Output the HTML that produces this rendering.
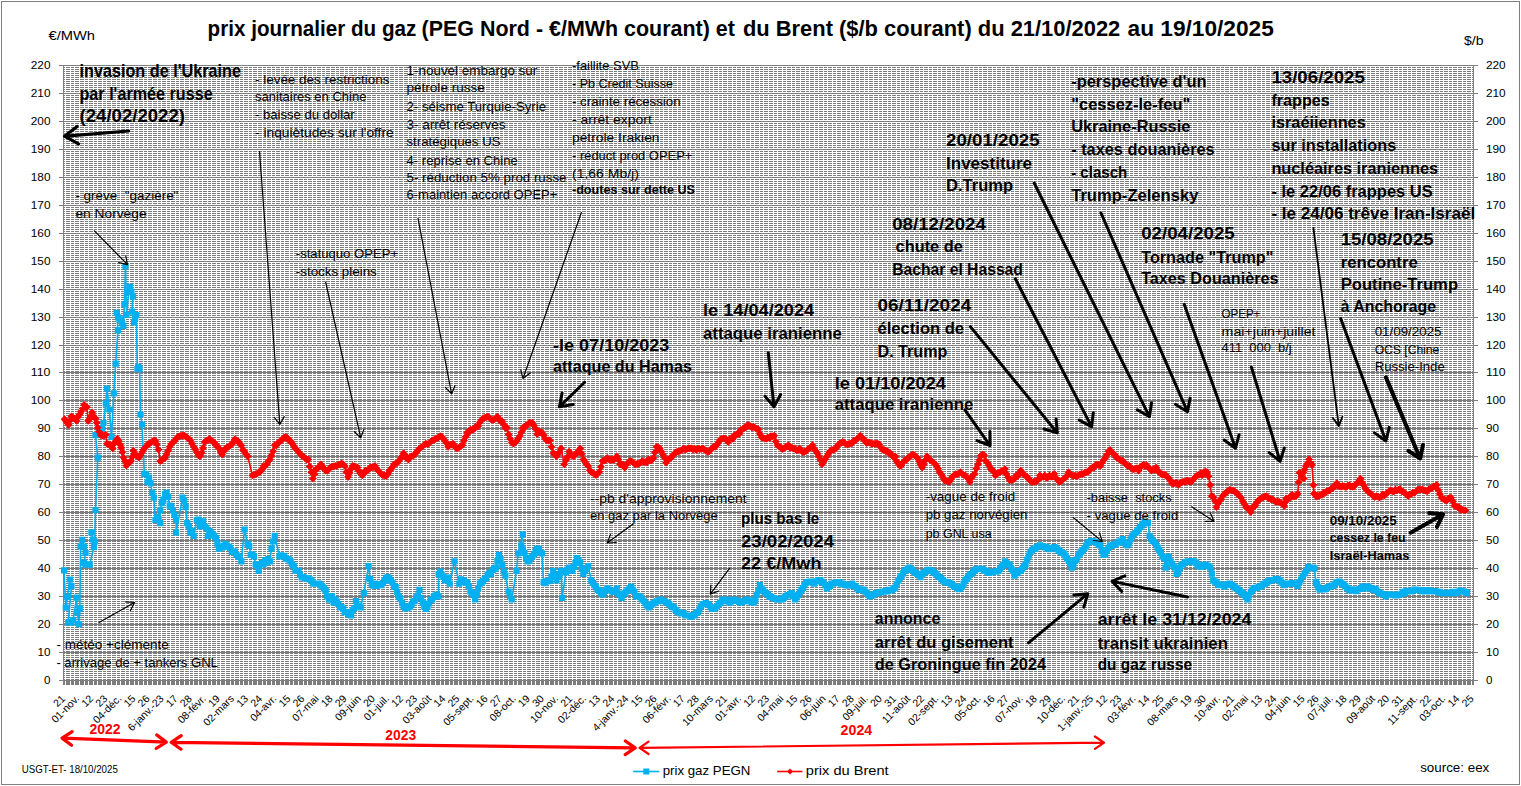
<!DOCTYPE html>
<html><head><meta charset="utf-8"><title>prix journalier gaz et Brent</title>
<style>html,body{margin:0;padding:0;background:#fff;}svg{display:block;}</style></head>
<body><svg width="1521" height="786" viewBox="0 0 1521 786" font-family='"Liberation Sans", sans-serif'>
<rect x="0" y="0" width="1521" height="786" fill="#fff"/>
<rect x="1.5" y="1.5" width="1518" height="783" fill="none" stroke="#808080" stroke-width="1" shape-rendering="crispEdges"/>
<path d="M64 67.5H1473M64 69.5H1473M64 71.5H1473M64 73.5H1473M64 75.5H1473M64 77.5H1473M64 79.5H1473M64 81.5H1473M64 83.5H1473M64 85.5H1473M64 87.5H1473M64 89.5H1473M64 91.5H1473M64 93.5H1473M64 95.5H1473M64 97.5H1473M64 99.5H1473M64 101.5H1473M64 103.5H1473M64 105.5H1473M64 107.5H1473M64 109.5H1473M64 111.5H1473M64 113.5H1473M64 115.5H1473M64 117.5H1473M64 119.5H1473M64 121.5H1473M64 123.5H1473M64 125.5H1473M64 127.5H1473M64 129.5H1473M64 131.5H1473M64 133.5H1473M64 135.5H1473M64 137.5H1473M64 139.5H1473M64 141.5H1473M64 143.5H1473M64 145.5H1473M64 147.5H1473M64 149.5H1473M64 151.5H1473M64 153.5H1473M64 155.5H1473M64 157.5H1473M64 159.5H1473M64 161.5H1473M64 163.5H1473M64 165.5H1473M64 167.5H1473M64 169.5H1473M64 171.5H1473M64 173.5H1473M64 175.5H1473M64 177.5H1473M64 179.5H1473M64 181.5H1473M64 183.5H1473M64 185.5H1473M64 187.5H1473M64 189.5H1473M64 191.5H1473M64 193.5H1473M64 195.5H1473M64 197.5H1473M64 199.5H1473M64 201.5H1473M64 203.5H1473M64 205.5H1473M64 207.5H1473M64 209.5H1473M64 211.5H1473M64 213.5H1473M64 215.5H1473M64 217.5H1473M64 219.5H1473M64 221.5H1473M64 223.5H1473M64 225.5H1473M64 227.5H1473M64 229.5H1473M64 231.5H1473M64 233.5H1473M64 235.5H1473M64 237.5H1473M64 239.5H1473M64 241.5H1473M64 243.5H1473M64 245.5H1473M64 247.5H1473M64 249.5H1473M64 251.5H1473M64 253.5H1473M64 255.5H1473M64 257.5H1473M64 259.5H1473M64 261.5H1473M64 263.5H1473M64 265.5H1473M64 267.5H1473M64 269.5H1473M64 271.5H1473M64 273.5H1473M64 275.5H1473M64 277.5H1473M64 279.5H1473M64 281.5H1473M64 283.5H1473M64 285.5H1473M64 287.5H1473M64 289.5H1473M64 291.5H1473M64 293.5H1473M64 295.5H1473M64 297.5H1473M64 299.5H1473M64 301.5H1473M64 303.5H1473M64 305.5H1473M64 307.5H1473M64 309.5H1473M64 311.5H1473M64 313.5H1473M64 315.5H1473M64 317.5H1473M64 319.5H1473M64 321.5H1473M64 323.5H1473M64 325.5H1473M64 327.5H1473M64 329.5H1473M64 331.5H1473M64 333.5H1473M64 335.5H1473M64 337.5H1473M64 339.5H1473M64 341.5H1473M64 343.5H1473M64 345.5H1473M64 347.5H1473M64 349.5H1473M64 351.5H1473M64 353.5H1473M64 355.5H1473M64 357.5H1473M64 359.5H1473M64 361.5H1473M64 363.5H1473M64 365.5H1473M64 367.5H1473M64 369.5H1473M64 371.5H1473M64 373.5H1473M64 375.5H1473M64 377.5H1473M64 379.5H1473M64 381.5H1473M64 383.5H1473M64 385.5H1473M64 387.5H1473M64 389.5H1473M64 391.5H1473M64 393.5H1473M64 395.5H1473M64 397.5H1473M64 399.5H1473M64 401.5H1473M64 403.5H1473M64 405.5H1473M64 407.5H1473M64 409.5H1473M64 411.5H1473M64 413.5H1473M64 415.5H1473M64 417.5H1473M64 419.5H1473M64 421.5H1473M64 423.5H1473M64 425.5H1473M64 427.5H1473M64 429.5H1473M64 431.5H1473M64 433.5H1473M64 435.5H1473M64 437.5H1473M64 439.5H1473M64 441.5H1473M64 443.5H1473M64 445.5H1473M64 447.5H1473M64 449.5H1473M64 451.5H1473M64 453.5H1473M64 455.5H1473M64 457.5H1473M64 459.5H1473M64 461.5H1473M64 463.5H1473M64 465.5H1473M64 467.5H1473M64 469.5H1473M64 471.5H1473M64 473.5H1473M64 475.5H1473M64 477.5H1473M64 479.5H1473M64 481.5H1473M64 483.5H1473M64 485.5H1473M64 487.5H1473M64 489.5H1473M64 491.5H1473M64 493.5H1473M64 495.5H1473M64 497.5H1473M64 499.5H1473M64 501.5H1473M64 503.5H1473M64 505.5H1473M64 507.5H1473M64 509.5H1473M64 511.5H1473M64 513.5H1473M64 515.5H1473M64 517.5H1473M64 519.5H1473M64 521.5H1473M64 523.5H1473M64 525.5H1473M64 527.5H1473M64 529.5H1473M64 531.5H1473M64 533.5H1473M64 535.5H1473M64 537.5H1473M64 539.5H1473M64 541.5H1473M64 543.5H1473M64 545.5H1473M64 547.5H1473M64 549.5H1473M64 551.5H1473M64 553.5H1473M64 555.5H1473M64 557.5H1473M64 559.5H1473M64 561.5H1473M64 563.5H1473M64 565.5H1473M64 567.5H1473M64 569.5H1473M64 571.5H1473M64 573.5H1473M64 575.5H1473M64 577.5H1473M64 579.5H1473M64 581.5H1473M64 583.5H1473M64 585.5H1473M64 587.5H1473M64 589.5H1473M64 591.5H1473M64 593.5H1473M64 595.5H1473M64 597.5H1473M64 599.5H1473M64 601.5H1473M64 603.5H1473M64 605.5H1473M64 607.5H1473M64 609.5H1473M64 611.5H1473M64 613.5H1473M64 615.5H1473M64 617.5H1473M64 619.5H1473M64 621.5H1473M64 623.5H1473M64 625.5H1473M64 627.5H1473M64 629.5H1473M64 631.5H1473M64 633.5H1473M64 635.5H1473M64 637.5H1473M64 639.5H1473M64 641.5H1473M64 643.5H1473M64 645.5H1473M64 647.5H1473M64 649.5H1473M64 651.5H1473M64 653.5H1473M64 655.5H1473M64 657.5H1473M64 659.5H1473M64 661.5H1473M64 663.5H1473M64 665.5H1473M64 667.5H1473M64 669.5H1473M64 671.5H1473M64 673.5H1473M64 675.5H1473M64 677.5H1473M64 679.5H1473" stroke="#7c7c7c" stroke-width="1" fill="none" shape-rendering="crispEdges"/>
<rect x="63" y="681" width="1411" height="4" fill="#7c7c7c" shape-rendering="crispEdges"/>
<path d="M65.5 66V685M70.5 66V685M74.5 66V685M79.5 66V685M84.5 66V685M88.5 66V685M93.5 66V685M97.5 66V685M102.5 66V685M106.5 66V685M111.5 66V685M116.5 66V685M120.5 66V685M125.5 66V685M129.5 66V685M134.5 66V685M138.5 66V685M143.5 66V685M147.5 66V685M152.5 66V685M157.5 66V685M161.5 66V685M166.5 66V685M170.5 66V685M175.5 66V685M179.5 66V685M184.5 66V685M189.5 66V685M193.5 66V685M198.5 66V685M202.5 66V685M207.5 66V685M211.5 66V685M216.5 66V685M220.5 66V685M225.5 66V685M230.5 66V685M234.5 66V685M239.5 66V685M243.5 66V685M248.5 66V685M252.5 66V685M257.5 66V685M262.5 66V685M266.5 66V685M271.5 66V685M275.5 66V685M280.5 66V685M284.5 66V685M289.5 66V685M293.5 66V685M298.5 66V685M303.5 66V685M307.5 66V685M312.5 66V685M316.5 66V685M321.5 66V685M325.5 66V685M330.5 66V685M335.5 66V685M339.5 66V685M344.5 66V685M348.5 66V685M353.5 66V685M357.5 66V685M362.5 66V685M366.5 66V685M371.5 66V685M376.5 66V685M380.5 66V685M385.5 66V685M389.5 66V685M394.5 66V685M398.5 66V685M403.5 66V685M408.5 66V685M412.5 66V685M417.5 66V685M421.5 66V685M426.5 66V685M430.5 66V685M435.5 66V685M440.5 66V685M444.5 66V685M449.5 66V685M453.5 66V685M458.5 66V685M462.5 66V685M467.5 66V685M471.5 66V685M476.5 66V685M481.5 66V685M485.5 66V685M490.5 66V685M494.5 66V685M499.5 66V685M503.5 66V685M508.5 66V685M513.5 66V685M517.5 66V685M522.5 66V685M526.5 66V685M531.5 66V685M535.5 66V685M540.5 66V685M544.5 66V685M549.5 66V685M554.5 66V685M558.5 66V685M563.5 66V685M567.5 66V685M572.5 66V685M576.5 66V685M581.5 66V685M586.5 66V685M590.5 66V685M595.5 66V685M599.5 66V685M604.5 66V685M608.5 66V685M613.5 66V685M617.5 66V685M622.5 66V685M627.5 66V685M631.5 66V685M636.5 66V685M640.5 66V685M645.5 66V685M649.5 66V685M654.5 66V685M659.5 66V685M663.5 66V685M668.5 66V685M672.5 66V685M677.5 66V685M681.5 66V685M686.5 66V685M690.5 66V685M695.5 66V685M700.5 66V685M704.5 66V685M709.5 66V685M713.5 66V685M718.5 66V685M722.5 66V685M727.5 66V685M732.5 66V685M736.5 66V685M741.5 66V685M745.5 66V685M750.5 66V685M754.5 66V685M759.5 66V685M763.5 66V685M768.5 66V685M773.5 66V685M777.5 66V685M782.5 66V685M786.5 66V685M791.5 66V685M795.5 66V685M800.5 66V685M805.5 66V685M809.5 66V685M814.5 66V685M818.5 66V685M823.5 66V685M827.5 66V685M832.5 66V685M836.5 66V685M841.5 66V685M846.5 66V685M850.5 66V685M855.5 66V685M859.5 66V685M864.5 66V685M868.5 66V685M873.5 66V685M878.5 66V685M882.5 66V685M887.5 66V685M891.5 66V685M896.5 66V685M900.5 66V685M905.5 66V685M909.5 66V685M914.5 66V685M919.5 66V685M923.5 66V685M928.5 66V685M932.5 66V685M937.5 66V685M941.5 66V685M946.5 66V685M951.5 66V685M955.5 66V685M960.5 66V685M964.5 66V685M969.5 66V685M973.5 66V685M978.5 66V685M982.5 66V685M987.5 66V685M992.5 66V685M996.5 66V685M1001.5 66V685M1005.5 66V685M1010.5 66V685M1014.5 66V685M1019.5 66V685M1024.5 66V685M1028.5 66V685M1033.5 66V685M1037.5 66V685M1042.5 66V685M1046.5 66V685M1051.5 66V685M1056.5 66V685M1060.5 66V685M1065.5 66V685M1069.5 66V685M1074.5 66V685M1078.5 66V685M1083.5 66V685M1087.5 66V685M1092.5 66V685M1097.5 66V685M1101.5 66V685M1106.5 66V685M1110.5 66V685M1115.5 66V685M1119.5 66V685M1124.5 66V685M1129.5 66V685M1133.5 66V685M1138.5 66V685M1142.5 66V685M1147.5 66V685M1151.5 66V685M1156.5 66V685M1160.5 66V685M1165.5 66V685M1170.5 66V685M1174.5 66V685M1179.5 66V685M1183.5 66V685M1188.5 66V685M1192.5 66V685M1197.5 66V685M1202.5 66V685M1206.5 66V685M1211.5 66V685M1215.5 66V685M1220.5 66V685M1224.5 66V685M1229.5 66V685M1233.5 66V685M1238.5 66V685M1243.5 66V685M1247.5 66V685M1252.5 66V685M1256.5 66V685M1261.5 66V685M1265.5 66V685M1270.5 66V685M1275.5 66V685M1279.5 66V685M1284.5 66V685M1288.5 66V685M1293.5 66V685M1297.5 66V685M1302.5 66V685M1306.5 66V685M1311.5 66V685M1316.5 66V685M1320.5 66V685M1325.5 66V685M1329.5 66V685M1334.5 66V685M1338.5 66V685M1343.5 66V685M1348.5 66V685M1352.5 66V685M1357.5 66V685M1361.5 66V685M1366.5 66V685M1370.5 66V685M1375.5 66V685M1379.5 66V685M1384.5 66V685M1389.5 66V685M1393.5 66V685M1398.5 66V685M1402.5 66V685M1407.5 66V685M1411.5 66V685M1416.5 66V685M1421.5 66V685M1425.5 66V685M1430.5 66V685M1434.5 66V685M1439.5 66V685M1443.5 66V685M1448.5 66V685M1452.5 66V685M1457.5 66V685M1462.5 66V685M1466.5 66V685M1471.5 66V685" stroke="#fff" stroke-width="1" fill="none" shape-rendering="crispEdges"/>
<path d="M63 680.5H1473M63 652.5H1473M63 624.5H1473M63 596.5H1473M63 568.5H1473M63 540.5H1473M63 512.5H1473M63 484.5H1473M63 456.5H1473M63 428.5H1473M63 400.5H1473M63 372.5H1473M63 345.5H1473M63 317.5H1473M63 289.5H1473M63 261.5H1473M63 233.5H1473M63 205.5H1473M63 177.5H1473M63 149.5H1473M63 121.5H1473M63 93.5H1473M63 65.5H1473" stroke="#808080" stroke-width="1" fill="none" shape-rendering="crispEdges"/>
<path d="M59 680.5H63M59 652.5H63M59 624.5H63M59 596.5H63M59 568.5H63M59 540.5H63M59 512.5H63M59 484.5H63M59 456.5H63M59 428.5H63M59 400.5H63M59 372.5H63M59 345.5H63M59 317.5H63M59 289.5H63M59 261.5H63M59 233.5H63M59 205.5H63M59 177.5H63M59 149.5H63M59 121.5H63M59 93.5H63M59 65.5H63M1473 680.5H1478M1473 652.5H1478M1473 624.5H1478M1473 596.5H1478M1473 568.5H1478M1473 540.5H1478M1473 512.5H1478M1473 484.5H1478M1473 456.5H1478M1473 428.5H1478M1473 400.5H1478M1473 372.5H1478M1473 345.5H1478M1473 317.5H1478M1473 289.5H1478M1473 261.5H1478M1473 233.5H1478M1473 205.5H1478M1473 177.5H1478M1473 149.5H1478M1473 121.5H1478M1473 93.5H1478M1473 65.5H1478" stroke="#808080" stroke-width="1" fill="none" shape-rendering="crispEdges"/>
<path d="M63.5 65V685M1473.5 65V685" stroke="#808080" stroke-width="1" fill="none" shape-rendering="crispEdges"/>
<text x="44.0" y="684.3" font-size="10.5" textLength="6.5" lengthAdjust="spacingAndGlyphs" >0</text>
<text x="1486.0" y="684.3" font-size="10.5" textLength="6.5" lengthAdjust="spacingAndGlyphs" >0</text>
<text x="37.5" y="656.3" font-size="10.5" textLength="13.0" lengthAdjust="spacingAndGlyphs" >10</text>
<text x="1486.0" y="656.3" font-size="10.5" textLength="13.0" lengthAdjust="spacingAndGlyphs" >10</text>
<text x="37.5" y="628.3" font-size="10.5" textLength="13.0" lengthAdjust="spacingAndGlyphs" >20</text>
<text x="1486.0" y="628.3" font-size="10.5" textLength="13.0" lengthAdjust="spacingAndGlyphs" >20</text>
<text x="37.5" y="600.3" font-size="10.5" textLength="13.0" lengthAdjust="spacingAndGlyphs" >30</text>
<text x="1486.0" y="600.3" font-size="10.5" textLength="13.0" lengthAdjust="spacingAndGlyphs" >30</text>
<text x="37.5" y="572.3" font-size="10.5" textLength="13.0" lengthAdjust="spacingAndGlyphs" >40</text>
<text x="1486.0" y="572.3" font-size="10.5" textLength="13.0" lengthAdjust="spacingAndGlyphs" >40</text>
<text x="37.5" y="544.3" font-size="10.5" textLength="13.0" lengthAdjust="spacingAndGlyphs" >50</text>
<text x="1486.0" y="544.3" font-size="10.5" textLength="13.0" lengthAdjust="spacingAndGlyphs" >50</text>
<text x="37.5" y="516.3" font-size="10.5" textLength="13.0" lengthAdjust="spacingAndGlyphs" >60</text>
<text x="1486.0" y="516.3" font-size="10.5" textLength="13.0" lengthAdjust="spacingAndGlyphs" >60</text>
<text x="37.5" y="488.3" font-size="10.5" textLength="13.0" lengthAdjust="spacingAndGlyphs" >70</text>
<text x="1486.0" y="488.3" font-size="10.5" textLength="13.0" lengthAdjust="spacingAndGlyphs" >70</text>
<text x="37.5" y="460.3" font-size="10.5" textLength="13.0" lengthAdjust="spacingAndGlyphs" >80</text>
<text x="1486.0" y="460.3" font-size="10.5" textLength="13.0" lengthAdjust="spacingAndGlyphs" >80</text>
<text x="37.5" y="432.3" font-size="10.5" textLength="13.0" lengthAdjust="spacingAndGlyphs" >90</text>
<text x="1486.0" y="432.3" font-size="10.5" textLength="13.0" lengthAdjust="spacingAndGlyphs" >90</text>
<text x="30.8" y="404.3" font-size="10.5" textLength="19.7" lengthAdjust="spacingAndGlyphs" >100</text>
<text x="1486.0" y="404.3" font-size="10.5" textLength="19.7" lengthAdjust="spacingAndGlyphs" >100</text>
<text x="30.8" y="376.3" font-size="10.5" textLength="19.7" lengthAdjust="spacingAndGlyphs" >110</text>
<text x="1486.0" y="376.3" font-size="10.5" textLength="19.7" lengthAdjust="spacingAndGlyphs" >110</text>
<text x="30.8" y="349.3" font-size="10.5" textLength="19.7" lengthAdjust="spacingAndGlyphs" >120</text>
<text x="1486.0" y="349.3" font-size="10.5" textLength="19.7" lengthAdjust="spacingAndGlyphs" >120</text>
<text x="30.8" y="321.3" font-size="10.5" textLength="19.7" lengthAdjust="spacingAndGlyphs" >130</text>
<text x="1486.0" y="321.3" font-size="10.5" textLength="19.7" lengthAdjust="spacingAndGlyphs" >130</text>
<text x="30.8" y="293.3" font-size="10.5" textLength="19.7" lengthAdjust="spacingAndGlyphs" >140</text>
<text x="1486.0" y="293.3" font-size="10.5" textLength="19.7" lengthAdjust="spacingAndGlyphs" >140</text>
<text x="30.8" y="265.3" font-size="10.5" textLength="19.7" lengthAdjust="spacingAndGlyphs" >150</text>
<text x="1486.0" y="265.3" font-size="10.5" textLength="19.7" lengthAdjust="spacingAndGlyphs" >150</text>
<text x="30.8" y="237.3" font-size="10.5" textLength="19.7" lengthAdjust="spacingAndGlyphs" >160</text>
<text x="1486.0" y="237.3" font-size="10.5" textLength="19.7" lengthAdjust="spacingAndGlyphs" >160</text>
<text x="30.8" y="209.3" font-size="10.5" textLength="19.7" lengthAdjust="spacingAndGlyphs" >170</text>
<text x="1486.0" y="209.3" font-size="10.5" textLength="19.7" lengthAdjust="spacingAndGlyphs" >170</text>
<text x="30.8" y="181.3" font-size="10.5" textLength="19.7" lengthAdjust="spacingAndGlyphs" >180</text>
<text x="1486.0" y="181.3" font-size="10.5" textLength="19.7" lengthAdjust="spacingAndGlyphs" >180</text>
<text x="30.8" y="153.3" font-size="10.5" textLength="19.7" lengthAdjust="spacingAndGlyphs" >190</text>
<text x="1486.0" y="153.3" font-size="10.5" textLength="19.7" lengthAdjust="spacingAndGlyphs" >190</text>
<text x="30.8" y="125.3" font-size="10.5" textLength="19.7" lengthAdjust="spacingAndGlyphs" >200</text>
<text x="1486.0" y="125.3" font-size="10.5" textLength="19.7" lengthAdjust="spacingAndGlyphs" >200</text>
<text x="30.8" y="97.3" font-size="10.5" textLength="19.7" lengthAdjust="spacingAndGlyphs" >210</text>
<text x="1486.0" y="97.3" font-size="10.5" textLength="19.7" lengthAdjust="spacingAndGlyphs" >210</text>
<text x="30.8" y="69.3" font-size="10.5" textLength="19.7" lengthAdjust="spacingAndGlyphs" >220</text>
<text x="1486.0" y="69.3" font-size="10.5" textLength="19.7" lengthAdjust="spacingAndGlyphs" >220</text>
<text x="48.5" y="39.5" font-size="13.0" textLength="46.5" lengthAdjust="spacingAndGlyphs" >€/MWh</text>
<text x="1464.0" y="44.5" font-size="13.0" textLength="19.5" lengthAdjust="spacingAndGlyphs" >$/b</text>
<text x="65.8" y="699.3" font-size="10.5" text-anchor="end" transform="rotate(-45 65.8 699.3)">21</text>
<text x="79.9" y="699.3" font-size="10.5" text-anchor="end" transform="rotate(-45 79.9 699.3)">01-nov.</text>
<text x="94.0" y="699.3" font-size="10.5" text-anchor="end" transform="rotate(-45 94.0 699.3)">12</text>
<text x="108.1" y="699.3" font-size="10.5" text-anchor="end" transform="rotate(-45 108.1 699.3)">23</text>
<text x="122.1" y="699.3" font-size="10.5" text-anchor="end" transform="rotate(-45 122.1 699.3)">04-déc.</text>
<text x="136.2" y="699.3" font-size="10.5" text-anchor="end" transform="rotate(-45 136.2 699.3)">15</text>
<text x="150.3" y="699.3" font-size="10.5" text-anchor="end" transform="rotate(-45 150.3 699.3)">26</text>
<text x="164.4" y="699.3" font-size="10.5" text-anchor="end" transform="rotate(-45 164.4 699.3)">6-janv.-23</text>
<text x="178.5" y="699.3" font-size="10.5" text-anchor="end" transform="rotate(-45 178.5 699.3)">17</text>
<text x="192.6" y="699.3" font-size="10.5" text-anchor="end" transform="rotate(-45 192.6 699.3)">28</text>
<text x="206.7" y="699.3" font-size="10.5" text-anchor="end" transform="rotate(-45 206.7 699.3)">08-févr.</text>
<text x="220.7" y="699.3" font-size="10.5" text-anchor="end" transform="rotate(-45 220.7 699.3)">19</text>
<text x="234.8" y="699.3" font-size="10.5" text-anchor="end" transform="rotate(-45 234.8 699.3)">02-mars</text>
<text x="248.9" y="699.3" font-size="10.5" text-anchor="end" transform="rotate(-45 248.9 699.3)">13</text>
<text x="263.0" y="699.3" font-size="10.5" text-anchor="end" transform="rotate(-45 263.0 699.3)">24</text>
<text x="277.1" y="699.3" font-size="10.5" text-anchor="end" transform="rotate(-45 277.1 699.3)">04-avr.</text>
<text x="291.2" y="699.3" font-size="10.5" text-anchor="end" transform="rotate(-45 291.2 699.3)">15</text>
<text x="305.2" y="699.3" font-size="10.5" text-anchor="end" transform="rotate(-45 305.2 699.3)">26</text>
<text x="319.3" y="699.3" font-size="10.5" text-anchor="end" transform="rotate(-45 319.3 699.3)">07-mai</text>
<text x="333.4" y="699.3" font-size="10.5" text-anchor="end" transform="rotate(-45 333.4 699.3)">18</text>
<text x="347.5" y="699.3" font-size="10.5" text-anchor="end" transform="rotate(-45 347.5 699.3)">29</text>
<text x="361.6" y="699.3" font-size="10.5" text-anchor="end" transform="rotate(-45 361.6 699.3)">09-juin</text>
<text x="375.7" y="699.3" font-size="10.5" text-anchor="end" transform="rotate(-45 375.7 699.3)">20</text>
<text x="389.8" y="699.3" font-size="10.5" text-anchor="end" transform="rotate(-45 389.8 699.3)">01-juil.</text>
<text x="403.8" y="699.3" font-size="10.5" text-anchor="end" transform="rotate(-45 403.8 699.3)">12</text>
<text x="417.9" y="699.3" font-size="10.5" text-anchor="end" transform="rotate(-45 417.9 699.3)">23</text>
<text x="432.0" y="699.3" font-size="10.5" text-anchor="end" transform="rotate(-45 432.0 699.3)">03-août</text>
<text x="446.1" y="699.3" font-size="10.5" text-anchor="end" transform="rotate(-45 446.1 699.3)">14</text>
<text x="460.2" y="699.3" font-size="10.5" text-anchor="end" transform="rotate(-45 460.2 699.3)">25</text>
<text x="474.3" y="699.3" font-size="10.5" text-anchor="end" transform="rotate(-45 474.3 699.3)">05-sept.</text>
<text x="488.4" y="699.3" font-size="10.5" text-anchor="end" transform="rotate(-45 488.4 699.3)">16</text>
<text x="502.4" y="699.3" font-size="10.5" text-anchor="end" transform="rotate(-45 502.4 699.3)">27</text>
<text x="516.5" y="699.3" font-size="10.5" text-anchor="end" transform="rotate(-45 516.5 699.3)">08-oct.</text>
<text x="530.6" y="699.3" font-size="10.5" text-anchor="end" transform="rotate(-45 530.6 699.3)">19</text>
<text x="544.7" y="699.3" font-size="10.5" text-anchor="end" transform="rotate(-45 544.7 699.3)">30</text>
<text x="558.8" y="699.3" font-size="10.5" text-anchor="end" transform="rotate(-45 558.8 699.3)">10-nov.</text>
<text x="572.9" y="699.3" font-size="10.5" text-anchor="end" transform="rotate(-45 572.9 699.3)">21</text>
<text x="586.9" y="699.3" font-size="10.5" text-anchor="end" transform="rotate(-45 586.9 699.3)">02-déc.</text>
<text x="601.0" y="699.3" font-size="10.5" text-anchor="end" transform="rotate(-45 601.0 699.3)">13</text>
<text x="615.1" y="699.3" font-size="10.5" text-anchor="end" transform="rotate(-45 615.1 699.3)">24</text>
<text x="629.2" y="699.3" font-size="10.5" text-anchor="end" transform="rotate(-45 629.2 699.3)">4-janv.-24</text>
<text x="643.3" y="699.3" font-size="10.5" text-anchor="end" transform="rotate(-45 643.3 699.3)">15</text>
<text x="657.4" y="699.3" font-size="10.5" text-anchor="end" transform="rotate(-45 657.4 699.3)">26</text>
<text x="671.5" y="699.3" font-size="10.5" text-anchor="end" transform="rotate(-45 671.5 699.3)">06-févr.</text>
<text x="685.5" y="699.3" font-size="10.5" text-anchor="end" transform="rotate(-45 685.5 699.3)">17</text>
<text x="699.6" y="699.3" font-size="10.5" text-anchor="end" transform="rotate(-45 699.6 699.3)">28</text>
<text x="713.7" y="699.3" font-size="10.5" text-anchor="end" transform="rotate(-45 713.7 699.3)">10-mars</text>
<text x="727.8" y="699.3" font-size="10.5" text-anchor="end" transform="rotate(-45 727.8 699.3)">21</text>
<text x="741.9" y="699.3" font-size="10.5" text-anchor="end" transform="rotate(-45 741.9 699.3)">01-avr.</text>
<text x="756.0" y="699.3" font-size="10.5" text-anchor="end" transform="rotate(-45 756.0 699.3)">12</text>
<text x="770.0" y="699.3" font-size="10.5" text-anchor="end" transform="rotate(-45 770.0 699.3)">23</text>
<text x="784.1" y="699.3" font-size="10.5" text-anchor="end" transform="rotate(-45 784.1 699.3)">04-mai</text>
<text x="798.2" y="699.3" font-size="10.5" text-anchor="end" transform="rotate(-45 798.2 699.3)">15</text>
<text x="812.3" y="699.3" font-size="10.5" text-anchor="end" transform="rotate(-45 812.3 699.3)">26</text>
<text x="826.4" y="699.3" font-size="10.5" text-anchor="end" transform="rotate(-45 826.4 699.3)">06-juin</text>
<text x="840.5" y="699.3" font-size="10.5" text-anchor="end" transform="rotate(-45 840.5 699.3)">17</text>
<text x="854.6" y="699.3" font-size="10.5" text-anchor="end" transform="rotate(-45 854.6 699.3)">28</text>
<text x="868.6" y="699.3" font-size="10.5" text-anchor="end" transform="rotate(-45 868.6 699.3)">09-juil.</text>
<text x="882.7" y="699.3" font-size="10.5" text-anchor="end" transform="rotate(-45 882.7 699.3)">20</text>
<text x="896.8" y="699.3" font-size="10.5" text-anchor="end" transform="rotate(-45 896.8 699.3)">31</text>
<text x="910.9" y="699.3" font-size="10.5" text-anchor="end" transform="rotate(-45 910.9 699.3)">11-août</text>
<text x="925.0" y="699.3" font-size="10.5" text-anchor="end" transform="rotate(-45 925.0 699.3)">22</text>
<text x="939.1" y="699.3" font-size="10.5" text-anchor="end" transform="rotate(-45 939.1 699.3)">02-sept.</text>
<text x="953.2" y="699.3" font-size="10.5" text-anchor="end" transform="rotate(-45 953.2 699.3)">13</text>
<text x="967.2" y="699.3" font-size="10.5" text-anchor="end" transform="rotate(-45 967.2 699.3)">24</text>
<text x="981.3" y="699.3" font-size="10.5" text-anchor="end" transform="rotate(-45 981.3 699.3)">05-oct.</text>
<text x="995.4" y="699.3" font-size="10.5" text-anchor="end" transform="rotate(-45 995.4 699.3)">16</text>
<text x="1009.5" y="699.3" font-size="10.5" text-anchor="end" transform="rotate(-45 1009.5 699.3)">27</text>
<text x="1023.6" y="699.3" font-size="10.5" text-anchor="end" transform="rotate(-45 1023.6 699.3)">07-nov.</text>
<text x="1037.7" y="699.3" font-size="10.5" text-anchor="end" transform="rotate(-45 1037.7 699.3)">18</text>
<text x="1051.8" y="699.3" font-size="10.5" text-anchor="end" transform="rotate(-45 1051.8 699.3)">29</text>
<text x="1065.8" y="699.3" font-size="10.5" text-anchor="end" transform="rotate(-45 1065.8 699.3)">10-déc.</text>
<text x="1079.9" y="699.3" font-size="10.5" text-anchor="end" transform="rotate(-45 1079.9 699.3)">21</text>
<text x="1094.0" y="699.3" font-size="10.5" text-anchor="end" transform="rotate(-45 1094.0 699.3)">1-janv.-25</text>
<text x="1108.1" y="699.3" font-size="10.5" text-anchor="end" transform="rotate(-45 1108.1 699.3)">12</text>
<text x="1122.2" y="699.3" font-size="10.5" text-anchor="end" transform="rotate(-45 1122.2 699.3)">23</text>
<text x="1136.3" y="699.3" font-size="10.5" text-anchor="end" transform="rotate(-45 1136.3 699.3)">03-févr.</text>
<text x="1150.3" y="699.3" font-size="10.5" text-anchor="end" transform="rotate(-45 1150.3 699.3)">14</text>
<text x="1164.4" y="699.3" font-size="10.5" text-anchor="end" transform="rotate(-45 1164.4 699.3)">25</text>
<text x="1178.5" y="699.3" font-size="10.5" text-anchor="end" transform="rotate(-45 1178.5 699.3)">08-mars</text>
<text x="1192.6" y="699.3" font-size="10.5" text-anchor="end" transform="rotate(-45 1192.6 699.3)">19</text>
<text x="1206.7" y="699.3" font-size="10.5" text-anchor="end" transform="rotate(-45 1206.7 699.3)">30</text>
<text x="1220.8" y="699.3" font-size="10.5" text-anchor="end" transform="rotate(-45 1220.8 699.3)">10-avr.</text>
<text x="1234.9" y="699.3" font-size="10.5" text-anchor="end" transform="rotate(-45 1234.9 699.3)">21</text>
<text x="1248.9" y="699.3" font-size="10.5" text-anchor="end" transform="rotate(-45 1248.9 699.3)">02-mai</text>
<text x="1263.0" y="699.3" font-size="10.5" text-anchor="end" transform="rotate(-45 1263.0 699.3)">13</text>
<text x="1277.1" y="699.3" font-size="10.5" text-anchor="end" transform="rotate(-45 1277.1 699.3)">24</text>
<text x="1291.2" y="699.3" font-size="10.5" text-anchor="end" transform="rotate(-45 1291.2 699.3)">04-juin</text>
<text x="1305.3" y="699.3" font-size="10.5" text-anchor="end" transform="rotate(-45 1305.3 699.3)">15</text>
<text x="1319.4" y="699.3" font-size="10.5" text-anchor="end" transform="rotate(-45 1319.4 699.3)">26</text>
<text x="1333.5" y="699.3" font-size="10.5" text-anchor="end" transform="rotate(-45 1333.5 699.3)">07-juil.</text>
<text x="1347.5" y="699.3" font-size="10.5" text-anchor="end" transform="rotate(-45 1347.5 699.3)">18</text>
<text x="1361.6" y="699.3" font-size="10.5" text-anchor="end" transform="rotate(-45 1361.6 699.3)">29</text>
<text x="1375.7" y="699.3" font-size="10.5" text-anchor="end" transform="rotate(-45 1375.7 699.3)">09-août</text>
<text x="1389.8" y="699.3" font-size="10.5" text-anchor="end" transform="rotate(-45 1389.8 699.3)">20</text>
<text x="1403.9" y="699.3" font-size="10.5" text-anchor="end" transform="rotate(-45 1403.9 699.3)">31</text>
<text x="1418.0" y="699.3" font-size="10.5" text-anchor="end" transform="rotate(-45 1418.0 699.3)">11-sept.</text>
<text x="1432.0" y="699.3" font-size="10.5" text-anchor="end" transform="rotate(-45 1432.0 699.3)">22</text>
<text x="1446.1" y="699.3" font-size="10.5" text-anchor="end" transform="rotate(-45 1446.1 699.3)">03-oct.</text>
<text x="1460.2" y="699.3" font-size="10.5" text-anchor="end" transform="rotate(-45 1460.2 699.3)">14</text>
<text x="1474.3" y="699.3" font-size="10.5" text-anchor="end" transform="rotate(-45 1474.3 699.3)">25</text>
<text x="207.6" y="36.0" font-size="22.5" font-weight="bold" textLength="208.7" lengthAdjust="spacingAndGlyphs" >prix journalier du gaz</text>
<text x="421.6" y="36.0" font-size="22.5" font-weight="bold" textLength="313.2" lengthAdjust="spacingAndGlyphs" >(PEG Nord - €/MWh courant) et</text>
<text x="742.9" y="36.0" font-size="22.5" font-weight="bold" textLength="377.4" lengthAdjust="spacingAndGlyphs" >du Brent ($/b courant) du 21/10/2022</text>
<text x="1127.6" y="36.0" font-size="22.5" font-weight="bold" textLength="146.2" lengthAdjust="spacingAndGlyphs" >au 19/10/2025</text>
<path d="M64.1,570.4 65.8,607.6 67.4,596.8 69.9,579.5 71.5,586.1 68.2,622.5 69.9,621.8 71.5,622.6 73.2,620.0 76.5,597.7 77.3,612.5 79.0,624.1 79.8,608.4 80.6,546.4 82.3,539.8 83.9,546.5 85.6,553.0 83.9,562.9 85.4,564.7 86.8,564.4 88.2,564.3 89.7,564.6 93.9,547.2 91.4,532.3 93.1,539.5 94.7,541.4 95.5,510.0 97.8,457.6 95.5,435.2 97.1,435.0 98.7,432.0 100.3,430.1 101.9,428.7 103.5,423.2 105.8,403.7 107.0,388.5 109.3,409.5 111.5,437.0 113.8,393.4 115.7,363.6 117.9,330.1 116.8,312.8 118.2,317.3 119.7,319.6 121.1,319.3 122.2,323.1 123.3,325.8 124.4,304.1 125.5,266.2 126.5,315.0 128.7,292.2 129.8,286.8 131.4,291.6 133.0,296.5 132.0,311.7 134.1,322.5 135.2,318.1 136.3,315.0 137.4,369.0 138.4,366.8 139.5,369.0 140.6,414.5 142.0,424.5 144.3,473.8 145.9,474.1 147.5,481.8 149.1,477.7 150.6,483.4 152.2,492.9 153.8,497.7 155.4,520.0 157.0,517.1 158.6,518.9 160.2,523.1 160.2,510.4 161.8,503.2 163.4,499.6 165.0,494.0 166.6,492.9 168.1,496.7 169.7,505.6 171.3,506.4 172.9,510.4 174.5,515.0 176.1,520.0 176.1,532.7 182.5,497.7 184.1,501.2 185.6,507.2 187.2,523.1 188.8,526.4 190.4,532.7 192.0,530.5 193.6,535.9 196.8,520.0 198.4,519.7 199.9,526.3 201.5,521.3 203.1,521.3 204.7,526.3 206.3,528.0 207.9,535.9 209.5,530.9 211.1,533.1 212.7,534.2 214.3,535.9 215.9,538.4 217.4,543.7 219.0,548.6 220.6,547.6 222.2,547.7 223.8,545.8 225.4,543.8 227.0,545.7 228.6,546.9 230.2,547.8 231.8,551.8 233.4,551.3 234.9,551.7 236.5,554.9 238.1,556.8 239.7,556.5 241.3,561.3 244.5,529.5 247.7,543.8 249.2,545.9 250.8,554.9 252.4,554.3 254.0,556.3 255.6,564.5 257.2,565.9 258.8,570.8 260.4,564.2 262.0,562.9 263.6,564.5 265.2,560.2 266.8,562.5 268.3,559.2 269.9,561.3 271.5,548.6 273.1,541.5 274.7,535.9 279.5,556.5 281.1,555.3 282.6,555.9 284.2,555.8 285.8,558.1 287.4,559.1 289.0,559.4 290.6,561.3 292.2,564.5 293.8,565.9 295.4,570.6 297.0,570.8 298.6,570.6 300.1,574.7 301.7,577.4 303.3,577.2 304.9,578.2 306.4,578.7 308.0,578.0 309.7,579.3 311.4,580.4 313.0,583.3 314.6,583.6 316.1,583.5 317.7,583.5 319.3,583.6 320.9,585.3 322.5,586.6 324.1,588.3 325.7,591.1 327.3,596.3 328.9,599.7 330.5,598.3 332.0,596.0 333.6,602.6 335.2,599.4 336.8,601.5 338.4,604.1 340.0,607.4 341.6,607.1 343.2,609.0 344.8,612.2 346.4,612.2 348.0,614.5 349.5,614.5 351.1,615.4 352.7,610.1 354.3,608.0 355.9,601.1 357.5,605.5 359.1,605.7 360.7,607.4 363.8,593.1 368.6,566.1 370.2,578.8 371.8,583.8 373.4,585.6 375.0,583.6 376.6,585.9 378.1,584.3 379.7,585.1 381.3,585.2 382.9,583.0 384.5,580.6 386.1,578.1 387.7,577.0 389.3,578.8 390.9,580.6 392.5,582.8 394.1,586.7 395.7,587.1 397.2,591.9 398.8,596.3 400.4,598.6 402.0,603.1 403.6,605.8 405.2,608.3 406.8,608.1 408.4,607.4 410.0,606.6 411.5,604.7 413.1,601.5 414.7,601.1 416.3,597.4 417.9,595.5 419.5,589.9 421.1,597.9 422.7,602.6 424.3,606.7 425.9,609.0 427.5,607.0 429.0,603.5 430.6,600.2 432.2,599.5 433.8,596.9 435.4,595.5 437.0,594.7 438.6,596.3 438.6,574.0 440.2,571.7 441.8,574.7 443.3,577.0 444.9,580.4 446.5,578.6 448.1,577.5 449.7,583.6 454.5,561.3 459.3,583.6 460.9,579.3 462.5,581.3 464.0,580.3 465.6,582.0 467.2,583.0 468.8,585.9 470.4,591.5 472.0,593.2 473.6,594.9 475.2,599.5 476.8,594.1 478.3,588.4 479.9,583.6 481.5,582.8 483.1,581.1 484.7,578.8 486.3,577.8 487.9,574.6 489.5,572.9 491.1,574.0 492.7,569.9 494.2,569.1 495.8,567.7 497.4,561.1 499.0,554.9 500.6,559.0 502.2,565.0 503.8,571.5 505.4,575.6 508.6,591.5 510.1,596.1 511.7,599.5 516.5,570.8 518.1,553.3 522.9,534.3 521.3,545.4 522.9,549.3 524.5,552.8 526.0,558.0 527.6,561.3 529.2,560.9 530.8,557.8 532.4,556.5 534.0,554.1 535.6,550.8 537.2,548.6 538.8,548.8 540.3,552.4 541.9,553.3 543.6,582.0 545.2,583.2 546.8,581.4 548.3,581.1 549.9,580.4 551.5,576.5 553.2,570.8 554.8,575.4 556.4,580.4 558.0,576.9 559.5,574.6 561.1,570.8 562.1,597.9 565.9,572.4 567.5,569.5 569.1,567.7 570.7,569.0 572.3,570.8 573.9,566.8 575.4,562.8 577.0,558.1 578.6,560.1 580.2,562.9 581.8,568.3 583.4,574.0 585.0,570.8 586.6,568.6 588.2,566.1 591.3,580.4 592.9,583.0 594.5,585.5 596.1,587.3 597.7,589.9 599.3,591.0 600.9,593.2 602.5,594.7 604.1,592.1 605.7,590.4 607.3,588.3 608.9,589.6 610.4,590.5 612.0,591.5 613.6,591.9 615.2,590.5 616.8,588.3 618.4,593.6 620.0,595.1 621.6,597.9 623.2,594.7 624.7,593.4 626.3,591.5 627.9,590.1 629.5,588.3 631.1,586.7 632.7,589.9 634.3,591.9 635.9,596.3 637.5,595.9 639.0,596.4 640.6,597.4 642.2,599.5 643.8,601.0 645.4,603.1 647.0,605.4 648.6,607.4 650.2,605.8 651.8,604.4 653.4,603.4 655.0,602.6 656.6,601.4 658.1,601.5 659.7,600.1 661.3,599.5 662.9,601.2 664.5,601.2 666.1,602.6 667.7,602.6 669.3,603.9 670.9,606.0 672.4,607.1 674.0,607.4 675.6,609.9 677.2,611.7 678.8,612.2 680.4,613.5 682.0,613.5 683.6,613.2 685.2,615.4 686.8,615.5 688.4,615.5 689.9,615.7 691.5,617.0 693.1,615.1 694.7,615.3 696.3,612.9 697.9,612.2 699.5,609.3 701.1,606.5 702.7,604.2 704.3,604.2 705.8,603.1 707.4,604.2 709.0,604.8 710.6,607.1 712.2,609.0 713.8,608.5 715.4,608.1 717.0,606.0 718.6,604.2 720.2,603.1 721.7,601.4 723.3,599.5 724.9,599.7 726.5,599.8 728.1,601.3 729.7,602.6 731.3,601.3 732.9,600.3 734.5,599.5 736.1,600.8 737.6,600.8 739.2,602.0 740.8,602.6 742.4,601.9 744.0,601.1 745.6,600.6 747.2,599.5 748.8,600.6 750.4,601.5 752.0,602.3 753.6,602.6 755.2,599.8 756.8,594.8 758.3,590.9 759.9,585.2 761.5,588.5 763.1,590.0 764.7,592.2 766.3,593.1 767.9,594.6 769.5,596.4 771.0,596.9 772.6,597.9 774.2,598.2 775.8,598.8 777.4,599.7 779.0,599.5 780.6,599.7 782.2,599.2 783.8,597.9 785.4,596.3 787.0,595.5 788.5,595.1 790.1,594.3 791.7,593.1 793.4,596.1 795.0,599.5 796.6,597.5 798.2,595.1 799.8,592.0 801.4,589.9 803.0,588.0 804.5,585.2 806.1,582.9 807.7,582.0 809.3,581.8 810.9,581.5 812.5,582.2 814.1,583.6 815.7,581.3 817.2,581.3 818.8,580.2 820.4,580.4 822.0,581.8 823.6,583.0 825.2,585.1 826.8,588.3 828.4,586.8 830.0,586.0 831.6,583.7 833.2,583.6 834.8,582.9 836.4,583.1 837.9,582.4 839.5,582.0 841.1,583.7 842.7,583.6 844.3,584.4 845.9,585.2 847.5,585.4 849.1,585.7 850.7,585.7 852.3,583.6 853.9,585.8 855.5,586.2 857.0,588.1 858.6,589.9 860.2,589.3 861.8,589.9 863.4,589.7 865.0,591.5 866.6,592.7 868.1,594.9 869.7,596.3 871.3,596.0 872.9,595.1 874.5,594.2 876.1,593.1 877.7,592.7 879.3,592.6 880.9,592.2 882.5,591.5 884.1,591.6 885.6,590.8 887.2,591.5 888.8,589.9 890.4,590.5 892.0,590.5 893.6,588.3 895.2,587.7 896.8,584.0 898.4,580.4 900.0,577.7 901.5,576.2 903.1,573.4 904.7,570.8 906.3,570.0 907.9,568.7 909.5,567.7 911.1,569.3 912.7,570.2 914.3,572.4 915.9,573.0 917.5,574.1 919.0,575.5 920.6,577.2 922.2,573.8 923.8,573.2 925.4,572.0 927.0,570.8 928.6,569.8 930.2,570.1 931.8,570.9 933.4,572.4 935.0,573.2 936.5,574.5 938.1,576.6 939.7,577.2 941.3,579.2 942.9,580.1 944.5,582.0 946.1,581.8 947.6,582.8 949.2,582.8 950.8,583.6 952.4,584.9 954.0,586.4 955.6,586.7 957.2,588.2 958.8,589.1 960.4,588.3 962.0,586.5 963.6,583.7 965.2,580.4 966.8,578.9 968.4,576.9 969.9,574.5 971.5,574.0 973.1,571.9 974.7,570.6 976.3,569.1 977.9,568.8 979.5,569.2 981.1,568.8 982.6,569.2 984.2,570.6 985.8,570.8 987.4,571.9 989.0,572.8 990.6,572.5 992.2,572.4 993.8,571.5 995.4,571.6 997.0,571.4 998.6,570.8 1000.2,569.0 1001.8,566.7 1003.3,564.9 1004.9,561.3 1006.5,563.1 1008.1,564.4 1009.7,564.5 1011.3,568.4 1012.9,570.7 1014.5,575.6 1016.1,573.2 1017.6,573.2 1019.2,571.0 1020.8,570.8 1022.4,568.6 1024.0,566.1 1025.6,564.5 1027.2,559.6 1028.8,555.6 1030.4,551.8 1032.0,550.5 1033.5,548.9 1035.1,548.6 1036.7,547.1 1038.4,546.4 1040.0,545.4 1041.6,546.2 1043.2,546.1 1044.8,547.4 1046.4,547.0 1048.0,548.8 1049.6,549.2 1051.1,548.3 1052.7,548.1 1054.3,547.0 1055.9,547.9 1057.5,549.4 1059.1,550.9 1060.7,551.8 1062.3,552.9 1063.8,553.7 1065.4,555.7 1067.0,558.1 1068.6,561.0 1070.2,563.8 1071.8,567.7 1073.4,564.4 1075.0,560.4 1076.6,559.7 1078.2,555.4 1079.8,553.6 1081.3,551.7 1082.9,550.2 1084.5,548.4 1086.1,545.7 1087.7,542.5 1089.3,542.2 1090.9,541.2 1092.5,541.1 1094.1,541.5 1095.7,542.2 1097.3,543.2 1098.8,544.6 1100.4,545.4 1102.0,551.2 1103.6,554.9 1105.2,554.1 1106.8,550.4 1108.4,547.9 1110.0,545.4 1111.6,546.0 1113.2,544.8 1114.7,544.6 1116.3,543.6 1117.9,542.2 1119.5,541.5 1121.1,541.3 1122.7,539.0 1124.3,542.7 1125.9,544.3 1127.5,545.4 1129.1,543.5 1130.6,539.3 1132.2,535.9 1133.8,534.0 1135.4,533.0 1137.0,531.4 1138.6,529.5 1140.2,527.1 1141.8,525.4 1143.4,523.7 1145.0,521.5 1146.5,523.2 1148.1,523.1 1149.7,535.9 1151.3,539.2 1152.9,540.9 1154.5,542.2 1156.1,545.1 1157.7,547.7 1159.3,550.2 1160.9,552.8 1162.4,556.3 1164.0,558.1 1165.6,567.7 1167.2,563.7 1168.8,556.5 1170.4,561.3 1172.0,563.8 1173.6,566.0 1175.2,567.7 1176.8,574.0 1178.4,572.2 1179.9,568.5 1181.5,564.5 1183.1,564.5 1184.7,562.5 1186.3,562.1 1187.9,561.3 1189.5,562.1 1191.1,561.2 1192.7,561.3 1194.3,561.4 1195.8,562.8 1197.4,565.2 1199.0,566.1 1200.6,566.8 1202.2,565.9 1203.8,565.1 1205.4,564.5 1207.0,565.6 1208.6,566.1 1210.2,567.7 1211.8,573.7 1213.3,580.4 1214.9,581.6 1216.5,582.4 1218.1,585.2 1219.7,584.3 1221.3,584.9 1222.9,585.0 1224.5,586.7 1225.9,584.3 1227.2,584.4 1228.6,585.0 1230.0,583.6 1231.6,585.0 1233.2,585.9 1234.8,587.4 1236.4,588.3 1238.0,589.6 1239.6,590.3 1241.1,592.4 1242.7,593.1 1244.3,595.0 1245.9,596.8 1247.5,599.5 1249.1,595.4 1250.7,591.9 1252.3,589.9 1253.9,588.1 1255.4,587.9 1257.0,588.0 1258.6,586.7 1260.2,586.7 1261.8,585.8 1263.4,584.1 1265.0,583.6 1266.6,582.6 1268.2,581.3 1269.7,580.6 1271.3,580.4 1272.9,580.1 1274.5,579.8 1276.1,579.2 1277.7,578.8 1279.3,580.0 1280.9,581.7 1282.5,583.4 1284.1,585.2 1285.7,584.1 1287.2,583.6 1288.8,583.9 1290.4,583.6 1292.2,583.1 1294.0,583.7 1295.8,583.8 1297.6,585.9 1299.4,582.4 1301.1,579.5 1302.9,576.0 1304.7,573.4 1306.4,570.5 1308.2,566.8 1309.8,567.8 1311.3,568.2 1312.9,567.5 1314.4,568.3 1315.9,582.1 1317.2,584.4 1318.4,587.4 1319.7,589.7 1321.2,588.8 1322.8,589.3 1324.3,589.5 1325.8,588.9 1327.3,587.7 1328.8,587.0 1330.4,586.4 1331.9,585.6 1333.4,585.9 1334.9,584.2 1336.5,582.3 1338.0,582.1 1339.3,581.7 1340.7,582.7 1342.1,583.8 1343.4,584.4 1345.2,586.2 1346.9,587.8 1348.7,589.7 1350.2,590.3 1351.7,589.4 1353.3,590.4 1354.8,590.6 1356.3,591.2 1357.9,589.5 1359.4,588.8 1361.0,589.0 1362.5,587.0 1363.9,586.4 1365.3,586.3 1366.8,588.3 1368.4,586.6 1369.9,588.0 1371.5,588.1 1373.1,589.9 1374.7,588.9 1376.3,589.6 1377.9,591.9 1379.5,593.1 1381.1,593.6 1382.7,594.1 1384.3,594.5 1385.9,596.3 1387.5,594.5 1389.1,594.3 1390.6,594.5 1392.2,594.7 1393.8,594.9 1395.4,595.5 1397.0,595.5 1398.6,594.7 1400.2,594.5 1401.8,593.5 1403.3,591.9 1404.9,593.1 1406.5,590.9 1408.1,591.2 1409.7,590.9 1411.3,591.5 1412.9,590.5 1414.5,589.5 1416.1,589.9 1417.7,589.9 1419.3,590.2 1420.8,590.6 1422.4,591.3 1424.0,591.5 1425.6,590.3 1427.2,590.3 1428.8,590.1 1430.4,591.5 1432.0,591.5 1433.6,591.4 1435.1,591.1 1436.7,591.5 1438.3,592.1 1439.9,591.8 1441.5,593.2 1443.1,593.1 1444.7,593.1 1446.3,593.0 1447.9,592.5 1449.5,593.1 1451.1,593.1 1452.7,591.8 1454.2,592.6 1455.8,593.1 1457.4,591.8 1459.0,591.7 1460.6,590.7 1462.2,591.5 1463.8,591.3 1465.4,592.1 1467.0,593.1" stroke="#00B0F0" stroke-width="1.6" fill="none" stroke-linejoin="round"/>
<path d="M61.0 567.3h6.2v6.2h-6.2zM62.7 604.5h6.2v6.2h-6.2zM64.3 593.7h6.2v6.2h-6.2zM66.8 576.4h6.2v6.2h-6.2zM68.4 583.0h6.2v6.2h-6.2zM65.1 619.4h6.2v6.2h-6.2zM66.8 618.7h6.2v6.2h-6.2zM68.4 619.5h6.2v6.2h-6.2zM70.1 616.9h6.2v6.2h-6.2zM73.4 594.6h6.2v6.2h-6.2zM74.2 609.4h6.2v6.2h-6.2zM75.9 621.0h6.2v6.2h-6.2zM76.7 605.3h6.2v6.2h-6.2zM77.5 543.3h6.2v6.2h-6.2zM79.2 536.7h6.2v6.2h-6.2zM80.8 543.4h6.2v6.2h-6.2zM82.5 549.9h6.2v6.2h-6.2zM80.8 559.8h6.2v6.2h-6.2zM82.3 561.6h6.2v6.2h-6.2zM83.7 561.3h6.2v6.2h-6.2zM85.2 561.2h6.2v6.2h-6.2zM86.6 561.5h6.2v6.2h-6.2zM90.8 544.1h6.2v6.2h-6.2zM88.3 529.2h6.2v6.2h-6.2zM90.0 536.4h6.2v6.2h-6.2zM91.6 538.3h6.2v6.2h-6.2zM92.4 506.9h6.2v6.2h-6.2zM94.7 454.5h6.2v6.2h-6.2zM92.4 432.1h6.2v6.2h-6.2zM94.0 431.9h6.2v6.2h-6.2zM95.6 428.9h6.2v6.2h-6.2zM97.2 427.0h6.2v6.2h-6.2zM98.8 425.6h6.2v6.2h-6.2zM100.4 420.1h6.2v6.2h-6.2zM102.7 400.6h6.2v6.2h-6.2zM103.9 385.4h6.2v6.2h-6.2zM106.2 406.4h6.2v6.2h-6.2zM108.4 433.9h6.2v6.2h-6.2zM110.7 390.3h6.2v6.2h-6.2zM112.6 360.5h6.2v6.2h-6.2zM114.8 327.0h6.2v6.2h-6.2zM113.7 309.7h6.2v6.2h-6.2zM115.1 314.2h6.2v6.2h-6.2zM116.6 316.5h6.2v6.2h-6.2zM118.0 316.2h6.2v6.2h-6.2zM119.1 320.0h6.2v6.2h-6.2zM120.2 322.7h6.2v6.2h-6.2zM121.3 301.0h6.2v6.2h-6.2zM122.4 263.1h6.2v6.2h-6.2zM123.4 311.9h6.2v6.2h-6.2zM125.6 289.1h6.2v6.2h-6.2zM126.7 283.7h6.2v6.2h-6.2zM128.3 288.5h6.2v6.2h-6.2zM129.9 293.4h6.2v6.2h-6.2zM128.9 308.6h6.2v6.2h-6.2zM131.0 319.4h6.2v6.2h-6.2zM132.1 315.0h6.2v6.2h-6.2zM133.2 311.9h6.2v6.2h-6.2zM134.3 365.9h6.2v6.2h-6.2zM135.3 363.7h6.2v6.2h-6.2zM136.4 365.9h6.2v6.2h-6.2zM137.5 411.4h6.2v6.2h-6.2zM138.9 421.4h6.2v6.2h-6.2zM141.2 470.7h6.2v6.2h-6.2zM142.8 471.0h6.2v6.2h-6.2zM144.4 478.7h6.2v6.2h-6.2zM146.0 474.6h6.2v6.2h-6.2zM147.5 480.3h6.2v6.2h-6.2zM149.1 489.8h6.2v6.2h-6.2zM150.7 494.6h6.2v6.2h-6.2zM152.3 516.9h6.2v6.2h-6.2zM153.9 514.0h6.2v6.2h-6.2zM155.5 515.8h6.2v6.2h-6.2zM157.1 520.0h6.2v6.2h-6.2zM157.1 507.3h6.2v6.2h-6.2zM158.7 500.1h6.2v6.2h-6.2zM160.3 496.5h6.2v6.2h-6.2zM161.9 490.9h6.2v6.2h-6.2zM163.5 489.8h6.2v6.2h-6.2zM165.0 493.6h6.2v6.2h-6.2zM166.6 502.5h6.2v6.2h-6.2zM168.2 503.3h6.2v6.2h-6.2zM169.8 507.3h6.2v6.2h-6.2zM171.4 511.9h6.2v6.2h-6.2zM173.0 516.9h6.2v6.2h-6.2zM173.0 529.6h6.2v6.2h-6.2zM179.4 494.6h6.2v6.2h-6.2zM181.0 498.1h6.2v6.2h-6.2zM182.5 504.1h6.2v6.2h-6.2zM184.1 520.0h6.2v6.2h-6.2zM185.7 523.3h6.2v6.2h-6.2zM187.3 529.6h6.2v6.2h-6.2zM188.9 527.4h6.2v6.2h-6.2zM190.5 532.8h6.2v6.2h-6.2zM193.7 516.9h6.2v6.2h-6.2zM195.3 516.6h6.2v6.2h-6.2zM196.8 523.2h6.2v6.2h-6.2zM198.4 518.2h6.2v6.2h-6.2zM200.0 518.2h6.2v6.2h-6.2zM201.6 523.2h6.2v6.2h-6.2zM203.2 524.9h6.2v6.2h-6.2zM204.8 532.8h6.2v6.2h-6.2zM206.4 527.8h6.2v6.2h-6.2zM208.0 530.0h6.2v6.2h-6.2zM209.6 531.1h6.2v6.2h-6.2zM211.2 532.8h6.2v6.2h-6.2zM212.8 535.3h6.2v6.2h-6.2zM214.3 540.6h6.2v6.2h-6.2zM215.9 545.5h6.2v6.2h-6.2zM217.5 544.5h6.2v6.2h-6.2zM219.1 544.6h6.2v6.2h-6.2zM220.7 542.7h6.2v6.2h-6.2zM222.3 540.7h6.2v6.2h-6.2zM223.9 542.6h6.2v6.2h-6.2zM225.5 543.8h6.2v6.2h-6.2zM227.1 544.7h6.2v6.2h-6.2zM228.7 548.7h6.2v6.2h-6.2zM230.3 548.2h6.2v6.2h-6.2zM231.8 548.6h6.2v6.2h-6.2zM233.4 551.8h6.2v6.2h-6.2zM235.0 553.7h6.2v6.2h-6.2zM236.6 553.4h6.2v6.2h-6.2zM238.2 558.2h6.2v6.2h-6.2zM241.4 526.4h6.2v6.2h-6.2zM244.6 540.7h6.2v6.2h-6.2zM246.2 542.8h6.2v6.2h-6.2zM247.7 551.8h6.2v6.2h-6.2zM249.3 551.2h6.2v6.2h-6.2zM250.9 553.2h6.2v6.2h-6.2zM252.5 561.4h6.2v6.2h-6.2zM254.1 562.8h6.2v6.2h-6.2zM255.7 567.7h6.2v6.2h-6.2zM257.3 561.1h6.2v6.2h-6.2zM258.9 559.8h6.2v6.2h-6.2zM260.5 561.4h6.2v6.2h-6.2zM262.1 557.1h6.2v6.2h-6.2zM263.6 559.4h6.2v6.2h-6.2zM265.2 556.1h6.2v6.2h-6.2zM266.8 558.2h6.2v6.2h-6.2zM268.4 545.5h6.2v6.2h-6.2zM270.0 538.4h6.2v6.2h-6.2zM271.6 532.8h6.2v6.2h-6.2zM276.4 553.4h6.2v6.2h-6.2zM278.0 552.2h6.2v6.2h-6.2zM279.5 552.8h6.2v6.2h-6.2zM281.1 552.7h6.2v6.2h-6.2zM282.7 555.0h6.2v6.2h-6.2zM284.3 556.0h6.2v6.2h-6.2zM285.9 556.3h6.2v6.2h-6.2zM287.5 558.2h6.2v6.2h-6.2zM289.1 561.4h6.2v6.2h-6.2zM290.7 562.8h6.2v6.2h-6.2zM292.3 567.5h6.2v6.2h-6.2zM293.9 567.7h6.2v6.2h-6.2zM295.5 567.5h6.2v6.2h-6.2zM297.0 571.6h6.2v6.2h-6.2zM298.6 574.3h6.2v6.2h-6.2zM300.2 574.1h6.2v6.2h-6.2zM301.8 575.1h6.2v6.2h-6.2zM303.3 575.6h6.2v6.2h-6.2zM304.9 574.9h6.2v6.2h-6.2zM306.6 576.2h6.2v6.2h-6.2zM308.3 577.3h6.2v6.2h-6.2zM309.9 580.2h6.2v6.2h-6.2zM311.5 580.5h6.2v6.2h-6.2zM313.0 580.4h6.2v6.2h-6.2zM314.6 580.4h6.2v6.2h-6.2zM316.2 580.5h6.2v6.2h-6.2zM317.8 582.2h6.2v6.2h-6.2zM319.4 583.5h6.2v6.2h-6.2zM321.0 585.2h6.2v6.2h-6.2zM322.6 588.0h6.2v6.2h-6.2zM324.2 593.2h6.2v6.2h-6.2zM325.8 596.6h6.2v6.2h-6.2zM327.4 595.2h6.2v6.2h-6.2zM328.9 592.9h6.2v6.2h-6.2zM330.5 599.5h6.2v6.2h-6.2zM332.1 596.3h6.2v6.2h-6.2zM333.7 598.4h6.2v6.2h-6.2zM335.3 601.0h6.2v6.2h-6.2zM336.9 604.3h6.2v6.2h-6.2zM338.5 604.0h6.2v6.2h-6.2zM340.1 605.9h6.2v6.2h-6.2zM341.7 609.1h6.2v6.2h-6.2zM343.3 609.1h6.2v6.2h-6.2zM344.9 611.4h6.2v6.2h-6.2zM346.4 611.4h6.2v6.2h-6.2zM348.0 612.3h6.2v6.2h-6.2zM349.6 607.0h6.2v6.2h-6.2zM351.2 604.9h6.2v6.2h-6.2zM352.8 598.0h6.2v6.2h-6.2zM354.4 602.4h6.2v6.2h-6.2zM356.0 602.6h6.2v6.2h-6.2zM357.6 604.3h6.2v6.2h-6.2zM360.7 590.0h6.2v6.2h-6.2zM365.5 563.0h6.2v6.2h-6.2zM367.1 575.7h6.2v6.2h-6.2zM368.7 580.7h6.2v6.2h-6.2zM370.3 582.5h6.2v6.2h-6.2zM371.9 580.5h6.2v6.2h-6.2zM373.5 582.8h6.2v6.2h-6.2zM375.0 581.2h6.2v6.2h-6.2zM376.6 582.0h6.2v6.2h-6.2zM378.2 582.1h6.2v6.2h-6.2zM379.8 579.9h6.2v6.2h-6.2zM381.4 577.5h6.2v6.2h-6.2zM383.0 575.0h6.2v6.2h-6.2zM384.6 573.9h6.2v6.2h-6.2zM386.2 575.7h6.2v6.2h-6.2zM387.8 577.5h6.2v6.2h-6.2zM389.4 579.7h6.2v6.2h-6.2zM391.0 583.6h6.2v6.2h-6.2zM392.6 584.0h6.2v6.2h-6.2zM394.1 588.8h6.2v6.2h-6.2zM395.7 593.2h6.2v6.2h-6.2zM397.3 595.5h6.2v6.2h-6.2zM398.9 600.0h6.2v6.2h-6.2zM400.5 602.7h6.2v6.2h-6.2zM402.1 605.2h6.2v6.2h-6.2zM403.7 605.0h6.2v6.2h-6.2zM405.3 604.3h6.2v6.2h-6.2zM406.9 603.5h6.2v6.2h-6.2zM408.4 601.6h6.2v6.2h-6.2zM410.0 598.4h6.2v6.2h-6.2zM411.6 598.0h6.2v6.2h-6.2zM413.2 594.3h6.2v6.2h-6.2zM414.8 592.4h6.2v6.2h-6.2zM416.4 586.8h6.2v6.2h-6.2zM418.0 594.8h6.2v6.2h-6.2zM419.6 599.5h6.2v6.2h-6.2zM421.2 603.6h6.2v6.2h-6.2zM422.8 605.9h6.2v6.2h-6.2zM424.4 603.9h6.2v6.2h-6.2zM425.9 600.4h6.2v6.2h-6.2zM427.5 597.1h6.2v6.2h-6.2zM429.1 596.4h6.2v6.2h-6.2zM430.7 593.8h6.2v6.2h-6.2zM432.3 592.4h6.2v6.2h-6.2zM433.9 591.6h6.2v6.2h-6.2zM435.5 593.2h6.2v6.2h-6.2zM435.5 570.9h6.2v6.2h-6.2zM437.1 568.6h6.2v6.2h-6.2zM438.6 571.6h6.2v6.2h-6.2zM440.2 573.9h6.2v6.2h-6.2zM441.8 577.3h6.2v6.2h-6.2zM443.4 575.5h6.2v6.2h-6.2zM445.0 574.4h6.2v6.2h-6.2zM446.6 580.5h6.2v6.2h-6.2zM451.4 558.2h6.2v6.2h-6.2zM456.2 580.5h6.2v6.2h-6.2zM457.8 576.2h6.2v6.2h-6.2zM459.4 578.2h6.2v6.2h-6.2zM460.9 577.2h6.2v6.2h-6.2zM462.5 578.9h6.2v6.2h-6.2zM464.1 579.9h6.2v6.2h-6.2zM465.7 582.8h6.2v6.2h-6.2zM467.3 588.4h6.2v6.2h-6.2zM468.9 590.1h6.2v6.2h-6.2zM470.5 591.8h6.2v6.2h-6.2zM472.1 596.4h6.2v6.2h-6.2zM473.7 591.0h6.2v6.2h-6.2zM475.2 585.3h6.2v6.2h-6.2zM476.8 580.5h6.2v6.2h-6.2zM478.4 579.7h6.2v6.2h-6.2zM480.0 578.0h6.2v6.2h-6.2zM481.6 575.7h6.2v6.2h-6.2zM483.2 574.7h6.2v6.2h-6.2zM484.8 571.5h6.2v6.2h-6.2zM486.4 569.8h6.2v6.2h-6.2zM488.0 570.9h6.2v6.2h-6.2zM489.6 566.8h6.2v6.2h-6.2zM491.1 566.0h6.2v6.2h-6.2zM492.7 564.6h6.2v6.2h-6.2zM494.3 558.0h6.2v6.2h-6.2zM495.9 551.8h6.2v6.2h-6.2zM497.5 555.9h6.2v6.2h-6.2zM499.1 561.9h6.2v6.2h-6.2zM500.7 568.4h6.2v6.2h-6.2zM502.3 572.5h6.2v6.2h-6.2zM505.5 588.4h6.2v6.2h-6.2zM507.0 593.0h6.2v6.2h-6.2zM508.6 596.4h6.2v6.2h-6.2zM513.4 567.7h6.2v6.2h-6.2zM515.0 550.2h6.2v6.2h-6.2zM519.8 531.2h6.2v6.2h-6.2zM518.2 542.3h6.2v6.2h-6.2zM519.8 546.2h6.2v6.2h-6.2zM521.4 549.7h6.2v6.2h-6.2zM522.9 554.9h6.2v6.2h-6.2zM524.5 558.2h6.2v6.2h-6.2zM526.1 557.8h6.2v6.2h-6.2zM527.7 554.7h6.2v6.2h-6.2zM529.3 553.4h6.2v6.2h-6.2zM530.9 551.0h6.2v6.2h-6.2zM532.5 547.7h6.2v6.2h-6.2zM534.1 545.5h6.2v6.2h-6.2zM535.7 545.7h6.2v6.2h-6.2zM537.2 549.3h6.2v6.2h-6.2zM538.8 550.2h6.2v6.2h-6.2zM540.5 578.9h6.2v6.2h-6.2zM542.1 580.1h6.2v6.2h-6.2zM543.6 578.3h6.2v6.2h-6.2zM545.2 578.0h6.2v6.2h-6.2zM546.8 577.3h6.2v6.2h-6.2zM548.4 573.4h6.2v6.2h-6.2zM550.1 567.7h6.2v6.2h-6.2zM551.7 572.3h6.2v6.2h-6.2zM553.3 577.3h6.2v6.2h-6.2zM554.9 573.8h6.2v6.2h-6.2zM556.4 571.5h6.2v6.2h-6.2zM558.0 567.7h6.2v6.2h-6.2zM559.0 594.8h6.2v6.2h-6.2zM562.8 569.3h6.2v6.2h-6.2zM564.4 566.4h6.2v6.2h-6.2zM566.0 564.6h6.2v6.2h-6.2zM567.6 565.9h6.2v6.2h-6.2zM569.2 567.7h6.2v6.2h-6.2zM570.8 563.7h6.2v6.2h-6.2zM572.3 559.7h6.2v6.2h-6.2zM573.9 555.0h6.2v6.2h-6.2zM575.5 557.0h6.2v6.2h-6.2zM577.1 559.8h6.2v6.2h-6.2zM578.7 565.2h6.2v6.2h-6.2zM580.3 570.9h6.2v6.2h-6.2zM581.9 567.7h6.2v6.2h-6.2zM583.5 565.5h6.2v6.2h-6.2zM585.1 563.0h6.2v6.2h-6.2zM588.2 577.3h6.2v6.2h-6.2zM589.8 579.9h6.2v6.2h-6.2zM591.4 582.4h6.2v6.2h-6.2zM593.0 584.2h6.2v6.2h-6.2zM594.6 586.8h6.2v6.2h-6.2zM596.2 587.9h6.2v6.2h-6.2zM597.8 590.1h6.2v6.2h-6.2zM599.4 591.6h6.2v6.2h-6.2zM601.0 589.0h6.2v6.2h-6.2zM602.6 587.3h6.2v6.2h-6.2zM604.2 585.2h6.2v6.2h-6.2zM605.8 586.5h6.2v6.2h-6.2zM607.3 587.4h6.2v6.2h-6.2zM608.9 588.4h6.2v6.2h-6.2zM610.5 588.8h6.2v6.2h-6.2zM612.1 587.4h6.2v6.2h-6.2zM613.7 585.2h6.2v6.2h-6.2zM615.3 590.5h6.2v6.2h-6.2zM616.9 592.0h6.2v6.2h-6.2zM618.5 594.8h6.2v6.2h-6.2zM620.1 591.6h6.2v6.2h-6.2zM621.6 590.3h6.2v6.2h-6.2zM623.2 588.4h6.2v6.2h-6.2zM624.8 587.0h6.2v6.2h-6.2zM626.4 585.2h6.2v6.2h-6.2zM628.0 583.6h6.2v6.2h-6.2zM629.6 586.8h6.2v6.2h-6.2zM631.2 588.8h6.2v6.2h-6.2zM632.8 593.2h6.2v6.2h-6.2zM634.4 592.8h6.2v6.2h-6.2zM635.9 593.3h6.2v6.2h-6.2zM637.5 594.3h6.2v6.2h-6.2zM639.1 596.4h6.2v6.2h-6.2zM640.7 597.9h6.2v6.2h-6.2zM642.3 600.0h6.2v6.2h-6.2zM643.9 602.3h6.2v6.2h-6.2zM645.5 604.3h6.2v6.2h-6.2zM647.1 602.7h6.2v6.2h-6.2zM648.7 601.3h6.2v6.2h-6.2zM650.3 600.3h6.2v6.2h-6.2zM651.9 599.5h6.2v6.2h-6.2zM653.5 598.3h6.2v6.2h-6.2zM655.0 598.4h6.2v6.2h-6.2zM656.6 597.0h6.2v6.2h-6.2zM658.2 596.4h6.2v6.2h-6.2zM659.8 598.1h6.2v6.2h-6.2zM661.4 598.1h6.2v6.2h-6.2zM663.0 599.5h6.2v6.2h-6.2zM664.6 599.5h6.2v6.2h-6.2zM666.2 600.8h6.2v6.2h-6.2zM667.8 602.9h6.2v6.2h-6.2zM669.3 604.0h6.2v6.2h-6.2zM670.9 604.3h6.2v6.2h-6.2zM672.5 606.8h6.2v6.2h-6.2zM674.1 608.6h6.2v6.2h-6.2zM675.7 609.1h6.2v6.2h-6.2zM677.3 610.4h6.2v6.2h-6.2zM678.9 610.4h6.2v6.2h-6.2zM680.5 610.1h6.2v6.2h-6.2zM682.1 612.3h6.2v6.2h-6.2zM683.7 612.4h6.2v6.2h-6.2zM685.2 612.4h6.2v6.2h-6.2zM686.8 612.6h6.2v6.2h-6.2zM688.4 613.9h6.2v6.2h-6.2zM690.0 612.0h6.2v6.2h-6.2zM691.6 612.2h6.2v6.2h-6.2zM693.2 609.8h6.2v6.2h-6.2zM694.8 609.1h6.2v6.2h-6.2zM696.4 606.2h6.2v6.2h-6.2zM698.0 603.4h6.2v6.2h-6.2zM699.6 601.1h6.2v6.2h-6.2zM701.2 601.1h6.2v6.2h-6.2zM702.7 600.0h6.2v6.2h-6.2zM704.3 601.1h6.2v6.2h-6.2zM705.9 601.7h6.2v6.2h-6.2zM707.5 604.0h6.2v6.2h-6.2zM709.1 605.9h6.2v6.2h-6.2zM710.7 605.4h6.2v6.2h-6.2zM712.3 605.0h6.2v6.2h-6.2zM713.9 602.9h6.2v6.2h-6.2zM715.5 601.1h6.2v6.2h-6.2zM717.1 600.0h6.2v6.2h-6.2zM718.6 598.3h6.2v6.2h-6.2zM720.2 596.4h6.2v6.2h-6.2zM721.8 596.6h6.2v6.2h-6.2zM723.4 596.7h6.2v6.2h-6.2zM725.0 598.2h6.2v6.2h-6.2zM726.6 599.5h6.2v6.2h-6.2zM728.2 598.2h6.2v6.2h-6.2zM729.8 597.2h6.2v6.2h-6.2zM731.4 596.4h6.2v6.2h-6.2zM733.0 597.7h6.2v6.2h-6.2zM734.5 597.7h6.2v6.2h-6.2zM736.1 598.9h6.2v6.2h-6.2zM737.7 599.5h6.2v6.2h-6.2zM739.3 598.8h6.2v6.2h-6.2zM740.9 598.0h6.2v6.2h-6.2zM742.5 597.5h6.2v6.2h-6.2zM744.1 596.4h6.2v6.2h-6.2zM745.7 597.5h6.2v6.2h-6.2zM747.3 598.4h6.2v6.2h-6.2zM748.9 599.2h6.2v6.2h-6.2zM750.5 599.5h6.2v6.2h-6.2zM752.1 596.7h6.2v6.2h-6.2zM753.6 591.7h6.2v6.2h-6.2zM755.2 587.8h6.2v6.2h-6.2zM756.8 582.1h6.2v6.2h-6.2zM758.4 585.4h6.2v6.2h-6.2zM760.0 586.9h6.2v6.2h-6.2zM761.6 589.1h6.2v6.2h-6.2zM763.2 590.0h6.2v6.2h-6.2zM764.8 591.5h6.2v6.2h-6.2zM766.4 593.3h6.2v6.2h-6.2zM767.9 593.8h6.2v6.2h-6.2zM769.5 594.8h6.2v6.2h-6.2zM771.1 595.1h6.2v6.2h-6.2zM772.7 595.7h6.2v6.2h-6.2zM774.3 596.6h6.2v6.2h-6.2zM775.9 596.4h6.2v6.2h-6.2zM777.5 596.6h6.2v6.2h-6.2zM779.1 596.1h6.2v6.2h-6.2zM780.7 594.8h6.2v6.2h-6.2zM782.3 593.2h6.2v6.2h-6.2zM783.9 592.4h6.2v6.2h-6.2zM785.4 592.0h6.2v6.2h-6.2zM787.0 591.2h6.2v6.2h-6.2zM788.6 590.0h6.2v6.2h-6.2zM790.2 593.0h6.2v6.2h-6.2zM791.9 596.4h6.2v6.2h-6.2zM793.5 594.4h6.2v6.2h-6.2zM795.1 592.0h6.2v6.2h-6.2zM796.7 588.9h6.2v6.2h-6.2zM798.3 586.8h6.2v6.2h-6.2zM799.9 584.9h6.2v6.2h-6.2zM801.4 582.1h6.2v6.2h-6.2zM803.0 579.8h6.2v6.2h-6.2zM804.6 578.9h6.2v6.2h-6.2zM806.2 578.7h6.2v6.2h-6.2zM807.8 578.4h6.2v6.2h-6.2zM809.4 579.1h6.2v6.2h-6.2zM811.0 580.5h6.2v6.2h-6.2zM812.6 578.2h6.2v6.2h-6.2zM814.1 578.2h6.2v6.2h-6.2zM815.7 577.1h6.2v6.2h-6.2zM817.3 577.3h6.2v6.2h-6.2zM818.9 578.7h6.2v6.2h-6.2zM820.5 579.9h6.2v6.2h-6.2zM822.1 582.0h6.2v6.2h-6.2zM823.7 585.2h6.2v6.2h-6.2zM825.3 583.7h6.2v6.2h-6.2zM826.9 582.9h6.2v6.2h-6.2zM828.5 580.6h6.2v6.2h-6.2zM830.1 580.5h6.2v6.2h-6.2zM831.7 579.8h6.2v6.2h-6.2zM833.2 580.0h6.2v6.2h-6.2zM834.8 579.3h6.2v6.2h-6.2zM836.4 578.9h6.2v6.2h-6.2zM838.0 580.6h6.2v6.2h-6.2zM839.6 580.5h6.2v6.2h-6.2zM841.2 581.3h6.2v6.2h-6.2zM842.8 582.1h6.2v6.2h-6.2zM844.4 582.3h6.2v6.2h-6.2zM846.0 582.6h6.2v6.2h-6.2zM847.6 582.6h6.2v6.2h-6.2zM849.2 580.5h6.2v6.2h-6.2zM850.8 582.7h6.2v6.2h-6.2zM852.4 583.1h6.2v6.2h-6.2zM853.9 585.0h6.2v6.2h-6.2zM855.5 586.8h6.2v6.2h-6.2zM857.1 586.2h6.2v6.2h-6.2zM858.7 586.8h6.2v6.2h-6.2zM860.3 586.6h6.2v6.2h-6.2zM861.9 588.4h6.2v6.2h-6.2zM863.5 589.6h6.2v6.2h-6.2zM865.0 591.8h6.2v6.2h-6.2zM866.6 593.2h6.2v6.2h-6.2zM868.2 592.9h6.2v6.2h-6.2zM869.8 592.0h6.2v6.2h-6.2zM871.4 591.1h6.2v6.2h-6.2zM873.0 590.0h6.2v6.2h-6.2zM874.6 589.6h6.2v6.2h-6.2zM876.2 589.5h6.2v6.2h-6.2zM877.8 589.1h6.2v6.2h-6.2zM879.4 588.4h6.2v6.2h-6.2zM881.0 588.5h6.2v6.2h-6.2zM882.5 587.7h6.2v6.2h-6.2zM884.1 588.4h6.2v6.2h-6.2zM885.7 586.8h6.2v6.2h-6.2zM887.3 587.4h6.2v6.2h-6.2zM888.9 587.4h6.2v6.2h-6.2zM890.5 585.2h6.2v6.2h-6.2zM892.1 584.6h6.2v6.2h-6.2zM893.7 580.9h6.2v6.2h-6.2zM895.3 577.3h6.2v6.2h-6.2zM896.9 574.6h6.2v6.2h-6.2zM898.4 573.1h6.2v6.2h-6.2zM900.0 570.3h6.2v6.2h-6.2zM901.6 567.7h6.2v6.2h-6.2zM903.2 566.9h6.2v6.2h-6.2zM904.8 565.6h6.2v6.2h-6.2zM906.4 564.6h6.2v6.2h-6.2zM908.0 566.2h6.2v6.2h-6.2zM909.6 567.1h6.2v6.2h-6.2zM911.2 569.3h6.2v6.2h-6.2zM912.8 569.9h6.2v6.2h-6.2zM914.4 571.0h6.2v6.2h-6.2zM915.9 572.4h6.2v6.2h-6.2zM917.5 574.1h6.2v6.2h-6.2zM919.1 570.7h6.2v6.2h-6.2zM920.7 570.1h6.2v6.2h-6.2zM922.3 568.9h6.2v6.2h-6.2zM923.9 567.7h6.2v6.2h-6.2zM925.5 566.7h6.2v6.2h-6.2zM927.1 567.0h6.2v6.2h-6.2zM928.7 567.8h6.2v6.2h-6.2zM930.3 569.3h6.2v6.2h-6.2zM931.9 570.1h6.2v6.2h-6.2zM933.4 571.4h6.2v6.2h-6.2zM935.0 573.5h6.2v6.2h-6.2zM936.6 574.1h6.2v6.2h-6.2zM938.2 576.1h6.2v6.2h-6.2zM939.8 577.0h6.2v6.2h-6.2zM941.4 578.9h6.2v6.2h-6.2zM943.0 578.7h6.2v6.2h-6.2zM944.5 579.7h6.2v6.2h-6.2zM946.1 579.7h6.2v6.2h-6.2zM947.7 580.5h6.2v6.2h-6.2zM949.3 581.8h6.2v6.2h-6.2zM950.9 583.3h6.2v6.2h-6.2zM952.5 583.6h6.2v6.2h-6.2zM954.1 585.1h6.2v6.2h-6.2zM955.7 586.0h6.2v6.2h-6.2zM957.3 585.2h6.2v6.2h-6.2zM958.9 583.4h6.2v6.2h-6.2zM960.5 580.6h6.2v6.2h-6.2zM962.1 577.3h6.2v6.2h-6.2zM963.7 575.8h6.2v6.2h-6.2zM965.2 573.8h6.2v6.2h-6.2zM966.8 571.4h6.2v6.2h-6.2zM968.4 570.9h6.2v6.2h-6.2zM970.0 568.8h6.2v6.2h-6.2zM971.6 567.5h6.2v6.2h-6.2zM973.2 566.0h6.2v6.2h-6.2zM974.8 565.7h6.2v6.2h-6.2zM976.4 566.1h6.2v6.2h-6.2zM978.0 565.7h6.2v6.2h-6.2zM979.5 566.1h6.2v6.2h-6.2zM981.1 567.5h6.2v6.2h-6.2zM982.7 567.7h6.2v6.2h-6.2zM984.3 568.8h6.2v6.2h-6.2zM985.9 569.7h6.2v6.2h-6.2zM987.5 569.4h6.2v6.2h-6.2zM989.1 569.3h6.2v6.2h-6.2zM990.7 568.4h6.2v6.2h-6.2zM992.3 568.5h6.2v6.2h-6.2zM993.9 568.3h6.2v6.2h-6.2zM995.5 567.7h6.2v6.2h-6.2zM997.1 565.9h6.2v6.2h-6.2zM998.6 563.6h6.2v6.2h-6.2zM1000.2 561.8h6.2v6.2h-6.2zM1001.8 558.2h6.2v6.2h-6.2zM1003.4 560.0h6.2v6.2h-6.2zM1005.0 561.3h6.2v6.2h-6.2zM1006.6 561.4h6.2v6.2h-6.2zM1008.2 565.3h6.2v6.2h-6.2zM1009.8 567.6h6.2v6.2h-6.2zM1011.4 572.5h6.2v6.2h-6.2zM1013.0 570.1h6.2v6.2h-6.2zM1014.5 570.1h6.2v6.2h-6.2zM1016.1 567.9h6.2v6.2h-6.2zM1017.7 567.7h6.2v6.2h-6.2zM1019.3 565.5h6.2v6.2h-6.2zM1020.9 563.0h6.2v6.2h-6.2zM1022.5 561.4h6.2v6.2h-6.2zM1024.1 556.5h6.2v6.2h-6.2zM1025.7 552.5h6.2v6.2h-6.2zM1027.3 548.7h6.2v6.2h-6.2zM1028.9 547.4h6.2v6.2h-6.2zM1030.4 545.8h6.2v6.2h-6.2zM1032.0 545.5h6.2v6.2h-6.2zM1033.6 544.0h6.2v6.2h-6.2zM1035.3 543.3h6.2v6.2h-6.2zM1036.9 542.3h6.2v6.2h-6.2zM1038.5 543.1h6.2v6.2h-6.2zM1040.1 543.0h6.2v6.2h-6.2zM1041.7 544.3h6.2v6.2h-6.2zM1043.3 543.9h6.2v6.2h-6.2zM1044.9 545.7h6.2v6.2h-6.2zM1046.5 546.1h6.2v6.2h-6.2zM1048.0 545.2h6.2v6.2h-6.2zM1049.6 545.0h6.2v6.2h-6.2zM1051.2 543.9h6.2v6.2h-6.2zM1052.8 544.8h6.2v6.2h-6.2zM1054.4 546.3h6.2v6.2h-6.2zM1056.0 547.8h6.2v6.2h-6.2zM1057.6 548.7h6.2v6.2h-6.2zM1059.2 549.8h6.2v6.2h-6.2zM1060.8 550.6h6.2v6.2h-6.2zM1062.3 552.6h6.2v6.2h-6.2zM1063.9 555.0h6.2v6.2h-6.2zM1065.5 557.9h6.2v6.2h-6.2zM1067.1 560.7h6.2v6.2h-6.2zM1068.7 564.6h6.2v6.2h-6.2zM1070.3 561.3h6.2v6.2h-6.2zM1071.9 557.3h6.2v6.2h-6.2zM1073.5 556.6h6.2v6.2h-6.2zM1075.1 552.3h6.2v6.2h-6.2zM1076.7 550.5h6.2v6.2h-6.2zM1078.2 548.6h6.2v6.2h-6.2zM1079.8 547.1h6.2v6.2h-6.2zM1081.4 545.3h6.2v6.2h-6.2zM1083.0 542.6h6.2v6.2h-6.2zM1084.6 539.4h6.2v6.2h-6.2zM1086.2 539.1h6.2v6.2h-6.2zM1087.8 538.1h6.2v6.2h-6.2zM1089.4 538.0h6.2v6.2h-6.2zM1091.0 538.4h6.2v6.2h-6.2zM1092.6 539.1h6.2v6.2h-6.2zM1094.2 540.1h6.2v6.2h-6.2zM1095.7 541.5h6.2v6.2h-6.2zM1097.3 542.3h6.2v6.2h-6.2zM1098.9 548.1h6.2v6.2h-6.2zM1100.5 551.8h6.2v6.2h-6.2zM1102.1 551.0h6.2v6.2h-6.2zM1103.7 547.3h6.2v6.2h-6.2zM1105.3 544.8h6.2v6.2h-6.2zM1106.9 542.3h6.2v6.2h-6.2zM1108.5 542.9h6.2v6.2h-6.2zM1110.1 541.7h6.2v6.2h-6.2zM1111.6 541.5h6.2v6.2h-6.2zM1113.2 540.5h6.2v6.2h-6.2zM1114.8 539.1h6.2v6.2h-6.2zM1116.4 538.4h6.2v6.2h-6.2zM1118.0 538.2h6.2v6.2h-6.2zM1119.6 535.9h6.2v6.2h-6.2zM1121.2 539.6h6.2v6.2h-6.2zM1122.8 541.2h6.2v6.2h-6.2zM1124.4 542.3h6.2v6.2h-6.2zM1126.0 540.4h6.2v6.2h-6.2zM1127.5 536.2h6.2v6.2h-6.2zM1129.1 532.8h6.2v6.2h-6.2zM1130.7 530.9h6.2v6.2h-6.2zM1132.3 529.9h6.2v6.2h-6.2zM1133.9 528.3h6.2v6.2h-6.2zM1135.5 526.4h6.2v6.2h-6.2zM1137.1 524.0h6.2v6.2h-6.2zM1138.7 522.3h6.2v6.2h-6.2zM1140.3 520.6h6.2v6.2h-6.2zM1141.9 518.4h6.2v6.2h-6.2zM1143.5 520.1h6.2v6.2h-6.2zM1145.0 520.0h6.2v6.2h-6.2zM1146.6 532.8h6.2v6.2h-6.2zM1148.2 536.1h6.2v6.2h-6.2zM1149.8 537.8h6.2v6.2h-6.2zM1151.4 539.1h6.2v6.2h-6.2zM1153.0 542.0h6.2v6.2h-6.2zM1154.6 544.6h6.2v6.2h-6.2zM1156.2 547.1h6.2v6.2h-6.2zM1157.8 549.7h6.2v6.2h-6.2zM1159.3 553.2h6.2v6.2h-6.2zM1160.9 555.0h6.2v6.2h-6.2zM1162.5 564.6h6.2v6.2h-6.2zM1164.1 560.6h6.2v6.2h-6.2zM1165.7 553.4h6.2v6.2h-6.2zM1167.3 558.2h6.2v6.2h-6.2zM1168.9 560.7h6.2v6.2h-6.2zM1170.5 562.9h6.2v6.2h-6.2zM1172.1 564.6h6.2v6.2h-6.2zM1173.7 570.9h6.2v6.2h-6.2zM1175.3 569.1h6.2v6.2h-6.2zM1176.8 565.4h6.2v6.2h-6.2zM1178.4 561.4h6.2v6.2h-6.2zM1180.0 561.4h6.2v6.2h-6.2zM1181.6 559.4h6.2v6.2h-6.2zM1183.2 559.0h6.2v6.2h-6.2zM1184.8 558.2h6.2v6.2h-6.2zM1186.4 559.0h6.2v6.2h-6.2zM1188.0 558.1h6.2v6.2h-6.2zM1189.6 558.2h6.2v6.2h-6.2zM1191.2 558.3h6.2v6.2h-6.2zM1192.8 559.7h6.2v6.2h-6.2zM1194.3 562.1h6.2v6.2h-6.2zM1195.9 563.0h6.2v6.2h-6.2zM1197.5 563.7h6.2v6.2h-6.2zM1199.1 562.8h6.2v6.2h-6.2zM1200.7 562.0h6.2v6.2h-6.2zM1202.3 561.4h6.2v6.2h-6.2zM1203.9 562.5h6.2v6.2h-6.2zM1205.5 563.0h6.2v6.2h-6.2zM1207.1 564.6h6.2v6.2h-6.2zM1208.7 570.6h6.2v6.2h-6.2zM1210.2 577.3h6.2v6.2h-6.2zM1211.8 578.5h6.2v6.2h-6.2zM1213.4 579.3h6.2v6.2h-6.2zM1215.0 582.1h6.2v6.2h-6.2zM1216.6 581.2h6.2v6.2h-6.2zM1218.2 581.8h6.2v6.2h-6.2zM1219.8 581.9h6.2v6.2h-6.2zM1221.4 583.6h6.2v6.2h-6.2zM1222.8 581.2h6.2v6.2h-6.2zM1224.2 581.3h6.2v6.2h-6.2zM1225.5 581.9h6.2v6.2h-6.2zM1226.9 580.5h6.2v6.2h-6.2zM1228.5 581.9h6.2v6.2h-6.2zM1230.1 582.8h6.2v6.2h-6.2zM1231.7 584.3h6.2v6.2h-6.2zM1233.3 585.2h6.2v6.2h-6.2zM1234.9 586.5h6.2v6.2h-6.2zM1236.5 587.2h6.2v6.2h-6.2zM1238.0 589.3h6.2v6.2h-6.2zM1239.6 590.0h6.2v6.2h-6.2zM1241.2 591.9h6.2v6.2h-6.2zM1242.8 593.7h6.2v6.2h-6.2zM1244.4 596.4h6.2v6.2h-6.2zM1246.0 592.3h6.2v6.2h-6.2zM1247.6 588.8h6.2v6.2h-6.2zM1249.2 586.8h6.2v6.2h-6.2zM1250.8 585.0h6.2v6.2h-6.2zM1252.3 584.8h6.2v6.2h-6.2zM1253.9 584.9h6.2v6.2h-6.2zM1255.5 583.6h6.2v6.2h-6.2zM1257.1 583.6h6.2v6.2h-6.2zM1258.7 582.7h6.2v6.2h-6.2zM1260.3 581.0h6.2v6.2h-6.2zM1261.9 580.5h6.2v6.2h-6.2zM1263.5 579.5h6.2v6.2h-6.2zM1265.1 578.2h6.2v6.2h-6.2zM1266.6 577.5h6.2v6.2h-6.2zM1268.2 577.3h6.2v6.2h-6.2zM1269.8 577.0h6.2v6.2h-6.2zM1271.4 576.7h6.2v6.2h-6.2zM1273.0 576.1h6.2v6.2h-6.2zM1274.6 575.7h6.2v6.2h-6.2zM1276.2 576.9h6.2v6.2h-6.2zM1277.8 578.6h6.2v6.2h-6.2zM1279.4 580.3h6.2v6.2h-6.2zM1281.0 582.1h6.2v6.2h-6.2zM1282.6 581.0h6.2v6.2h-6.2zM1284.2 580.5h6.2v6.2h-6.2zM1285.7 580.8h6.2v6.2h-6.2zM1287.3 580.5h6.2v6.2h-6.2zM1289.1 580.0h6.2v6.2h-6.2zM1290.9 580.6h6.2v6.2h-6.2zM1292.7 580.7h6.2v6.2h-6.2zM1294.5 582.8h6.2v6.2h-6.2zM1296.3 579.3h6.2v6.2h-6.2zM1298.0 576.4h6.2v6.2h-6.2zM1299.8 572.9h6.2v6.2h-6.2zM1301.6 570.3h6.2v6.2h-6.2zM1303.3 567.4h6.2v6.2h-6.2zM1305.1 563.7h6.2v6.2h-6.2zM1306.7 564.7h6.2v6.2h-6.2zM1308.2 565.1h6.2v6.2h-6.2zM1309.8 564.4h6.2v6.2h-6.2zM1311.3 565.2h6.2v6.2h-6.2zM1312.8 579.0h6.2v6.2h-6.2zM1314.1 581.3h6.2v6.2h-6.2zM1315.3 584.3h6.2v6.2h-6.2zM1316.6 586.6h6.2v6.2h-6.2zM1318.1 585.7h6.2v6.2h-6.2zM1319.7 586.2h6.2v6.2h-6.2zM1321.2 586.4h6.2v6.2h-6.2zM1322.7 585.8h6.2v6.2h-6.2zM1324.2 584.6h6.2v6.2h-6.2zM1325.7 583.9h6.2v6.2h-6.2zM1327.3 583.3h6.2v6.2h-6.2zM1328.8 582.5h6.2v6.2h-6.2zM1330.3 582.8h6.2v6.2h-6.2zM1331.8 581.1h6.2v6.2h-6.2zM1333.4 579.2h6.2v6.2h-6.2zM1334.9 579.0h6.2v6.2h-6.2zM1336.2 578.6h6.2v6.2h-6.2zM1337.6 579.6h6.2v6.2h-6.2zM1339.0 580.7h6.2v6.2h-6.2zM1340.3 581.3h6.2v6.2h-6.2zM1342.1 583.1h6.2v6.2h-6.2zM1343.8 584.7h6.2v6.2h-6.2zM1345.6 586.6h6.2v6.2h-6.2zM1347.1 587.2h6.2v6.2h-6.2zM1348.6 586.3h6.2v6.2h-6.2zM1350.2 587.3h6.2v6.2h-6.2zM1351.7 587.5h6.2v6.2h-6.2zM1353.2 588.1h6.2v6.2h-6.2zM1354.8 586.4h6.2v6.2h-6.2zM1356.3 585.7h6.2v6.2h-6.2zM1357.9 585.9h6.2v6.2h-6.2zM1359.4 583.9h6.2v6.2h-6.2zM1360.8 583.3h6.2v6.2h-6.2zM1362.2 583.2h6.2v6.2h-6.2zM1363.7 585.2h6.2v6.2h-6.2zM1365.3 583.5h6.2v6.2h-6.2zM1366.8 584.9h6.2v6.2h-6.2zM1368.4 585.0h6.2v6.2h-6.2zM1370.0 586.8h6.2v6.2h-6.2zM1371.6 585.8h6.2v6.2h-6.2zM1373.2 586.5h6.2v6.2h-6.2zM1374.8 588.8h6.2v6.2h-6.2zM1376.4 590.0h6.2v6.2h-6.2zM1378.0 590.5h6.2v6.2h-6.2zM1379.6 591.0h6.2v6.2h-6.2zM1381.2 591.4h6.2v6.2h-6.2zM1382.8 593.2h6.2v6.2h-6.2zM1384.4 591.4h6.2v6.2h-6.2zM1386.0 591.2h6.2v6.2h-6.2zM1387.5 591.4h6.2v6.2h-6.2zM1389.1 591.6h6.2v6.2h-6.2zM1390.7 591.8h6.2v6.2h-6.2zM1392.3 592.4h6.2v6.2h-6.2zM1393.9 592.4h6.2v6.2h-6.2zM1395.5 591.6h6.2v6.2h-6.2zM1397.1 591.4h6.2v6.2h-6.2zM1398.7 590.4h6.2v6.2h-6.2zM1400.2 588.8h6.2v6.2h-6.2zM1401.8 590.0h6.2v6.2h-6.2zM1403.4 587.8h6.2v6.2h-6.2zM1405.0 588.1h6.2v6.2h-6.2zM1406.6 587.8h6.2v6.2h-6.2zM1408.2 588.4h6.2v6.2h-6.2zM1409.8 587.4h6.2v6.2h-6.2zM1411.4 586.4h6.2v6.2h-6.2zM1413.0 586.8h6.2v6.2h-6.2zM1414.6 586.8h6.2v6.2h-6.2zM1416.2 587.1h6.2v6.2h-6.2zM1417.8 587.5h6.2v6.2h-6.2zM1419.3 588.2h6.2v6.2h-6.2zM1420.9 588.4h6.2v6.2h-6.2zM1422.5 587.2h6.2v6.2h-6.2zM1424.1 587.2h6.2v6.2h-6.2zM1425.7 587.0h6.2v6.2h-6.2zM1427.3 588.4h6.2v6.2h-6.2zM1428.9 588.4h6.2v6.2h-6.2zM1430.5 588.3h6.2v6.2h-6.2zM1432.0 588.0h6.2v6.2h-6.2zM1433.6 588.4h6.2v6.2h-6.2zM1435.2 589.0h6.2v6.2h-6.2zM1436.8 588.7h6.2v6.2h-6.2zM1438.4 590.1h6.2v6.2h-6.2zM1440.0 590.0h6.2v6.2h-6.2zM1441.6 590.0h6.2v6.2h-6.2zM1443.2 589.9h6.2v6.2h-6.2zM1444.8 589.4h6.2v6.2h-6.2zM1446.4 590.0h6.2v6.2h-6.2zM1448.0 590.0h6.2v6.2h-6.2zM1449.6 588.7h6.2v6.2h-6.2zM1451.1 589.5h6.2v6.2h-6.2zM1452.7 590.0h6.2v6.2h-6.2zM1454.3 588.7h6.2v6.2h-6.2zM1455.9 588.6h6.2v6.2h-6.2zM1457.5 587.6h6.2v6.2h-6.2zM1459.1 588.4h6.2v6.2h-6.2zM1460.7 588.2h6.2v6.2h-6.2zM1462.3 589.0h6.2v6.2h-6.2zM1463.9 590.0h6.2v6.2h-6.2z" fill="#00B0F0"/>
<path d="M64.6,419.2 65.9,420.9 67.3,423.2 68.6,424.9 70.0,420.6 71.5,416.3 73.2,417.6 74.9,418.6 76.6,420.9 78.0,417.0 79.5,414.6 81.0,411.6 82.6,408.6 84.1,404.9 85.5,407.1 86.9,407.2 88.1,420.9 89.4,419.0 90.8,416.1 92.1,412.3 93.8,416.3 95.5,418.6 96.7,422.7 97.8,427.8 99.2,431.7 100.7,435.2 102.4,435.5 104.1,435.6 105.8,434.7 107.0,443.8 108.4,444.4 109.8,444.5 111.3,445.5 112.7,448.4 114.2,443.5 115.8,440.9 117.3,438.7 118.6,440.9 120.0,444.5 121.3,447.8 122.4,452.1 123.6,457.6 125.0,461.3 126.4,465.6 127.9,464.1 129.5,462.1 131.0,461.0 132.2,456.7 133.3,450.7 134.7,453.4 136.2,455.7 137.6,456.6 139.0,457.6 140.5,455.0 142.1,452.1 143.6,449.6 145.1,447.5 146.7,446.0 148.2,443.8 149.9,443.3 151.6,442.1 153.4,440.6 155.1,440.4 156.8,444.2 158.5,449.6 160.2,461.1 161.8,460.3 163.4,458.6 165.0,458.0 166.6,454.1 168.1,450.7 169.7,446.8 171.3,444.0 172.9,442.2 174.5,441.2 176.1,438.8 177.7,437.0 179.3,436.3 180.9,435.7 182.5,435.7 184.1,435.3 185.7,436.7 187.2,437.6 188.8,438.8 190.4,440.2 192.0,443.7 193.6,446.8 195.2,449.3 196.8,452.3 198.4,455.4 200.0,456.3 201.6,452.9 203.1,447.9 204.7,442.0 206.3,440.9 207.9,440.2 209.5,438.8 211.1,440.3 212.7,441.6 214.2,442.5 215.8,445.2 217.4,446.1 219.0,448.5 220.6,452.1 222.2,454.7 223.8,451.2 225.4,448.6 227.0,447.4 228.6,446.8 230.2,445.4 231.8,444.5 233.3,441.9 234.9,439.2 236.5,440.4 238.1,441.2 239.7,443.5 241.3,445.6 242.9,450.0 244.5,451.2 246.1,454.3 247.7,456.3 252.4,475.4 254.0,474.8 255.6,474.1 257.2,473.5 258.8,472.2 260.4,471.5 262.0,469.5 263.6,465.9 265.2,465.8 266.8,464.2 268.3,461.2 269.9,459.5 271.5,455.6 273.1,451.3 274.7,445.2 276.3,445.5 277.9,442.8 279.5,442.0 281.1,440.2 282.6,439.7 284.2,437.3 285.8,437.3 287.4,437.9 289.0,440.4 290.6,441.1 292.2,443.6 293.8,446.1 295.4,448.5 297.0,450.0 298.6,452.0 300.1,453.7 301.7,455.5 303.3,456.3 304.9,458.1 306.6,459.7 308.2,459.5 309.8,466.4 311.4,472.2 313.0,478.6 314.6,474.0 316.1,469.1 317.7,468.3 319.3,466.5 320.9,464.3 322.5,466.3 324.1,469.0 325.7,470.6 327.3,470.9 328.8,469.3 330.4,467.5 332.0,466.7 333.6,466.3 335.2,465.9 336.8,465.9 338.4,464.6 340.0,464.7 341.6,463.3 343.2,464.4 344.8,465.9 346.4,472.1 348.0,477.0 349.6,472.9 351.1,468.8 352.7,465.9 354.3,466.3 355.9,467.6 357.5,467.5 359.1,471.2 360.7,473.8 362.3,475.4 363.9,473.8 365.4,470.6 367.0,470.3 368.6,469.5 370.2,467.5 371.8,467.5 373.4,467.1 375.0,465.9 376.6,468.8 378.1,470.7 379.7,472.2 381.3,474.2 382.9,475.4 384.5,475.4 386.1,476.0 387.7,474.0 389.3,470.6 390.9,469.6 392.5,467.0 394.1,464.3 395.7,463.7 397.2,463.1 398.8,461.1 400.4,458.9 402.0,456.4 403.6,453.2 405.2,457.0 406.8,457.0 408.4,459.5 410.0,457.2 411.5,456.5 413.1,455.7 414.7,454.7 416.3,452.6 417.9,450.2 419.5,448.4 421.1,447.4 422.7,446.3 424.3,444.7 425.9,443.6 427.5,444.3 429.0,443.4 430.6,441.9 432.2,440.4 433.8,440.1 435.4,439.0 437.0,438.2 438.6,437.3 440.2,436.1 441.8,436.7 443.4,438.8 445.0,440.9 446.5,443.0 448.1,446.8 449.7,444.8 451.3,444.6 452.9,443.6 454.5,445.7 456.1,448.2 457.7,448.4 459.3,447.2 460.8,446.0 462.4,445.2 464.0,440.5 465.6,436.8 467.2,432.5 468.8,432.5 470.4,429.7 472.0,429.9 473.6,429.3 475.2,427.1 476.7,426.8 478.3,426.1 479.9,422.2 481.5,420.0 483.1,418.2 484.7,417.8 486.3,417.2 487.9,416.6 489.5,417.8 491.1,419.4 492.7,419.8 494.3,419.3 495.8,418.0 497.4,416.6 499.0,419.5 500.6,421.4 502.2,421.3 503.8,424.5 505.4,428.1 507.0,427.7 508.6,434.4 510.2,438.8 511.8,442.7 513.3,443.6 514.9,442.9 516.5,441.2 518.1,438.8 519.7,436.2 521.3,432.3 522.9,427.7 524.5,427.8 526.0,425.4 527.6,424.5 529.2,422.9 530.8,423.0 532.4,422.9 534.0,425.6 535.6,428.9 537.2,434.0 538.8,431.5 540.3,432.3 541.9,432.5 543.5,435.1 545.1,438.7 546.7,440.4 548.4,440.5 550.0,440.4 551.6,446.9 553.2,453.2 554.8,454.1 556.4,456.3 558.0,453.7 559.5,452.1 561.1,448.4 564.3,464.3 565.9,460.3 567.5,457.0 569.1,451.6 570.7,454.7 572.3,455.8 573.9,456.3 575.5,453.8 577.0,452.9 578.6,450.7 580.2,448.4 581.8,453.8 583.4,459.5 585.0,461.8 586.6,464.2 588.2,465.9 589.8,470.3 591.3,472.2 592.9,472.9 594.5,474.0 596.1,475.1 597.7,473.8 599.3,471.8 600.9,466.9 602.5,461.1 604.1,460.7 605.7,460.1 607.3,457.9 608.9,459.4 610.4,459.8 612.0,459.5 613.6,460.0 615.2,458.3 616.8,456.3 618.4,459.5 620.0,464.3 621.6,464.5 623.1,464.6 624.7,467.5 626.3,464.5 627.9,462.8 629.5,461.1 631.1,461.2 632.7,462.2 634.3,463.6 635.9,464.3 637.5,463.7 639.0,463.7 640.6,462.6 642.2,461.1 643.8,461.9 645.4,462.2 647.0,462.4 648.6,459.5 650.2,460.4 651.8,460.1 653.4,457.9 655.0,452.3 656.6,446.8 658.2,447.7 659.7,448.2 661.3,451.6 662.9,454.6 664.5,457.7 666.1,462.7 667.7,460.1 669.3,458.6 670.9,457.9 672.5,455.7 674.0,453.9 675.6,452.7 677.2,451.6 678.8,451.6 680.4,450.6 682.0,450.0 683.6,448.4 685.2,449.7 686.8,449.2 688.3,448.2 689.9,448.4 691.5,448.3 693.1,449.5 694.7,448.7 696.3,450.0 697.9,448.6 699.5,449.1 701.1,449.2 702.7,448.4 704.3,449.5 705.9,450.8 707.4,451.5 709.0,451.6 710.6,450.1 712.2,448.0 713.8,446.7 715.4,446.8 717.0,444.4 718.6,442.1 720.2,439.7 721.8,438.8 723.4,438.3 725.0,438.4 726.5,439.6 728.1,442.0 729.7,439.0 731.3,438.6 732.9,438.8 734.5,435.1 736.0,434.8 737.6,433.5 739.2,434.0 740.8,429.9 742.4,429.4 744.0,428.0 745.6,427.7 747.2,425.3 748.8,425.3 750.4,426.1 752.0,427.7 753.6,426.6 755.1,427.9 756.7,428.9 758.3,429.3 759.9,433.8 761.5,437.3 763.1,437.9 764.7,438.6 766.3,438.7 767.9,437.3 769.5,438.3 771.0,436.1 772.6,436.4 774.2,435.7 775.8,441.6 777.4,445.2 779.0,446.6 780.6,447.0 782.2,449.0 783.8,448.4 785.4,447.2 786.9,446.5 788.5,445.2 790.1,447.8 791.7,447.5 793.3,448.6 794.9,448.4 796.5,450.4 798.2,449.8 799.8,448.4 801.4,450.9 802.9,452.2 804.5,451.6 806.1,451.0 807.7,449.5 809.3,448.3 810.9,447.4 812.5,445.2 814.1,448.5 815.7,450.9 817.3,453.2 818.9,456.5 820.4,460.1 822.0,464.3 823.6,461.8 825.2,459.2 826.8,456.3 828.4,453.8 830.0,451.2 831.6,450.0 833.2,449.9 834.8,449.2 836.3,448.0 837.9,445.2 839.5,443.6 841.1,443.1 842.7,442.0 844.3,442.7 845.9,444.2 847.5,444.5 849.1,443.6 850.7,443.7 852.2,443.0 853.8,440.7 855.4,440.4 857.0,439.1 858.6,437.7 860.2,435.7 861.8,437.1 863.4,439.6 865.0,440.4 866.6,443.0 868.1,442.4 869.7,442.7 871.3,443.6 872.9,443.7 874.5,443.8 876.1,443.5 877.7,443.6 879.3,444.5 880.9,447.6 882.5,449.7 884.1,450.0 885.7,451.0 887.2,450.9 888.8,453.0 890.4,453.2 892.0,455.3 893.6,457.3 895.2,456.3 896.8,461.5 898.4,463.7 900.0,465.9 901.6,465.3 903.1,462.2 904.7,460.4 906.3,460.0 907.9,457.8 909.5,457.1 911.1,455.3 912.7,454.7 914.3,455.2 915.9,456.7 917.5,457.9 919.1,461.2 920.6,464.8 922.2,467.5 923.8,464.3 925.4,460.2 927.0,456.3 928.6,458.6 930.2,460.0 931.8,461.1 933.4,462.6 934.9,463.8 936.5,465.9 938.1,468.7 939.7,472.2 941.3,474.5 942.9,477.4 944.5,480.2 946.1,480.6 947.7,481.3 949.3,481.8 950.9,479.6 952.4,476.6 954.0,475.4 955.6,474.2 957.2,474.2 958.8,473.6 960.4,472.2 962.0,473.6 963.6,474.9 965.2,475.4 966.8,477.3 968.3,478.2 969.9,481.8 971.5,478.1 973.1,475.1 974.7,473.8 976.3,468.5 977.9,464.3 979.5,460.0 981.1,455.4 982.7,454.7 984.2,455.4 985.8,461.1 987.4,462.8 989.0,465.5 990.6,469.1 992.2,469.6 993.8,471.6 995.4,475.4 997.0,473.4 998.6,472.9 1000.2,472.2 1001.8,471.0 1003.3,471.0 1004.9,469.1 1006.5,473.9 1008.1,477.3 1009.7,480.2 1011.3,480.0 1012.9,479.6 1014.5,478.6 1016.1,475.4 1017.7,476.0 1019.2,473.1 1020.8,470.6 1022.4,472.8 1024.0,474.7 1025.6,475.9 1027.2,477.0 1028.8,479.3 1030.3,480.6 1031.9,482.1 1033.5,481.8 1035.1,481.2 1036.7,481.0 1038.3,479.5 1039.9,475.4 1041.5,477.2 1043.2,476.8 1044.8,475.4 1046.4,477.9 1047.9,477.3 1049.5,475.4 1051.1,476.8 1052.7,476.5 1054.3,473.8 1055.9,478.1 1057.5,479.6 1059.1,481.8 1060.7,481.2 1062.3,480.2 1063.9,478.6 1065.5,477.6 1067.0,475.7 1068.6,472.2 1070.2,474.1 1071.8,475.2 1073.4,476.0 1075.0,475.4 1076.6,476.2 1078.2,475.5 1079.7,474.7 1081.3,473.8 1082.9,474.2 1084.5,472.9 1086.1,472.1 1087.7,472.2 1089.3,470.7 1090.9,468.6 1092.5,467.5 1094.1,467.5 1095.7,464.9 1097.2,464.6 1098.8,465.1 1100.4,465.9 1102.0,462.7 1103.6,460.1 1105.2,457.9 1106.8,454.8 1108.4,451.3 1110.0,450.0 1111.6,451.8 1113.1,453.6 1114.7,454.7 1116.3,457.4 1117.9,458.1 1119.5,459.5 1121.1,460.8 1122.7,460.7 1124.3,462.8 1125.9,464.3 1127.5,465.9 1129.1,465.7 1130.6,467.1 1132.2,469.1 1133.8,469.3 1135.4,468.6 1137.0,468.1 1138.6,470.6 1140.2,467.1 1141.8,466.1 1143.4,464.6 1145.0,465.9 1146.6,465.2 1148.2,467.0 1149.7,468.9 1151.3,470.6 1152.9,469.6 1154.5,469.6 1156.1,467.5 1157.7,471.2 1159.3,472.0 1160.9,473.8 1162.5,474.5 1164.1,474.6 1165.6,474.9 1167.2,477.0 1168.8,478.1 1170.4,480.5 1172.0,483.4 1173.6,483.5 1175.2,483.0 1176.8,482.9 1178.4,485.0 1180.0,482.9 1181.6,482.3 1183.1,481.6 1184.7,481.8 1186.3,481.0 1187.9,480.7 1189.5,481.4 1191.1,481.8 1192.7,480.1 1194.2,478.5 1195.8,476.5 1197.4,475.4 1199.0,474.9 1200.6,473.2 1202.2,475.4 1203.8,472.1 1205.4,471.6 1207.0,472.2 1208.6,476.3 1210.2,485.0 1211.8,496.1 1213.3,496.9 1214.9,500.9 1216.5,507.2 1218.1,503.5 1219.7,500.2 1221.3,499.3 1222.9,495.7 1224.5,493.7 1226.1,492.9 1227.4,491.2 1228.7,490.7 1230.0,489.7 1231.6,490.4 1233.2,490.7 1234.8,491.5 1236.4,492.9 1238.0,494.0 1239.5,496.2 1241.1,497.7 1242.7,501.2 1244.3,503.8 1245.9,507.2 1247.5,507.7 1249.1,509.3 1250.7,512.0 1252.3,508.6 1253.8,506.0 1255.4,505.6 1257.0,502.2 1258.6,500.1 1260.2,499.3 1261.8,497.6 1263.4,497.3 1265.0,496.4 1266.6,496.1 1268.2,498.0 1269.8,498.3 1271.3,499.7 1272.9,499.3 1274.5,500.9 1276.0,502.1 1277.6,501.3 1279.3,502.0 1280.9,502.9 1282.6,504.4 1284.3,506.1 1285.2,502.3 1286.2,498.5 1287.7,499.1 1289.1,497.9 1290.5,497.5 1292.0,494.6 1293.4,496.3 1294.8,496.2 1296.3,495.8 1297.7,493.7 1298.6,482.2 1299.6,472.7 1301.0,475.9 1302.5,477.8 1303.9,478.4 1303.4,472.7 1304.6,469.6 1305.8,466.0 1307.4,463.6 1309.1,459.3 1310.5,462.2 1312.0,465.0 1313.4,485.1 1313.9,493.7 1315.2,494.6 1316.4,496.5 1317.7,495.6 1319.2,495.9 1320.6,494.9 1322.0,494.8 1323.5,492.7 1325.0,493.0 1326.5,491.4 1328.1,490.8 1329.6,490.3 1331.1,488.9 1332.5,488.4 1333.9,486.3 1335.4,485.9 1336.8,483.2 1338.2,486.0 1339.7,486.2 1341.1,486.7 1342.6,486.0 1344.2,486.5 1345.9,487.0 1347.5,486.0 1349.2,485.1 1350.8,486.5 1352.4,486.5 1354.0,486.6 1355.6,484.4 1357.2,482.9 1358.8,481.7 1360.4,478.6 1362.0,482.6 1363.6,485.1 1365.2,488.1 1366.8,490.4 1368.3,491.8 1369.9,492.9 1371.5,494.3 1373.1,495.9 1374.7,497.1 1376.3,496.1 1377.9,496.7 1379.5,497.6 1381.1,496.6 1382.7,494.5 1384.3,495.5 1385.8,493.8 1387.4,492.8 1389.0,491.3 1390.6,490.2 1392.2,491.2 1393.8,491.5 1395.4,489.7 1397.0,490.4 1398.6,489.7 1400.2,489.2 1401.8,491.3 1403.4,492.0 1404.9,493.0 1406.5,494.4 1408.1,496.1 1409.7,494.7 1411.3,494.0 1412.9,492.6 1414.5,492.9 1416.1,491.3 1417.7,489.7 1419.2,489.3 1420.8,489.7 1422.4,489.4 1424.0,490.3 1425.6,490.6 1427.2,491.3 1428.8,489.4 1430.4,488.6 1432.0,488.1 1433.6,486.4 1435.1,486.5 1436.7,485.0 1438.3,490.1 1439.9,494.1 1441.5,497.7 1443.1,498.9 1444.7,499.5 1446.3,500.9 1447.9,498.9 1449.5,497.9 1451.1,497.7 1452.7,501.2 1454.2,505.6 1455.8,506.1 1457.4,507.0 1459.0,507.2 1460.6,509.7 1462.2,509.6 1463.8,510.2 1465.4,510.4" stroke="#FF0000" stroke-width="1.6" fill="none" stroke-linejoin="round"/>
<path d="M64.6 415.3l3.9 3.9l-3.9 3.9l-3.9 -3.9zM65.9 417.0l3.9 3.9l-3.9 3.9l-3.9 -3.9zM67.3 419.3l3.9 3.9l-3.9 3.9l-3.9 -3.9zM68.6 421.0l3.9 3.9l-3.9 3.9l-3.9 -3.9zM70.0 416.7l3.9 3.9l-3.9 3.9l-3.9 -3.9zM71.5 412.4l3.9 3.9l-3.9 3.9l-3.9 -3.9zM73.2 413.7l3.9 3.9l-3.9 3.9l-3.9 -3.9zM74.9 414.7l3.9 3.9l-3.9 3.9l-3.9 -3.9zM76.6 417.0l3.9 3.9l-3.9 3.9l-3.9 -3.9zM78.0 413.1l3.9 3.9l-3.9 3.9l-3.9 -3.9zM79.5 410.7l3.9 3.9l-3.9 3.9l-3.9 -3.9zM81.0 407.7l3.9 3.9l-3.9 3.9l-3.9 -3.9zM82.6 404.7l3.9 3.9l-3.9 3.9l-3.9 -3.9zM84.1 401.0l3.9 3.9l-3.9 3.9l-3.9 -3.9zM85.5 403.2l3.9 3.9l-3.9 3.9l-3.9 -3.9zM86.9 403.3l3.9 3.9l-3.9 3.9l-3.9 -3.9zM88.1 417.0l3.9 3.9l-3.9 3.9l-3.9 -3.9zM89.4 415.1l3.9 3.9l-3.9 3.9l-3.9 -3.9zM90.8 412.2l3.9 3.9l-3.9 3.9l-3.9 -3.9zM92.1 408.4l3.9 3.9l-3.9 3.9l-3.9 -3.9zM93.8 412.4l3.9 3.9l-3.9 3.9l-3.9 -3.9zM95.5 414.7l3.9 3.9l-3.9 3.9l-3.9 -3.9zM96.7 418.8l3.9 3.9l-3.9 3.9l-3.9 -3.9zM97.8 423.9l3.9 3.9l-3.9 3.9l-3.9 -3.9zM99.2 427.8l3.9 3.9l-3.9 3.9l-3.9 -3.9zM100.7 431.3l3.9 3.9l-3.9 3.9l-3.9 -3.9zM102.4 431.6l3.9 3.9l-3.9 3.9l-3.9 -3.9zM104.1 431.7l3.9 3.9l-3.9 3.9l-3.9 -3.9zM105.8 430.8l3.9 3.9l-3.9 3.9l-3.9 -3.9zM107.0 439.9l3.9 3.9l-3.9 3.9l-3.9 -3.9zM108.4 440.5l3.9 3.9l-3.9 3.9l-3.9 -3.9zM109.8 440.6l3.9 3.9l-3.9 3.9l-3.9 -3.9zM111.3 441.6l3.9 3.9l-3.9 3.9l-3.9 -3.9zM112.7 444.5l3.9 3.9l-3.9 3.9l-3.9 -3.9zM114.2 439.6l3.9 3.9l-3.9 3.9l-3.9 -3.9zM115.8 437.0l3.9 3.9l-3.9 3.9l-3.9 -3.9zM117.3 434.8l3.9 3.9l-3.9 3.9l-3.9 -3.9zM118.6 437.0l3.9 3.9l-3.9 3.9l-3.9 -3.9zM120.0 440.6l3.9 3.9l-3.9 3.9l-3.9 -3.9zM121.3 443.9l3.9 3.9l-3.9 3.9l-3.9 -3.9zM122.4 448.2l3.9 3.9l-3.9 3.9l-3.9 -3.9zM123.6 453.7l3.9 3.9l-3.9 3.9l-3.9 -3.9zM125.0 457.4l3.9 3.9l-3.9 3.9l-3.9 -3.9zM126.4 461.7l3.9 3.9l-3.9 3.9l-3.9 -3.9zM127.9 460.2l3.9 3.9l-3.9 3.9l-3.9 -3.9zM129.5 458.2l3.9 3.9l-3.9 3.9l-3.9 -3.9zM131.0 457.1l3.9 3.9l-3.9 3.9l-3.9 -3.9zM132.2 452.8l3.9 3.9l-3.9 3.9l-3.9 -3.9zM133.3 446.8l3.9 3.9l-3.9 3.9l-3.9 -3.9zM134.7 449.5l3.9 3.9l-3.9 3.9l-3.9 -3.9zM136.2 451.8l3.9 3.9l-3.9 3.9l-3.9 -3.9zM137.6 452.7l3.9 3.9l-3.9 3.9l-3.9 -3.9zM139.0 453.7l3.9 3.9l-3.9 3.9l-3.9 -3.9zM140.5 451.1l3.9 3.9l-3.9 3.9l-3.9 -3.9zM142.1 448.2l3.9 3.9l-3.9 3.9l-3.9 -3.9zM143.6 445.7l3.9 3.9l-3.9 3.9l-3.9 -3.9zM145.1 443.6l3.9 3.9l-3.9 3.9l-3.9 -3.9zM146.7 442.1l3.9 3.9l-3.9 3.9l-3.9 -3.9zM148.2 439.9l3.9 3.9l-3.9 3.9l-3.9 -3.9zM149.9 439.4l3.9 3.9l-3.9 3.9l-3.9 -3.9zM151.6 438.2l3.9 3.9l-3.9 3.9l-3.9 -3.9zM153.4 436.7l3.9 3.9l-3.9 3.9l-3.9 -3.9zM155.1 436.5l3.9 3.9l-3.9 3.9l-3.9 -3.9zM156.8 440.3l3.9 3.9l-3.9 3.9l-3.9 -3.9zM158.5 445.7l3.9 3.9l-3.9 3.9l-3.9 -3.9zM160.2 457.2l3.9 3.9l-3.9 3.9l-3.9 -3.9zM161.8 456.4l3.9 3.9l-3.9 3.9l-3.9 -3.9zM163.4 454.7l3.9 3.9l-3.9 3.9l-3.9 -3.9zM165.0 454.1l3.9 3.9l-3.9 3.9l-3.9 -3.9zM166.6 450.2l3.9 3.9l-3.9 3.9l-3.9 -3.9zM168.1 446.8l3.9 3.9l-3.9 3.9l-3.9 -3.9zM169.7 442.9l3.9 3.9l-3.9 3.9l-3.9 -3.9zM171.3 440.1l3.9 3.9l-3.9 3.9l-3.9 -3.9zM172.9 438.3l3.9 3.9l-3.9 3.9l-3.9 -3.9zM174.5 437.3l3.9 3.9l-3.9 3.9l-3.9 -3.9zM176.1 434.9l3.9 3.9l-3.9 3.9l-3.9 -3.9zM177.7 433.1l3.9 3.9l-3.9 3.9l-3.9 -3.9zM179.3 432.4l3.9 3.9l-3.9 3.9l-3.9 -3.9zM180.9 431.8l3.9 3.9l-3.9 3.9l-3.9 -3.9zM182.5 431.8l3.9 3.9l-3.9 3.9l-3.9 -3.9zM184.1 431.4l3.9 3.9l-3.9 3.9l-3.9 -3.9zM185.7 432.8l3.9 3.9l-3.9 3.9l-3.9 -3.9zM187.2 433.7l3.9 3.9l-3.9 3.9l-3.9 -3.9zM188.8 434.9l3.9 3.9l-3.9 3.9l-3.9 -3.9zM190.4 436.3l3.9 3.9l-3.9 3.9l-3.9 -3.9zM192.0 439.8l3.9 3.9l-3.9 3.9l-3.9 -3.9zM193.6 442.9l3.9 3.9l-3.9 3.9l-3.9 -3.9zM195.2 445.4l3.9 3.9l-3.9 3.9l-3.9 -3.9zM196.8 448.4l3.9 3.9l-3.9 3.9l-3.9 -3.9zM198.4 451.5l3.9 3.9l-3.9 3.9l-3.9 -3.9zM200.0 452.4l3.9 3.9l-3.9 3.9l-3.9 -3.9zM201.6 449.0l3.9 3.9l-3.9 3.9l-3.9 -3.9zM203.1 444.0l3.9 3.9l-3.9 3.9l-3.9 -3.9zM204.7 438.1l3.9 3.9l-3.9 3.9l-3.9 -3.9zM206.3 437.0l3.9 3.9l-3.9 3.9l-3.9 -3.9zM207.9 436.3l3.9 3.9l-3.9 3.9l-3.9 -3.9zM209.5 434.9l3.9 3.9l-3.9 3.9l-3.9 -3.9zM211.1 436.4l3.9 3.9l-3.9 3.9l-3.9 -3.9zM212.7 437.7l3.9 3.9l-3.9 3.9l-3.9 -3.9zM214.2 438.6l3.9 3.9l-3.9 3.9l-3.9 -3.9zM215.8 441.3l3.9 3.9l-3.9 3.9l-3.9 -3.9zM217.4 442.2l3.9 3.9l-3.9 3.9l-3.9 -3.9zM219.0 444.6l3.9 3.9l-3.9 3.9l-3.9 -3.9zM220.6 448.2l3.9 3.9l-3.9 3.9l-3.9 -3.9zM222.2 450.8l3.9 3.9l-3.9 3.9l-3.9 -3.9zM223.8 447.3l3.9 3.9l-3.9 3.9l-3.9 -3.9zM225.4 444.7l3.9 3.9l-3.9 3.9l-3.9 -3.9zM227.0 443.5l3.9 3.9l-3.9 3.9l-3.9 -3.9zM228.6 442.9l3.9 3.9l-3.9 3.9l-3.9 -3.9zM230.2 441.5l3.9 3.9l-3.9 3.9l-3.9 -3.9zM231.8 440.6l3.9 3.9l-3.9 3.9l-3.9 -3.9zM233.3 438.0l3.9 3.9l-3.9 3.9l-3.9 -3.9zM234.9 435.3l3.9 3.9l-3.9 3.9l-3.9 -3.9zM236.5 436.5l3.9 3.9l-3.9 3.9l-3.9 -3.9zM238.1 437.3l3.9 3.9l-3.9 3.9l-3.9 -3.9zM239.7 439.6l3.9 3.9l-3.9 3.9l-3.9 -3.9zM241.3 441.7l3.9 3.9l-3.9 3.9l-3.9 -3.9zM242.9 446.1l3.9 3.9l-3.9 3.9l-3.9 -3.9zM244.5 447.3l3.9 3.9l-3.9 3.9l-3.9 -3.9zM246.1 450.4l3.9 3.9l-3.9 3.9l-3.9 -3.9zM247.7 452.4l3.9 3.9l-3.9 3.9l-3.9 -3.9zM252.4 471.5l3.9 3.9l-3.9 3.9l-3.9 -3.9zM254.0 470.9l3.9 3.9l-3.9 3.9l-3.9 -3.9zM255.6 470.2l3.9 3.9l-3.9 3.9l-3.9 -3.9zM257.2 469.6l3.9 3.9l-3.9 3.9l-3.9 -3.9zM258.8 468.3l3.9 3.9l-3.9 3.9l-3.9 -3.9zM260.4 467.6l3.9 3.9l-3.9 3.9l-3.9 -3.9zM262.0 465.6l3.9 3.9l-3.9 3.9l-3.9 -3.9zM263.6 462.0l3.9 3.9l-3.9 3.9l-3.9 -3.9zM265.2 461.9l3.9 3.9l-3.9 3.9l-3.9 -3.9zM266.8 460.3l3.9 3.9l-3.9 3.9l-3.9 -3.9zM268.3 457.3l3.9 3.9l-3.9 3.9l-3.9 -3.9zM269.9 455.6l3.9 3.9l-3.9 3.9l-3.9 -3.9zM271.5 451.7l3.9 3.9l-3.9 3.9l-3.9 -3.9zM273.1 447.4l3.9 3.9l-3.9 3.9l-3.9 -3.9zM274.7 441.3l3.9 3.9l-3.9 3.9l-3.9 -3.9zM276.3 441.6l3.9 3.9l-3.9 3.9l-3.9 -3.9zM277.9 438.9l3.9 3.9l-3.9 3.9l-3.9 -3.9zM279.5 438.1l3.9 3.9l-3.9 3.9l-3.9 -3.9zM281.1 436.3l3.9 3.9l-3.9 3.9l-3.9 -3.9zM282.6 435.8l3.9 3.9l-3.9 3.9l-3.9 -3.9zM284.2 433.4l3.9 3.9l-3.9 3.9l-3.9 -3.9zM285.8 433.4l3.9 3.9l-3.9 3.9l-3.9 -3.9zM287.4 434.0l3.9 3.9l-3.9 3.9l-3.9 -3.9zM289.0 436.5l3.9 3.9l-3.9 3.9l-3.9 -3.9zM290.6 437.2l3.9 3.9l-3.9 3.9l-3.9 -3.9zM292.2 439.7l3.9 3.9l-3.9 3.9l-3.9 -3.9zM293.8 442.2l3.9 3.9l-3.9 3.9l-3.9 -3.9zM295.4 444.6l3.9 3.9l-3.9 3.9l-3.9 -3.9zM297.0 446.1l3.9 3.9l-3.9 3.9l-3.9 -3.9zM298.6 448.1l3.9 3.9l-3.9 3.9l-3.9 -3.9zM300.1 449.8l3.9 3.9l-3.9 3.9l-3.9 -3.9zM301.7 451.6l3.9 3.9l-3.9 3.9l-3.9 -3.9zM303.3 452.4l3.9 3.9l-3.9 3.9l-3.9 -3.9zM304.9 454.2l3.9 3.9l-3.9 3.9l-3.9 -3.9zM306.6 455.8l3.9 3.9l-3.9 3.9l-3.9 -3.9zM308.2 455.6l3.9 3.9l-3.9 3.9l-3.9 -3.9zM309.8 462.5l3.9 3.9l-3.9 3.9l-3.9 -3.9zM311.4 468.3l3.9 3.9l-3.9 3.9l-3.9 -3.9zM313.0 474.7l3.9 3.9l-3.9 3.9l-3.9 -3.9zM314.6 470.1l3.9 3.9l-3.9 3.9l-3.9 -3.9zM316.1 465.2l3.9 3.9l-3.9 3.9l-3.9 -3.9zM317.7 464.4l3.9 3.9l-3.9 3.9l-3.9 -3.9zM319.3 462.6l3.9 3.9l-3.9 3.9l-3.9 -3.9zM320.9 460.4l3.9 3.9l-3.9 3.9l-3.9 -3.9zM322.5 462.4l3.9 3.9l-3.9 3.9l-3.9 -3.9zM324.1 465.1l3.9 3.9l-3.9 3.9l-3.9 -3.9zM325.7 466.7l3.9 3.9l-3.9 3.9l-3.9 -3.9zM327.3 467.0l3.9 3.9l-3.9 3.9l-3.9 -3.9zM328.8 465.4l3.9 3.9l-3.9 3.9l-3.9 -3.9zM330.4 463.6l3.9 3.9l-3.9 3.9l-3.9 -3.9zM332.0 462.8l3.9 3.9l-3.9 3.9l-3.9 -3.9zM333.6 462.4l3.9 3.9l-3.9 3.9l-3.9 -3.9zM335.2 462.0l3.9 3.9l-3.9 3.9l-3.9 -3.9zM336.8 462.0l3.9 3.9l-3.9 3.9l-3.9 -3.9zM338.4 460.7l3.9 3.9l-3.9 3.9l-3.9 -3.9zM340.0 460.8l3.9 3.9l-3.9 3.9l-3.9 -3.9zM341.6 459.4l3.9 3.9l-3.9 3.9l-3.9 -3.9zM343.2 460.5l3.9 3.9l-3.9 3.9l-3.9 -3.9zM344.8 462.0l3.9 3.9l-3.9 3.9l-3.9 -3.9zM346.4 468.2l3.9 3.9l-3.9 3.9l-3.9 -3.9zM348.0 473.1l3.9 3.9l-3.9 3.9l-3.9 -3.9zM349.6 469.0l3.9 3.9l-3.9 3.9l-3.9 -3.9zM351.1 464.9l3.9 3.9l-3.9 3.9l-3.9 -3.9zM352.7 462.0l3.9 3.9l-3.9 3.9l-3.9 -3.9zM354.3 462.4l3.9 3.9l-3.9 3.9l-3.9 -3.9zM355.9 463.7l3.9 3.9l-3.9 3.9l-3.9 -3.9zM357.5 463.6l3.9 3.9l-3.9 3.9l-3.9 -3.9zM359.1 467.3l3.9 3.9l-3.9 3.9l-3.9 -3.9zM360.7 469.9l3.9 3.9l-3.9 3.9l-3.9 -3.9zM362.3 471.5l3.9 3.9l-3.9 3.9l-3.9 -3.9zM363.9 469.9l3.9 3.9l-3.9 3.9l-3.9 -3.9zM365.4 466.7l3.9 3.9l-3.9 3.9l-3.9 -3.9zM367.0 466.4l3.9 3.9l-3.9 3.9l-3.9 -3.9zM368.6 465.6l3.9 3.9l-3.9 3.9l-3.9 -3.9zM370.2 463.6l3.9 3.9l-3.9 3.9l-3.9 -3.9zM371.8 463.6l3.9 3.9l-3.9 3.9l-3.9 -3.9zM373.4 463.2l3.9 3.9l-3.9 3.9l-3.9 -3.9zM375.0 462.0l3.9 3.9l-3.9 3.9l-3.9 -3.9zM376.6 464.9l3.9 3.9l-3.9 3.9l-3.9 -3.9zM378.1 466.8l3.9 3.9l-3.9 3.9l-3.9 -3.9zM379.7 468.3l3.9 3.9l-3.9 3.9l-3.9 -3.9zM381.3 470.3l3.9 3.9l-3.9 3.9l-3.9 -3.9zM382.9 471.5l3.9 3.9l-3.9 3.9l-3.9 -3.9zM384.5 471.5l3.9 3.9l-3.9 3.9l-3.9 -3.9zM386.1 472.1l3.9 3.9l-3.9 3.9l-3.9 -3.9zM387.7 470.1l3.9 3.9l-3.9 3.9l-3.9 -3.9zM389.3 466.7l3.9 3.9l-3.9 3.9l-3.9 -3.9zM390.9 465.7l3.9 3.9l-3.9 3.9l-3.9 -3.9zM392.5 463.1l3.9 3.9l-3.9 3.9l-3.9 -3.9zM394.1 460.4l3.9 3.9l-3.9 3.9l-3.9 -3.9zM395.7 459.8l3.9 3.9l-3.9 3.9l-3.9 -3.9zM397.2 459.2l3.9 3.9l-3.9 3.9l-3.9 -3.9zM398.8 457.2l3.9 3.9l-3.9 3.9l-3.9 -3.9zM400.4 455.0l3.9 3.9l-3.9 3.9l-3.9 -3.9zM402.0 452.5l3.9 3.9l-3.9 3.9l-3.9 -3.9zM403.6 449.3l3.9 3.9l-3.9 3.9l-3.9 -3.9zM405.2 453.1l3.9 3.9l-3.9 3.9l-3.9 -3.9zM406.8 453.1l3.9 3.9l-3.9 3.9l-3.9 -3.9zM408.4 455.6l3.9 3.9l-3.9 3.9l-3.9 -3.9zM410.0 453.3l3.9 3.9l-3.9 3.9l-3.9 -3.9zM411.5 452.6l3.9 3.9l-3.9 3.9l-3.9 -3.9zM413.1 451.8l3.9 3.9l-3.9 3.9l-3.9 -3.9zM414.7 450.8l3.9 3.9l-3.9 3.9l-3.9 -3.9zM416.3 448.7l3.9 3.9l-3.9 3.9l-3.9 -3.9zM417.9 446.3l3.9 3.9l-3.9 3.9l-3.9 -3.9zM419.5 444.5l3.9 3.9l-3.9 3.9l-3.9 -3.9zM421.1 443.5l3.9 3.9l-3.9 3.9l-3.9 -3.9zM422.7 442.4l3.9 3.9l-3.9 3.9l-3.9 -3.9zM424.3 440.8l3.9 3.9l-3.9 3.9l-3.9 -3.9zM425.9 439.7l3.9 3.9l-3.9 3.9l-3.9 -3.9zM427.5 440.4l3.9 3.9l-3.9 3.9l-3.9 -3.9zM429.0 439.5l3.9 3.9l-3.9 3.9l-3.9 -3.9zM430.6 438.0l3.9 3.9l-3.9 3.9l-3.9 -3.9zM432.2 436.5l3.9 3.9l-3.9 3.9l-3.9 -3.9zM433.8 436.2l3.9 3.9l-3.9 3.9l-3.9 -3.9zM435.4 435.1l3.9 3.9l-3.9 3.9l-3.9 -3.9zM437.0 434.3l3.9 3.9l-3.9 3.9l-3.9 -3.9zM438.6 433.4l3.9 3.9l-3.9 3.9l-3.9 -3.9zM440.2 432.2l3.9 3.9l-3.9 3.9l-3.9 -3.9zM441.8 432.8l3.9 3.9l-3.9 3.9l-3.9 -3.9zM443.4 434.9l3.9 3.9l-3.9 3.9l-3.9 -3.9zM445.0 437.0l3.9 3.9l-3.9 3.9l-3.9 -3.9zM446.5 439.1l3.9 3.9l-3.9 3.9l-3.9 -3.9zM448.1 442.9l3.9 3.9l-3.9 3.9l-3.9 -3.9zM449.7 440.9l3.9 3.9l-3.9 3.9l-3.9 -3.9zM451.3 440.7l3.9 3.9l-3.9 3.9l-3.9 -3.9zM452.9 439.7l3.9 3.9l-3.9 3.9l-3.9 -3.9zM454.5 441.8l3.9 3.9l-3.9 3.9l-3.9 -3.9zM456.1 444.3l3.9 3.9l-3.9 3.9l-3.9 -3.9zM457.7 444.5l3.9 3.9l-3.9 3.9l-3.9 -3.9zM459.3 443.3l3.9 3.9l-3.9 3.9l-3.9 -3.9zM460.8 442.1l3.9 3.9l-3.9 3.9l-3.9 -3.9zM462.4 441.3l3.9 3.9l-3.9 3.9l-3.9 -3.9zM464.0 436.6l3.9 3.9l-3.9 3.9l-3.9 -3.9zM465.6 432.9l3.9 3.9l-3.9 3.9l-3.9 -3.9zM467.2 428.6l3.9 3.9l-3.9 3.9l-3.9 -3.9zM468.8 428.6l3.9 3.9l-3.9 3.9l-3.9 -3.9zM470.4 425.8l3.9 3.9l-3.9 3.9l-3.9 -3.9zM472.0 426.0l3.9 3.9l-3.9 3.9l-3.9 -3.9zM473.6 425.4l3.9 3.9l-3.9 3.9l-3.9 -3.9zM475.2 423.2l3.9 3.9l-3.9 3.9l-3.9 -3.9zM476.7 422.9l3.9 3.9l-3.9 3.9l-3.9 -3.9zM478.3 422.2l3.9 3.9l-3.9 3.9l-3.9 -3.9zM479.9 418.3l3.9 3.9l-3.9 3.9l-3.9 -3.9zM481.5 416.1l3.9 3.9l-3.9 3.9l-3.9 -3.9zM483.1 414.3l3.9 3.9l-3.9 3.9l-3.9 -3.9zM484.7 413.9l3.9 3.9l-3.9 3.9l-3.9 -3.9zM486.3 413.3l3.9 3.9l-3.9 3.9l-3.9 -3.9zM487.9 412.7l3.9 3.9l-3.9 3.9l-3.9 -3.9zM489.5 413.9l3.9 3.9l-3.9 3.9l-3.9 -3.9zM491.1 415.5l3.9 3.9l-3.9 3.9l-3.9 -3.9zM492.7 415.9l3.9 3.9l-3.9 3.9l-3.9 -3.9zM494.3 415.4l3.9 3.9l-3.9 3.9l-3.9 -3.9zM495.8 414.1l3.9 3.9l-3.9 3.9l-3.9 -3.9zM497.4 412.7l3.9 3.9l-3.9 3.9l-3.9 -3.9zM499.0 415.6l3.9 3.9l-3.9 3.9l-3.9 -3.9zM500.6 417.5l3.9 3.9l-3.9 3.9l-3.9 -3.9zM502.2 417.4l3.9 3.9l-3.9 3.9l-3.9 -3.9zM503.8 420.6l3.9 3.9l-3.9 3.9l-3.9 -3.9zM505.4 424.2l3.9 3.9l-3.9 3.9l-3.9 -3.9zM507.0 423.8l3.9 3.9l-3.9 3.9l-3.9 -3.9zM508.6 430.5l3.9 3.9l-3.9 3.9l-3.9 -3.9zM510.2 434.9l3.9 3.9l-3.9 3.9l-3.9 -3.9zM511.8 438.8l3.9 3.9l-3.9 3.9l-3.9 -3.9zM513.3 439.7l3.9 3.9l-3.9 3.9l-3.9 -3.9zM514.9 439.0l3.9 3.9l-3.9 3.9l-3.9 -3.9zM516.5 437.3l3.9 3.9l-3.9 3.9l-3.9 -3.9zM518.1 434.9l3.9 3.9l-3.9 3.9l-3.9 -3.9zM519.7 432.3l3.9 3.9l-3.9 3.9l-3.9 -3.9zM521.3 428.4l3.9 3.9l-3.9 3.9l-3.9 -3.9zM522.9 423.8l3.9 3.9l-3.9 3.9l-3.9 -3.9zM524.5 423.9l3.9 3.9l-3.9 3.9l-3.9 -3.9zM526.0 421.5l3.9 3.9l-3.9 3.9l-3.9 -3.9zM527.6 420.6l3.9 3.9l-3.9 3.9l-3.9 -3.9zM529.2 419.0l3.9 3.9l-3.9 3.9l-3.9 -3.9zM530.8 419.1l3.9 3.9l-3.9 3.9l-3.9 -3.9zM532.4 419.0l3.9 3.9l-3.9 3.9l-3.9 -3.9zM534.0 421.7l3.9 3.9l-3.9 3.9l-3.9 -3.9zM535.6 425.0l3.9 3.9l-3.9 3.9l-3.9 -3.9zM537.2 430.1l3.9 3.9l-3.9 3.9l-3.9 -3.9zM538.8 427.6l3.9 3.9l-3.9 3.9l-3.9 -3.9zM540.3 428.4l3.9 3.9l-3.9 3.9l-3.9 -3.9zM541.9 428.6l3.9 3.9l-3.9 3.9l-3.9 -3.9zM543.5 431.2l3.9 3.9l-3.9 3.9l-3.9 -3.9zM545.1 434.8l3.9 3.9l-3.9 3.9l-3.9 -3.9zM546.7 436.5l3.9 3.9l-3.9 3.9l-3.9 -3.9zM548.4 436.6l3.9 3.9l-3.9 3.9l-3.9 -3.9zM550.0 436.5l3.9 3.9l-3.9 3.9l-3.9 -3.9zM551.6 443.0l3.9 3.9l-3.9 3.9l-3.9 -3.9zM553.2 449.3l3.9 3.9l-3.9 3.9l-3.9 -3.9zM554.8 450.2l3.9 3.9l-3.9 3.9l-3.9 -3.9zM556.4 452.4l3.9 3.9l-3.9 3.9l-3.9 -3.9zM558.0 449.8l3.9 3.9l-3.9 3.9l-3.9 -3.9zM559.5 448.2l3.9 3.9l-3.9 3.9l-3.9 -3.9zM561.1 444.5l3.9 3.9l-3.9 3.9l-3.9 -3.9zM564.3 460.4l3.9 3.9l-3.9 3.9l-3.9 -3.9zM565.9 456.4l3.9 3.9l-3.9 3.9l-3.9 -3.9zM567.5 453.1l3.9 3.9l-3.9 3.9l-3.9 -3.9zM569.1 447.7l3.9 3.9l-3.9 3.9l-3.9 -3.9zM570.7 450.8l3.9 3.9l-3.9 3.9l-3.9 -3.9zM572.3 451.9l3.9 3.9l-3.9 3.9l-3.9 -3.9zM573.9 452.4l3.9 3.9l-3.9 3.9l-3.9 -3.9zM575.5 449.9l3.9 3.9l-3.9 3.9l-3.9 -3.9zM577.0 449.0l3.9 3.9l-3.9 3.9l-3.9 -3.9zM578.6 446.8l3.9 3.9l-3.9 3.9l-3.9 -3.9zM580.2 444.5l3.9 3.9l-3.9 3.9l-3.9 -3.9zM581.8 449.9l3.9 3.9l-3.9 3.9l-3.9 -3.9zM583.4 455.6l3.9 3.9l-3.9 3.9l-3.9 -3.9zM585.0 457.9l3.9 3.9l-3.9 3.9l-3.9 -3.9zM586.6 460.3l3.9 3.9l-3.9 3.9l-3.9 -3.9zM588.2 462.0l3.9 3.9l-3.9 3.9l-3.9 -3.9zM589.8 466.4l3.9 3.9l-3.9 3.9l-3.9 -3.9zM591.3 468.3l3.9 3.9l-3.9 3.9l-3.9 -3.9zM592.9 469.0l3.9 3.9l-3.9 3.9l-3.9 -3.9zM594.5 470.1l3.9 3.9l-3.9 3.9l-3.9 -3.9zM596.1 471.2l3.9 3.9l-3.9 3.9l-3.9 -3.9zM597.7 469.9l3.9 3.9l-3.9 3.9l-3.9 -3.9zM599.3 467.9l3.9 3.9l-3.9 3.9l-3.9 -3.9zM600.9 463.0l3.9 3.9l-3.9 3.9l-3.9 -3.9zM602.5 457.2l3.9 3.9l-3.9 3.9l-3.9 -3.9zM604.1 456.8l3.9 3.9l-3.9 3.9l-3.9 -3.9zM605.7 456.2l3.9 3.9l-3.9 3.9l-3.9 -3.9zM607.3 454.0l3.9 3.9l-3.9 3.9l-3.9 -3.9zM608.9 455.5l3.9 3.9l-3.9 3.9l-3.9 -3.9zM610.4 455.9l3.9 3.9l-3.9 3.9l-3.9 -3.9zM612.0 455.6l3.9 3.9l-3.9 3.9l-3.9 -3.9zM613.6 456.1l3.9 3.9l-3.9 3.9l-3.9 -3.9zM615.2 454.4l3.9 3.9l-3.9 3.9l-3.9 -3.9zM616.8 452.4l3.9 3.9l-3.9 3.9l-3.9 -3.9zM618.4 455.6l3.9 3.9l-3.9 3.9l-3.9 -3.9zM620.0 460.4l3.9 3.9l-3.9 3.9l-3.9 -3.9zM621.6 460.6l3.9 3.9l-3.9 3.9l-3.9 -3.9zM623.1 460.7l3.9 3.9l-3.9 3.9l-3.9 -3.9zM624.7 463.6l3.9 3.9l-3.9 3.9l-3.9 -3.9zM626.3 460.6l3.9 3.9l-3.9 3.9l-3.9 -3.9zM627.9 458.9l3.9 3.9l-3.9 3.9l-3.9 -3.9zM629.5 457.2l3.9 3.9l-3.9 3.9l-3.9 -3.9zM631.1 457.3l3.9 3.9l-3.9 3.9l-3.9 -3.9zM632.7 458.3l3.9 3.9l-3.9 3.9l-3.9 -3.9zM634.3 459.7l3.9 3.9l-3.9 3.9l-3.9 -3.9zM635.9 460.4l3.9 3.9l-3.9 3.9l-3.9 -3.9zM637.5 459.8l3.9 3.9l-3.9 3.9l-3.9 -3.9zM639.0 459.8l3.9 3.9l-3.9 3.9l-3.9 -3.9zM640.6 458.7l3.9 3.9l-3.9 3.9l-3.9 -3.9zM642.2 457.2l3.9 3.9l-3.9 3.9l-3.9 -3.9zM643.8 458.0l3.9 3.9l-3.9 3.9l-3.9 -3.9zM645.4 458.3l3.9 3.9l-3.9 3.9l-3.9 -3.9zM647.0 458.5l3.9 3.9l-3.9 3.9l-3.9 -3.9zM648.6 455.6l3.9 3.9l-3.9 3.9l-3.9 -3.9zM650.2 456.5l3.9 3.9l-3.9 3.9l-3.9 -3.9zM651.8 456.2l3.9 3.9l-3.9 3.9l-3.9 -3.9zM653.4 454.0l3.9 3.9l-3.9 3.9l-3.9 -3.9zM655.0 448.4l3.9 3.9l-3.9 3.9l-3.9 -3.9zM656.6 442.9l3.9 3.9l-3.9 3.9l-3.9 -3.9zM658.2 443.8l3.9 3.9l-3.9 3.9l-3.9 -3.9zM659.7 444.3l3.9 3.9l-3.9 3.9l-3.9 -3.9zM661.3 447.7l3.9 3.9l-3.9 3.9l-3.9 -3.9zM662.9 450.7l3.9 3.9l-3.9 3.9l-3.9 -3.9zM664.5 453.8l3.9 3.9l-3.9 3.9l-3.9 -3.9zM666.1 458.8l3.9 3.9l-3.9 3.9l-3.9 -3.9zM667.7 456.2l3.9 3.9l-3.9 3.9l-3.9 -3.9zM669.3 454.7l3.9 3.9l-3.9 3.9l-3.9 -3.9zM670.9 454.0l3.9 3.9l-3.9 3.9l-3.9 -3.9zM672.5 451.8l3.9 3.9l-3.9 3.9l-3.9 -3.9zM674.0 450.0l3.9 3.9l-3.9 3.9l-3.9 -3.9zM675.6 448.8l3.9 3.9l-3.9 3.9l-3.9 -3.9zM677.2 447.7l3.9 3.9l-3.9 3.9l-3.9 -3.9zM678.8 447.7l3.9 3.9l-3.9 3.9l-3.9 -3.9zM680.4 446.7l3.9 3.9l-3.9 3.9l-3.9 -3.9zM682.0 446.1l3.9 3.9l-3.9 3.9l-3.9 -3.9zM683.6 444.5l3.9 3.9l-3.9 3.9l-3.9 -3.9zM685.2 445.8l3.9 3.9l-3.9 3.9l-3.9 -3.9zM686.8 445.3l3.9 3.9l-3.9 3.9l-3.9 -3.9zM688.3 444.3l3.9 3.9l-3.9 3.9l-3.9 -3.9zM689.9 444.5l3.9 3.9l-3.9 3.9l-3.9 -3.9zM691.5 444.4l3.9 3.9l-3.9 3.9l-3.9 -3.9zM693.1 445.6l3.9 3.9l-3.9 3.9l-3.9 -3.9zM694.7 444.8l3.9 3.9l-3.9 3.9l-3.9 -3.9zM696.3 446.1l3.9 3.9l-3.9 3.9l-3.9 -3.9zM697.9 444.7l3.9 3.9l-3.9 3.9l-3.9 -3.9zM699.5 445.2l3.9 3.9l-3.9 3.9l-3.9 -3.9zM701.1 445.3l3.9 3.9l-3.9 3.9l-3.9 -3.9zM702.7 444.5l3.9 3.9l-3.9 3.9l-3.9 -3.9zM704.3 445.6l3.9 3.9l-3.9 3.9l-3.9 -3.9zM705.9 446.9l3.9 3.9l-3.9 3.9l-3.9 -3.9zM707.4 447.6l3.9 3.9l-3.9 3.9l-3.9 -3.9zM709.0 447.7l3.9 3.9l-3.9 3.9l-3.9 -3.9zM710.6 446.2l3.9 3.9l-3.9 3.9l-3.9 -3.9zM712.2 444.1l3.9 3.9l-3.9 3.9l-3.9 -3.9zM713.8 442.8l3.9 3.9l-3.9 3.9l-3.9 -3.9zM715.4 442.9l3.9 3.9l-3.9 3.9l-3.9 -3.9zM717.0 440.5l3.9 3.9l-3.9 3.9l-3.9 -3.9zM718.6 438.2l3.9 3.9l-3.9 3.9l-3.9 -3.9zM720.2 435.8l3.9 3.9l-3.9 3.9l-3.9 -3.9zM721.8 434.9l3.9 3.9l-3.9 3.9l-3.9 -3.9zM723.4 434.4l3.9 3.9l-3.9 3.9l-3.9 -3.9zM725.0 434.5l3.9 3.9l-3.9 3.9l-3.9 -3.9zM726.5 435.7l3.9 3.9l-3.9 3.9l-3.9 -3.9zM728.1 438.1l3.9 3.9l-3.9 3.9l-3.9 -3.9zM729.7 435.1l3.9 3.9l-3.9 3.9l-3.9 -3.9zM731.3 434.7l3.9 3.9l-3.9 3.9l-3.9 -3.9zM732.9 434.9l3.9 3.9l-3.9 3.9l-3.9 -3.9zM734.5 431.2l3.9 3.9l-3.9 3.9l-3.9 -3.9zM736.0 430.9l3.9 3.9l-3.9 3.9l-3.9 -3.9zM737.6 429.6l3.9 3.9l-3.9 3.9l-3.9 -3.9zM739.2 430.1l3.9 3.9l-3.9 3.9l-3.9 -3.9zM740.8 426.0l3.9 3.9l-3.9 3.9l-3.9 -3.9zM742.4 425.5l3.9 3.9l-3.9 3.9l-3.9 -3.9zM744.0 424.1l3.9 3.9l-3.9 3.9l-3.9 -3.9zM745.6 423.8l3.9 3.9l-3.9 3.9l-3.9 -3.9zM747.2 421.4l3.9 3.9l-3.9 3.9l-3.9 -3.9zM748.8 421.4l3.9 3.9l-3.9 3.9l-3.9 -3.9zM750.4 422.2l3.9 3.9l-3.9 3.9l-3.9 -3.9zM752.0 423.8l3.9 3.9l-3.9 3.9l-3.9 -3.9zM753.6 422.7l3.9 3.9l-3.9 3.9l-3.9 -3.9zM755.1 424.0l3.9 3.9l-3.9 3.9l-3.9 -3.9zM756.7 425.0l3.9 3.9l-3.9 3.9l-3.9 -3.9zM758.3 425.4l3.9 3.9l-3.9 3.9l-3.9 -3.9zM759.9 429.9l3.9 3.9l-3.9 3.9l-3.9 -3.9zM761.5 433.4l3.9 3.9l-3.9 3.9l-3.9 -3.9zM763.1 434.0l3.9 3.9l-3.9 3.9l-3.9 -3.9zM764.7 434.7l3.9 3.9l-3.9 3.9l-3.9 -3.9zM766.3 434.8l3.9 3.9l-3.9 3.9l-3.9 -3.9zM767.9 433.4l3.9 3.9l-3.9 3.9l-3.9 -3.9zM769.5 434.4l3.9 3.9l-3.9 3.9l-3.9 -3.9zM771.0 432.2l3.9 3.9l-3.9 3.9l-3.9 -3.9zM772.6 432.5l3.9 3.9l-3.9 3.9l-3.9 -3.9zM774.2 431.8l3.9 3.9l-3.9 3.9l-3.9 -3.9zM775.8 437.7l3.9 3.9l-3.9 3.9l-3.9 -3.9zM777.4 441.3l3.9 3.9l-3.9 3.9l-3.9 -3.9zM779.0 442.7l3.9 3.9l-3.9 3.9l-3.9 -3.9zM780.6 443.1l3.9 3.9l-3.9 3.9l-3.9 -3.9zM782.2 445.1l3.9 3.9l-3.9 3.9l-3.9 -3.9zM783.8 444.5l3.9 3.9l-3.9 3.9l-3.9 -3.9zM785.4 443.3l3.9 3.9l-3.9 3.9l-3.9 -3.9zM786.9 442.6l3.9 3.9l-3.9 3.9l-3.9 -3.9zM788.5 441.3l3.9 3.9l-3.9 3.9l-3.9 -3.9zM790.1 443.9l3.9 3.9l-3.9 3.9l-3.9 -3.9zM791.7 443.6l3.9 3.9l-3.9 3.9l-3.9 -3.9zM793.3 444.7l3.9 3.9l-3.9 3.9l-3.9 -3.9zM794.9 444.5l3.9 3.9l-3.9 3.9l-3.9 -3.9zM796.5 446.5l3.9 3.9l-3.9 3.9l-3.9 -3.9zM798.2 445.9l3.9 3.9l-3.9 3.9l-3.9 -3.9zM799.8 444.5l3.9 3.9l-3.9 3.9l-3.9 -3.9zM801.4 447.0l3.9 3.9l-3.9 3.9l-3.9 -3.9zM802.9 448.3l3.9 3.9l-3.9 3.9l-3.9 -3.9zM804.5 447.7l3.9 3.9l-3.9 3.9l-3.9 -3.9zM806.1 447.1l3.9 3.9l-3.9 3.9l-3.9 -3.9zM807.7 445.6l3.9 3.9l-3.9 3.9l-3.9 -3.9zM809.3 444.4l3.9 3.9l-3.9 3.9l-3.9 -3.9zM810.9 443.5l3.9 3.9l-3.9 3.9l-3.9 -3.9zM812.5 441.3l3.9 3.9l-3.9 3.9l-3.9 -3.9zM814.1 444.6l3.9 3.9l-3.9 3.9l-3.9 -3.9zM815.7 447.0l3.9 3.9l-3.9 3.9l-3.9 -3.9zM817.3 449.3l3.9 3.9l-3.9 3.9l-3.9 -3.9zM818.9 452.6l3.9 3.9l-3.9 3.9l-3.9 -3.9zM820.4 456.2l3.9 3.9l-3.9 3.9l-3.9 -3.9zM822.0 460.4l3.9 3.9l-3.9 3.9l-3.9 -3.9zM823.6 457.9l3.9 3.9l-3.9 3.9l-3.9 -3.9zM825.2 455.3l3.9 3.9l-3.9 3.9l-3.9 -3.9zM826.8 452.4l3.9 3.9l-3.9 3.9l-3.9 -3.9zM828.4 449.9l3.9 3.9l-3.9 3.9l-3.9 -3.9zM830.0 447.3l3.9 3.9l-3.9 3.9l-3.9 -3.9zM831.6 446.1l3.9 3.9l-3.9 3.9l-3.9 -3.9zM833.2 446.0l3.9 3.9l-3.9 3.9l-3.9 -3.9zM834.8 445.3l3.9 3.9l-3.9 3.9l-3.9 -3.9zM836.3 444.1l3.9 3.9l-3.9 3.9l-3.9 -3.9zM837.9 441.3l3.9 3.9l-3.9 3.9l-3.9 -3.9zM839.5 439.7l3.9 3.9l-3.9 3.9l-3.9 -3.9zM841.1 439.2l3.9 3.9l-3.9 3.9l-3.9 -3.9zM842.7 438.1l3.9 3.9l-3.9 3.9l-3.9 -3.9zM844.3 438.8l3.9 3.9l-3.9 3.9l-3.9 -3.9zM845.9 440.3l3.9 3.9l-3.9 3.9l-3.9 -3.9zM847.5 440.6l3.9 3.9l-3.9 3.9l-3.9 -3.9zM849.1 439.7l3.9 3.9l-3.9 3.9l-3.9 -3.9zM850.7 439.8l3.9 3.9l-3.9 3.9l-3.9 -3.9zM852.2 439.1l3.9 3.9l-3.9 3.9l-3.9 -3.9zM853.8 436.8l3.9 3.9l-3.9 3.9l-3.9 -3.9zM855.4 436.5l3.9 3.9l-3.9 3.9l-3.9 -3.9zM857.0 435.2l3.9 3.9l-3.9 3.9l-3.9 -3.9zM858.6 433.8l3.9 3.9l-3.9 3.9l-3.9 -3.9zM860.2 431.8l3.9 3.9l-3.9 3.9l-3.9 -3.9zM861.8 433.2l3.9 3.9l-3.9 3.9l-3.9 -3.9zM863.4 435.7l3.9 3.9l-3.9 3.9l-3.9 -3.9zM865.0 436.5l3.9 3.9l-3.9 3.9l-3.9 -3.9zM866.6 439.1l3.9 3.9l-3.9 3.9l-3.9 -3.9zM868.1 438.5l3.9 3.9l-3.9 3.9l-3.9 -3.9zM869.7 438.8l3.9 3.9l-3.9 3.9l-3.9 -3.9zM871.3 439.7l3.9 3.9l-3.9 3.9l-3.9 -3.9zM872.9 439.8l3.9 3.9l-3.9 3.9l-3.9 -3.9zM874.5 439.9l3.9 3.9l-3.9 3.9l-3.9 -3.9zM876.1 439.6l3.9 3.9l-3.9 3.9l-3.9 -3.9zM877.7 439.7l3.9 3.9l-3.9 3.9l-3.9 -3.9zM879.3 440.6l3.9 3.9l-3.9 3.9l-3.9 -3.9zM880.9 443.7l3.9 3.9l-3.9 3.9l-3.9 -3.9zM882.5 445.8l3.9 3.9l-3.9 3.9l-3.9 -3.9zM884.1 446.1l3.9 3.9l-3.9 3.9l-3.9 -3.9zM885.7 447.1l3.9 3.9l-3.9 3.9l-3.9 -3.9zM887.2 447.0l3.9 3.9l-3.9 3.9l-3.9 -3.9zM888.8 449.1l3.9 3.9l-3.9 3.9l-3.9 -3.9zM890.4 449.3l3.9 3.9l-3.9 3.9l-3.9 -3.9zM892.0 451.4l3.9 3.9l-3.9 3.9l-3.9 -3.9zM893.6 453.4l3.9 3.9l-3.9 3.9l-3.9 -3.9zM895.2 452.4l3.9 3.9l-3.9 3.9l-3.9 -3.9zM896.8 457.6l3.9 3.9l-3.9 3.9l-3.9 -3.9zM898.4 459.8l3.9 3.9l-3.9 3.9l-3.9 -3.9zM900.0 462.0l3.9 3.9l-3.9 3.9l-3.9 -3.9zM901.6 461.4l3.9 3.9l-3.9 3.9l-3.9 -3.9zM903.1 458.3l3.9 3.9l-3.9 3.9l-3.9 -3.9zM904.7 456.5l3.9 3.9l-3.9 3.9l-3.9 -3.9zM906.3 456.1l3.9 3.9l-3.9 3.9l-3.9 -3.9zM907.9 453.9l3.9 3.9l-3.9 3.9l-3.9 -3.9zM909.5 453.2l3.9 3.9l-3.9 3.9l-3.9 -3.9zM911.1 451.4l3.9 3.9l-3.9 3.9l-3.9 -3.9zM912.7 450.8l3.9 3.9l-3.9 3.9l-3.9 -3.9zM914.3 451.3l3.9 3.9l-3.9 3.9l-3.9 -3.9zM915.9 452.8l3.9 3.9l-3.9 3.9l-3.9 -3.9zM917.5 454.0l3.9 3.9l-3.9 3.9l-3.9 -3.9zM919.1 457.3l3.9 3.9l-3.9 3.9l-3.9 -3.9zM920.6 460.9l3.9 3.9l-3.9 3.9l-3.9 -3.9zM922.2 463.6l3.9 3.9l-3.9 3.9l-3.9 -3.9zM923.8 460.4l3.9 3.9l-3.9 3.9l-3.9 -3.9zM925.4 456.3l3.9 3.9l-3.9 3.9l-3.9 -3.9zM927.0 452.4l3.9 3.9l-3.9 3.9l-3.9 -3.9zM928.6 454.7l3.9 3.9l-3.9 3.9l-3.9 -3.9zM930.2 456.1l3.9 3.9l-3.9 3.9l-3.9 -3.9zM931.8 457.2l3.9 3.9l-3.9 3.9l-3.9 -3.9zM933.4 458.7l3.9 3.9l-3.9 3.9l-3.9 -3.9zM934.9 459.9l3.9 3.9l-3.9 3.9l-3.9 -3.9zM936.5 462.0l3.9 3.9l-3.9 3.9l-3.9 -3.9zM938.1 464.8l3.9 3.9l-3.9 3.9l-3.9 -3.9zM939.7 468.3l3.9 3.9l-3.9 3.9l-3.9 -3.9zM941.3 470.6l3.9 3.9l-3.9 3.9l-3.9 -3.9zM942.9 473.5l3.9 3.9l-3.9 3.9l-3.9 -3.9zM944.5 476.3l3.9 3.9l-3.9 3.9l-3.9 -3.9zM946.1 476.7l3.9 3.9l-3.9 3.9l-3.9 -3.9zM947.7 477.4l3.9 3.9l-3.9 3.9l-3.9 -3.9zM949.3 477.9l3.9 3.9l-3.9 3.9l-3.9 -3.9zM950.9 475.7l3.9 3.9l-3.9 3.9l-3.9 -3.9zM952.4 472.7l3.9 3.9l-3.9 3.9l-3.9 -3.9zM954.0 471.5l3.9 3.9l-3.9 3.9l-3.9 -3.9zM955.6 470.3l3.9 3.9l-3.9 3.9l-3.9 -3.9zM957.2 470.3l3.9 3.9l-3.9 3.9l-3.9 -3.9zM958.8 469.7l3.9 3.9l-3.9 3.9l-3.9 -3.9zM960.4 468.3l3.9 3.9l-3.9 3.9l-3.9 -3.9zM962.0 469.7l3.9 3.9l-3.9 3.9l-3.9 -3.9zM963.6 471.0l3.9 3.9l-3.9 3.9l-3.9 -3.9zM965.2 471.5l3.9 3.9l-3.9 3.9l-3.9 -3.9zM966.8 473.4l3.9 3.9l-3.9 3.9l-3.9 -3.9zM968.3 474.3l3.9 3.9l-3.9 3.9l-3.9 -3.9zM969.9 477.9l3.9 3.9l-3.9 3.9l-3.9 -3.9zM971.5 474.2l3.9 3.9l-3.9 3.9l-3.9 -3.9zM973.1 471.2l3.9 3.9l-3.9 3.9l-3.9 -3.9zM974.7 469.9l3.9 3.9l-3.9 3.9l-3.9 -3.9zM976.3 464.6l3.9 3.9l-3.9 3.9l-3.9 -3.9zM977.9 460.4l3.9 3.9l-3.9 3.9l-3.9 -3.9zM979.5 456.1l3.9 3.9l-3.9 3.9l-3.9 -3.9zM981.1 451.5l3.9 3.9l-3.9 3.9l-3.9 -3.9zM982.7 450.8l3.9 3.9l-3.9 3.9l-3.9 -3.9zM984.2 451.5l3.9 3.9l-3.9 3.9l-3.9 -3.9zM985.8 457.2l3.9 3.9l-3.9 3.9l-3.9 -3.9zM987.4 458.9l3.9 3.9l-3.9 3.9l-3.9 -3.9zM989.0 461.6l3.9 3.9l-3.9 3.9l-3.9 -3.9zM990.6 465.2l3.9 3.9l-3.9 3.9l-3.9 -3.9zM992.2 465.7l3.9 3.9l-3.9 3.9l-3.9 -3.9zM993.8 467.7l3.9 3.9l-3.9 3.9l-3.9 -3.9zM995.4 471.5l3.9 3.9l-3.9 3.9l-3.9 -3.9zM997.0 469.5l3.9 3.9l-3.9 3.9l-3.9 -3.9zM998.6 469.0l3.9 3.9l-3.9 3.9l-3.9 -3.9zM1000.2 468.3l3.9 3.9l-3.9 3.9l-3.9 -3.9zM1001.8 467.1l3.9 3.9l-3.9 3.9l-3.9 -3.9zM1003.3 467.1l3.9 3.9l-3.9 3.9l-3.9 -3.9zM1004.9 465.2l3.9 3.9l-3.9 3.9l-3.9 -3.9zM1006.5 470.0l3.9 3.9l-3.9 3.9l-3.9 -3.9zM1008.1 473.4l3.9 3.9l-3.9 3.9l-3.9 -3.9zM1009.7 476.3l3.9 3.9l-3.9 3.9l-3.9 -3.9zM1011.3 476.1l3.9 3.9l-3.9 3.9l-3.9 -3.9zM1012.9 475.7l3.9 3.9l-3.9 3.9l-3.9 -3.9zM1014.5 474.7l3.9 3.9l-3.9 3.9l-3.9 -3.9zM1016.1 471.5l3.9 3.9l-3.9 3.9l-3.9 -3.9zM1017.7 472.1l3.9 3.9l-3.9 3.9l-3.9 -3.9zM1019.2 469.2l3.9 3.9l-3.9 3.9l-3.9 -3.9zM1020.8 466.7l3.9 3.9l-3.9 3.9l-3.9 -3.9zM1022.4 468.9l3.9 3.9l-3.9 3.9l-3.9 -3.9zM1024.0 470.8l3.9 3.9l-3.9 3.9l-3.9 -3.9zM1025.6 472.0l3.9 3.9l-3.9 3.9l-3.9 -3.9zM1027.2 473.1l3.9 3.9l-3.9 3.9l-3.9 -3.9zM1028.8 475.4l3.9 3.9l-3.9 3.9l-3.9 -3.9zM1030.3 476.7l3.9 3.9l-3.9 3.9l-3.9 -3.9zM1031.9 478.2l3.9 3.9l-3.9 3.9l-3.9 -3.9zM1033.5 477.9l3.9 3.9l-3.9 3.9l-3.9 -3.9zM1035.1 477.3l3.9 3.9l-3.9 3.9l-3.9 -3.9zM1036.7 477.1l3.9 3.9l-3.9 3.9l-3.9 -3.9zM1038.3 475.6l3.9 3.9l-3.9 3.9l-3.9 -3.9zM1039.9 471.5l3.9 3.9l-3.9 3.9l-3.9 -3.9zM1041.5 473.3l3.9 3.9l-3.9 3.9l-3.9 -3.9zM1043.2 472.9l3.9 3.9l-3.9 3.9l-3.9 -3.9zM1044.8 471.5l3.9 3.9l-3.9 3.9l-3.9 -3.9zM1046.4 474.0l3.9 3.9l-3.9 3.9l-3.9 -3.9zM1047.9 473.4l3.9 3.9l-3.9 3.9l-3.9 -3.9zM1049.5 471.5l3.9 3.9l-3.9 3.9l-3.9 -3.9zM1051.1 472.9l3.9 3.9l-3.9 3.9l-3.9 -3.9zM1052.7 472.6l3.9 3.9l-3.9 3.9l-3.9 -3.9zM1054.3 469.9l3.9 3.9l-3.9 3.9l-3.9 -3.9zM1055.9 474.2l3.9 3.9l-3.9 3.9l-3.9 -3.9zM1057.5 475.7l3.9 3.9l-3.9 3.9l-3.9 -3.9zM1059.1 477.9l3.9 3.9l-3.9 3.9l-3.9 -3.9zM1060.7 477.3l3.9 3.9l-3.9 3.9l-3.9 -3.9zM1062.3 476.3l3.9 3.9l-3.9 3.9l-3.9 -3.9zM1063.9 474.7l3.9 3.9l-3.9 3.9l-3.9 -3.9zM1065.5 473.7l3.9 3.9l-3.9 3.9l-3.9 -3.9zM1067.0 471.8l3.9 3.9l-3.9 3.9l-3.9 -3.9zM1068.6 468.3l3.9 3.9l-3.9 3.9l-3.9 -3.9zM1070.2 470.2l3.9 3.9l-3.9 3.9l-3.9 -3.9zM1071.8 471.3l3.9 3.9l-3.9 3.9l-3.9 -3.9zM1073.4 472.1l3.9 3.9l-3.9 3.9l-3.9 -3.9zM1075.0 471.5l3.9 3.9l-3.9 3.9l-3.9 -3.9zM1076.6 472.3l3.9 3.9l-3.9 3.9l-3.9 -3.9zM1078.2 471.6l3.9 3.9l-3.9 3.9l-3.9 -3.9zM1079.7 470.8l3.9 3.9l-3.9 3.9l-3.9 -3.9zM1081.3 469.9l3.9 3.9l-3.9 3.9l-3.9 -3.9zM1082.9 470.3l3.9 3.9l-3.9 3.9l-3.9 -3.9zM1084.5 469.0l3.9 3.9l-3.9 3.9l-3.9 -3.9zM1086.1 468.2l3.9 3.9l-3.9 3.9l-3.9 -3.9zM1087.7 468.3l3.9 3.9l-3.9 3.9l-3.9 -3.9zM1089.3 466.8l3.9 3.9l-3.9 3.9l-3.9 -3.9zM1090.9 464.7l3.9 3.9l-3.9 3.9l-3.9 -3.9zM1092.5 463.6l3.9 3.9l-3.9 3.9l-3.9 -3.9zM1094.1 463.6l3.9 3.9l-3.9 3.9l-3.9 -3.9zM1095.7 461.0l3.9 3.9l-3.9 3.9l-3.9 -3.9zM1097.2 460.7l3.9 3.9l-3.9 3.9l-3.9 -3.9zM1098.8 461.2l3.9 3.9l-3.9 3.9l-3.9 -3.9zM1100.4 462.0l3.9 3.9l-3.9 3.9l-3.9 -3.9zM1102.0 458.8l3.9 3.9l-3.9 3.9l-3.9 -3.9zM1103.6 456.2l3.9 3.9l-3.9 3.9l-3.9 -3.9zM1105.2 454.0l3.9 3.9l-3.9 3.9l-3.9 -3.9zM1106.8 450.9l3.9 3.9l-3.9 3.9l-3.9 -3.9zM1108.4 447.4l3.9 3.9l-3.9 3.9l-3.9 -3.9zM1110.0 446.1l3.9 3.9l-3.9 3.9l-3.9 -3.9zM1111.6 447.9l3.9 3.9l-3.9 3.9l-3.9 -3.9zM1113.1 449.7l3.9 3.9l-3.9 3.9l-3.9 -3.9zM1114.7 450.8l3.9 3.9l-3.9 3.9l-3.9 -3.9zM1116.3 453.5l3.9 3.9l-3.9 3.9l-3.9 -3.9zM1117.9 454.2l3.9 3.9l-3.9 3.9l-3.9 -3.9zM1119.5 455.6l3.9 3.9l-3.9 3.9l-3.9 -3.9zM1121.1 456.9l3.9 3.9l-3.9 3.9l-3.9 -3.9zM1122.7 456.8l3.9 3.9l-3.9 3.9l-3.9 -3.9zM1124.3 458.9l3.9 3.9l-3.9 3.9l-3.9 -3.9zM1125.9 460.4l3.9 3.9l-3.9 3.9l-3.9 -3.9zM1127.5 462.0l3.9 3.9l-3.9 3.9l-3.9 -3.9zM1129.1 461.8l3.9 3.9l-3.9 3.9l-3.9 -3.9zM1130.6 463.2l3.9 3.9l-3.9 3.9l-3.9 -3.9zM1132.2 465.2l3.9 3.9l-3.9 3.9l-3.9 -3.9zM1133.8 465.4l3.9 3.9l-3.9 3.9l-3.9 -3.9zM1135.4 464.7l3.9 3.9l-3.9 3.9l-3.9 -3.9zM1137.0 464.2l3.9 3.9l-3.9 3.9l-3.9 -3.9zM1138.6 466.7l3.9 3.9l-3.9 3.9l-3.9 -3.9zM1140.2 463.2l3.9 3.9l-3.9 3.9l-3.9 -3.9zM1141.8 462.2l3.9 3.9l-3.9 3.9l-3.9 -3.9zM1143.4 460.7l3.9 3.9l-3.9 3.9l-3.9 -3.9zM1145.0 462.0l3.9 3.9l-3.9 3.9l-3.9 -3.9zM1146.6 461.3l3.9 3.9l-3.9 3.9l-3.9 -3.9zM1148.2 463.1l3.9 3.9l-3.9 3.9l-3.9 -3.9zM1149.7 465.0l3.9 3.9l-3.9 3.9l-3.9 -3.9zM1151.3 466.7l3.9 3.9l-3.9 3.9l-3.9 -3.9zM1152.9 465.7l3.9 3.9l-3.9 3.9l-3.9 -3.9zM1154.5 465.7l3.9 3.9l-3.9 3.9l-3.9 -3.9zM1156.1 463.6l3.9 3.9l-3.9 3.9l-3.9 -3.9zM1157.7 467.3l3.9 3.9l-3.9 3.9l-3.9 -3.9zM1159.3 468.1l3.9 3.9l-3.9 3.9l-3.9 -3.9zM1160.9 469.9l3.9 3.9l-3.9 3.9l-3.9 -3.9zM1162.5 470.6l3.9 3.9l-3.9 3.9l-3.9 -3.9zM1164.1 470.7l3.9 3.9l-3.9 3.9l-3.9 -3.9zM1165.6 471.0l3.9 3.9l-3.9 3.9l-3.9 -3.9zM1167.2 473.1l3.9 3.9l-3.9 3.9l-3.9 -3.9zM1168.8 474.2l3.9 3.9l-3.9 3.9l-3.9 -3.9zM1170.4 476.6l3.9 3.9l-3.9 3.9l-3.9 -3.9zM1172.0 479.5l3.9 3.9l-3.9 3.9l-3.9 -3.9zM1173.6 479.6l3.9 3.9l-3.9 3.9l-3.9 -3.9zM1175.2 479.1l3.9 3.9l-3.9 3.9l-3.9 -3.9zM1176.8 479.0l3.9 3.9l-3.9 3.9l-3.9 -3.9zM1178.4 481.1l3.9 3.9l-3.9 3.9l-3.9 -3.9zM1180.0 479.0l3.9 3.9l-3.9 3.9l-3.9 -3.9zM1181.6 478.4l3.9 3.9l-3.9 3.9l-3.9 -3.9zM1183.1 477.7l3.9 3.9l-3.9 3.9l-3.9 -3.9zM1184.7 477.9l3.9 3.9l-3.9 3.9l-3.9 -3.9zM1186.3 477.1l3.9 3.9l-3.9 3.9l-3.9 -3.9zM1187.9 476.8l3.9 3.9l-3.9 3.9l-3.9 -3.9zM1189.5 477.5l3.9 3.9l-3.9 3.9l-3.9 -3.9zM1191.1 477.9l3.9 3.9l-3.9 3.9l-3.9 -3.9zM1192.7 476.2l3.9 3.9l-3.9 3.9l-3.9 -3.9zM1194.2 474.6l3.9 3.9l-3.9 3.9l-3.9 -3.9zM1195.8 472.6l3.9 3.9l-3.9 3.9l-3.9 -3.9zM1197.4 471.5l3.9 3.9l-3.9 3.9l-3.9 -3.9zM1199.0 471.0l3.9 3.9l-3.9 3.9l-3.9 -3.9zM1200.6 469.3l3.9 3.9l-3.9 3.9l-3.9 -3.9zM1202.2 471.5l3.9 3.9l-3.9 3.9l-3.9 -3.9zM1203.8 468.2l3.9 3.9l-3.9 3.9l-3.9 -3.9zM1205.4 467.7l3.9 3.9l-3.9 3.9l-3.9 -3.9zM1207.0 468.3l3.9 3.9l-3.9 3.9l-3.9 -3.9zM1208.6 472.4l3.9 3.9l-3.9 3.9l-3.9 -3.9zM1210.2 481.1l3.9 3.9l-3.9 3.9l-3.9 -3.9zM1211.8 492.2l3.9 3.9l-3.9 3.9l-3.9 -3.9zM1213.3 493.0l3.9 3.9l-3.9 3.9l-3.9 -3.9zM1214.9 497.0l3.9 3.9l-3.9 3.9l-3.9 -3.9zM1216.5 503.3l3.9 3.9l-3.9 3.9l-3.9 -3.9zM1218.1 499.6l3.9 3.9l-3.9 3.9l-3.9 -3.9zM1219.7 496.3l3.9 3.9l-3.9 3.9l-3.9 -3.9zM1221.3 495.4l3.9 3.9l-3.9 3.9l-3.9 -3.9zM1222.9 491.8l3.9 3.9l-3.9 3.9l-3.9 -3.9zM1224.5 489.8l3.9 3.9l-3.9 3.9l-3.9 -3.9zM1226.1 489.0l3.9 3.9l-3.9 3.9l-3.9 -3.9zM1227.4 487.3l3.9 3.9l-3.9 3.9l-3.9 -3.9zM1228.7 486.8l3.9 3.9l-3.9 3.9l-3.9 -3.9zM1230.0 485.8l3.9 3.9l-3.9 3.9l-3.9 -3.9zM1231.6 486.5l3.9 3.9l-3.9 3.9l-3.9 -3.9zM1233.2 486.8l3.9 3.9l-3.9 3.9l-3.9 -3.9zM1234.8 487.6l3.9 3.9l-3.9 3.9l-3.9 -3.9zM1236.4 489.0l3.9 3.9l-3.9 3.9l-3.9 -3.9zM1238.0 490.1l3.9 3.9l-3.9 3.9l-3.9 -3.9zM1239.5 492.3l3.9 3.9l-3.9 3.9l-3.9 -3.9zM1241.1 493.8l3.9 3.9l-3.9 3.9l-3.9 -3.9zM1242.7 497.3l3.9 3.9l-3.9 3.9l-3.9 -3.9zM1244.3 499.9l3.9 3.9l-3.9 3.9l-3.9 -3.9zM1245.9 503.3l3.9 3.9l-3.9 3.9l-3.9 -3.9zM1247.5 503.8l3.9 3.9l-3.9 3.9l-3.9 -3.9zM1249.1 505.4l3.9 3.9l-3.9 3.9l-3.9 -3.9zM1250.7 508.1l3.9 3.9l-3.9 3.9l-3.9 -3.9zM1252.3 504.7l3.9 3.9l-3.9 3.9l-3.9 -3.9zM1253.8 502.1l3.9 3.9l-3.9 3.9l-3.9 -3.9zM1255.4 501.7l3.9 3.9l-3.9 3.9l-3.9 -3.9zM1257.0 498.3l3.9 3.9l-3.9 3.9l-3.9 -3.9zM1258.6 496.2l3.9 3.9l-3.9 3.9l-3.9 -3.9zM1260.2 495.4l3.9 3.9l-3.9 3.9l-3.9 -3.9zM1261.8 493.7l3.9 3.9l-3.9 3.9l-3.9 -3.9zM1263.4 493.4l3.9 3.9l-3.9 3.9l-3.9 -3.9zM1265.0 492.5l3.9 3.9l-3.9 3.9l-3.9 -3.9zM1266.6 492.2l3.9 3.9l-3.9 3.9l-3.9 -3.9zM1268.2 494.1l3.9 3.9l-3.9 3.9l-3.9 -3.9zM1269.8 494.4l3.9 3.9l-3.9 3.9l-3.9 -3.9zM1271.3 495.8l3.9 3.9l-3.9 3.9l-3.9 -3.9zM1272.9 495.4l3.9 3.9l-3.9 3.9l-3.9 -3.9zM1274.5 497.0l3.9 3.9l-3.9 3.9l-3.9 -3.9zM1276.0 498.2l3.9 3.9l-3.9 3.9l-3.9 -3.9zM1277.6 497.4l3.9 3.9l-3.9 3.9l-3.9 -3.9zM1279.3 498.1l3.9 3.9l-3.9 3.9l-3.9 -3.9zM1280.9 499.0l3.9 3.9l-3.9 3.9l-3.9 -3.9zM1282.6 500.5l3.9 3.9l-3.9 3.9l-3.9 -3.9zM1284.3 502.2l3.9 3.9l-3.9 3.9l-3.9 -3.9zM1285.2 498.4l3.9 3.9l-3.9 3.9l-3.9 -3.9zM1286.2 494.6l3.9 3.9l-3.9 3.9l-3.9 -3.9zM1287.7 495.2l3.9 3.9l-3.9 3.9l-3.9 -3.9zM1289.1 494.0l3.9 3.9l-3.9 3.9l-3.9 -3.9zM1290.5 493.6l3.9 3.9l-3.9 3.9l-3.9 -3.9zM1292.0 490.7l3.9 3.9l-3.9 3.9l-3.9 -3.9zM1293.4 492.4l3.9 3.9l-3.9 3.9l-3.9 -3.9zM1294.8 492.3l3.9 3.9l-3.9 3.9l-3.9 -3.9zM1296.3 491.9l3.9 3.9l-3.9 3.9l-3.9 -3.9zM1297.7 489.8l3.9 3.9l-3.9 3.9l-3.9 -3.9zM1298.6 478.3l3.9 3.9l-3.9 3.9l-3.9 -3.9zM1299.6 468.8l3.9 3.9l-3.9 3.9l-3.9 -3.9zM1301.0 472.0l3.9 3.9l-3.9 3.9l-3.9 -3.9zM1302.5 473.9l3.9 3.9l-3.9 3.9l-3.9 -3.9zM1303.9 474.5l3.9 3.9l-3.9 3.9l-3.9 -3.9zM1303.4 468.8l3.9 3.9l-3.9 3.9l-3.9 -3.9zM1304.6 465.7l3.9 3.9l-3.9 3.9l-3.9 -3.9zM1305.8 462.1l3.9 3.9l-3.9 3.9l-3.9 -3.9zM1307.4 459.7l3.9 3.9l-3.9 3.9l-3.9 -3.9zM1309.1 455.4l3.9 3.9l-3.9 3.9l-3.9 -3.9zM1310.5 458.3l3.9 3.9l-3.9 3.9l-3.9 -3.9zM1312.0 461.1l3.9 3.9l-3.9 3.9l-3.9 -3.9zM1313.4 481.2l3.9 3.9l-3.9 3.9l-3.9 -3.9zM1313.9 489.8l3.9 3.9l-3.9 3.9l-3.9 -3.9zM1315.2 490.7l3.9 3.9l-3.9 3.9l-3.9 -3.9zM1316.4 492.6l3.9 3.9l-3.9 3.9l-3.9 -3.9zM1317.7 491.7l3.9 3.9l-3.9 3.9l-3.9 -3.9zM1319.2 492.0l3.9 3.9l-3.9 3.9l-3.9 -3.9zM1320.6 491.0l3.9 3.9l-3.9 3.9l-3.9 -3.9zM1322.0 490.9l3.9 3.9l-3.9 3.9l-3.9 -3.9zM1323.5 488.8l3.9 3.9l-3.9 3.9l-3.9 -3.9zM1325.0 489.1l3.9 3.9l-3.9 3.9l-3.9 -3.9zM1326.5 487.5l3.9 3.9l-3.9 3.9l-3.9 -3.9zM1328.1 486.9l3.9 3.9l-3.9 3.9l-3.9 -3.9zM1329.6 486.4l3.9 3.9l-3.9 3.9l-3.9 -3.9zM1331.1 485.0l3.9 3.9l-3.9 3.9l-3.9 -3.9zM1332.5 484.5l3.9 3.9l-3.9 3.9l-3.9 -3.9zM1333.9 482.4l3.9 3.9l-3.9 3.9l-3.9 -3.9zM1335.4 482.0l3.9 3.9l-3.9 3.9l-3.9 -3.9zM1336.8 479.3l3.9 3.9l-3.9 3.9l-3.9 -3.9zM1338.2 482.1l3.9 3.9l-3.9 3.9l-3.9 -3.9zM1339.7 482.3l3.9 3.9l-3.9 3.9l-3.9 -3.9zM1341.1 482.8l3.9 3.9l-3.9 3.9l-3.9 -3.9zM1342.6 482.1l3.9 3.9l-3.9 3.9l-3.9 -3.9zM1344.2 482.6l3.9 3.9l-3.9 3.9l-3.9 -3.9zM1345.9 483.1l3.9 3.9l-3.9 3.9l-3.9 -3.9zM1347.5 482.1l3.9 3.9l-3.9 3.9l-3.9 -3.9zM1349.2 481.2l3.9 3.9l-3.9 3.9l-3.9 -3.9zM1350.8 482.6l3.9 3.9l-3.9 3.9l-3.9 -3.9zM1352.4 482.6l3.9 3.9l-3.9 3.9l-3.9 -3.9zM1354.0 482.7l3.9 3.9l-3.9 3.9l-3.9 -3.9zM1355.6 480.5l3.9 3.9l-3.9 3.9l-3.9 -3.9zM1357.2 479.0l3.9 3.9l-3.9 3.9l-3.9 -3.9zM1358.8 477.8l3.9 3.9l-3.9 3.9l-3.9 -3.9zM1360.4 474.7l3.9 3.9l-3.9 3.9l-3.9 -3.9zM1362.0 478.7l3.9 3.9l-3.9 3.9l-3.9 -3.9zM1363.6 481.2l3.9 3.9l-3.9 3.9l-3.9 -3.9zM1365.2 484.2l3.9 3.9l-3.9 3.9l-3.9 -3.9zM1366.8 486.5l3.9 3.9l-3.9 3.9l-3.9 -3.9zM1368.3 487.9l3.9 3.9l-3.9 3.9l-3.9 -3.9zM1369.9 489.0l3.9 3.9l-3.9 3.9l-3.9 -3.9zM1371.5 490.4l3.9 3.9l-3.9 3.9l-3.9 -3.9zM1373.1 492.0l3.9 3.9l-3.9 3.9l-3.9 -3.9zM1374.7 493.2l3.9 3.9l-3.9 3.9l-3.9 -3.9zM1376.3 492.2l3.9 3.9l-3.9 3.9l-3.9 -3.9zM1377.9 492.8l3.9 3.9l-3.9 3.9l-3.9 -3.9zM1379.5 493.7l3.9 3.9l-3.9 3.9l-3.9 -3.9zM1381.1 492.7l3.9 3.9l-3.9 3.9l-3.9 -3.9zM1382.7 490.6l3.9 3.9l-3.9 3.9l-3.9 -3.9zM1384.3 491.6l3.9 3.9l-3.9 3.9l-3.9 -3.9zM1385.8 489.9l3.9 3.9l-3.9 3.9l-3.9 -3.9zM1387.4 488.9l3.9 3.9l-3.9 3.9l-3.9 -3.9zM1389.0 487.4l3.9 3.9l-3.9 3.9l-3.9 -3.9zM1390.6 486.3l3.9 3.9l-3.9 3.9l-3.9 -3.9zM1392.2 487.3l3.9 3.9l-3.9 3.9l-3.9 -3.9zM1393.8 487.6l3.9 3.9l-3.9 3.9l-3.9 -3.9zM1395.4 485.8l3.9 3.9l-3.9 3.9l-3.9 -3.9zM1397.0 486.5l3.9 3.9l-3.9 3.9l-3.9 -3.9zM1398.6 485.8l3.9 3.9l-3.9 3.9l-3.9 -3.9zM1400.2 485.3l3.9 3.9l-3.9 3.9l-3.9 -3.9zM1401.8 487.4l3.9 3.9l-3.9 3.9l-3.9 -3.9zM1403.4 488.1l3.9 3.9l-3.9 3.9l-3.9 -3.9zM1404.9 489.1l3.9 3.9l-3.9 3.9l-3.9 -3.9zM1406.5 490.5l3.9 3.9l-3.9 3.9l-3.9 -3.9zM1408.1 492.2l3.9 3.9l-3.9 3.9l-3.9 -3.9zM1409.7 490.8l3.9 3.9l-3.9 3.9l-3.9 -3.9zM1411.3 490.1l3.9 3.9l-3.9 3.9l-3.9 -3.9zM1412.9 488.7l3.9 3.9l-3.9 3.9l-3.9 -3.9zM1414.5 489.0l3.9 3.9l-3.9 3.9l-3.9 -3.9zM1416.1 487.4l3.9 3.9l-3.9 3.9l-3.9 -3.9zM1417.7 485.8l3.9 3.9l-3.9 3.9l-3.9 -3.9zM1419.2 485.4l3.9 3.9l-3.9 3.9l-3.9 -3.9zM1420.8 485.8l3.9 3.9l-3.9 3.9l-3.9 -3.9zM1422.4 485.5l3.9 3.9l-3.9 3.9l-3.9 -3.9zM1424.0 486.4l3.9 3.9l-3.9 3.9l-3.9 -3.9zM1425.6 486.7l3.9 3.9l-3.9 3.9l-3.9 -3.9zM1427.2 487.4l3.9 3.9l-3.9 3.9l-3.9 -3.9zM1428.8 485.5l3.9 3.9l-3.9 3.9l-3.9 -3.9zM1430.4 484.7l3.9 3.9l-3.9 3.9l-3.9 -3.9zM1432.0 484.2l3.9 3.9l-3.9 3.9l-3.9 -3.9zM1433.6 482.5l3.9 3.9l-3.9 3.9l-3.9 -3.9zM1435.1 482.6l3.9 3.9l-3.9 3.9l-3.9 -3.9zM1436.7 481.1l3.9 3.9l-3.9 3.9l-3.9 -3.9zM1438.3 486.2l3.9 3.9l-3.9 3.9l-3.9 -3.9zM1439.9 490.2l3.9 3.9l-3.9 3.9l-3.9 -3.9zM1441.5 493.8l3.9 3.9l-3.9 3.9l-3.9 -3.9zM1443.1 495.0l3.9 3.9l-3.9 3.9l-3.9 -3.9zM1444.7 495.6l3.9 3.9l-3.9 3.9l-3.9 -3.9zM1446.3 497.0l3.9 3.9l-3.9 3.9l-3.9 -3.9zM1447.9 495.0l3.9 3.9l-3.9 3.9l-3.9 -3.9zM1449.5 494.0l3.9 3.9l-3.9 3.9l-3.9 -3.9zM1451.1 493.8l3.9 3.9l-3.9 3.9l-3.9 -3.9zM1452.7 497.3l3.9 3.9l-3.9 3.9l-3.9 -3.9zM1454.2 501.7l3.9 3.9l-3.9 3.9l-3.9 -3.9zM1455.8 502.2l3.9 3.9l-3.9 3.9l-3.9 -3.9zM1457.4 503.1l3.9 3.9l-3.9 3.9l-3.9 -3.9zM1459.0 503.3l3.9 3.9l-3.9 3.9l-3.9 -3.9zM1460.6 505.8l3.9 3.9l-3.9 3.9l-3.9 -3.9zM1462.2 505.7l3.9 3.9l-3.9 3.9l-3.9 -3.9zM1463.8 506.3l3.9 3.9l-3.9 3.9l-3.9 -3.9zM1465.4 506.5l3.9 3.9l-3.9 3.9l-3.9 -3.9z" fill="#FF0000"/>
<text x="79.5" y="76.6" font-size="18.5" font-weight="bold" textLength="161.5" lengthAdjust="spacingAndGlyphs" >invasion de l'Ukraine</text>
<text x="79.5" y="99.8" font-size="18.5" font-weight="bold" textLength="133.2" lengthAdjust="spacingAndGlyphs" >par l'armée russe</text>
<text x="79.5" y="121.8" font-size="18.5" font-weight="bold" textLength="105.5" lengthAdjust="spacingAndGlyphs" >(24/02/2022)</text>
<path d="M128.6 131.0L66.1 136.1M77.1 126.4L64.5 136.2L78.5 143.9" stroke="#000" stroke-width="3.2" fill="none" stroke-linecap="round" stroke-linejoin="round"/>
<text x="255.0" y="83.7" font-size="12.8" textLength="134.5" lengthAdjust="spacingAndGlyphs" >- levée des restrictions</text>
<text x="255.0" y="101.4" font-size="12.8" textLength="111.5" lengthAdjust="spacingAndGlyphs" >sanitaires en Chine</text>
<text x="255.0" y="119.2" font-size="12.8" textLength="99.7" lengthAdjust="spacingAndGlyphs" >- baisse du dollar</text>
<text x="255.0" y="137.0" font-size="12.8" textLength="138.7" lengthAdjust="spacingAndGlyphs" >- inquiètudes sur l'offre</text>
<path d="M259.5 151.5L279.8 423.9M274.3 417.4L279.8 424.5L284.2 416.6" stroke="#000" stroke-width="1.2" fill="none" stroke-linecap="round" stroke-linejoin="round"/>
<text x="406.5" y="74.9" font-size="12.8" textLength="130.8" lengthAdjust="spacingAndGlyphs" >1-nouvel embargo sur</text>
<text x="406.5" y="92.2" font-size="12.8" textLength="78.3" lengthAdjust="spacingAndGlyphs" >pétrole russe</text>
<text x="406.5" y="110.5" font-size="12.8" textLength="139.5" lengthAdjust="spacingAndGlyphs" >2- séisme Turquie-Syrie</text>
<text x="406.5" y="128.9" font-size="12.8" textLength="99.0" lengthAdjust="spacingAndGlyphs" >3- arrêt réserves</text>
<text x="406.5" y="146.2" font-size="12.8" textLength="94.0" lengthAdjust="spacingAndGlyphs" >stratégiques US</text>
<text x="406.5" y="164.6" font-size="12.8" textLength="111.3" lengthAdjust="spacingAndGlyphs" >4- reprise en Chine</text>
<text x="406.5" y="181.9" font-size="12.8" textLength="160.0" lengthAdjust="spacingAndGlyphs" >5- réduction 5% prod russe</text>
<text x="406.5" y="199.2" font-size="12.8" textLength="150.9" lengthAdjust="spacingAndGlyphs" >6-maintien accord OPEP+</text>
<path d="M418.0 218.3L451.5 393.3M445.3 387.4L451.6 393.9L455.0 385.6" stroke="#000" stroke-width="1.2" fill="none" stroke-linecap="round" stroke-linejoin="round"/>
<text x="572.0" y="69.5" font-size="12.8" textLength="66.9" lengthAdjust="spacingAndGlyphs" >-faillite SVB</text>
<text x="572.0" y="87.8" font-size="12.8" textLength="100.9" lengthAdjust="spacingAndGlyphs" >- Pb Credit Suisse</text>
<text x="572.0" y="105.8" font-size="12.8" textLength="108.6" lengthAdjust="spacingAndGlyphs" >- crainte récession</text>
<text x="572.0" y="123.5" font-size="12.8" textLength="79.9" lengthAdjust="spacingAndGlyphs" >- arrêt export</text>
<text x="572.0" y="141.9" font-size="12.8" textLength="87.5" lengthAdjust="spacingAndGlyphs" >pétrole Irakien</text>
<text x="572.0" y="160.3" font-size="12.8" textLength="120.3" lengthAdjust="spacingAndGlyphs" >- réduct prod OPEP+</text>
<text x="572.0" y="177.6" font-size="12.8" textLength="66.9" lengthAdjust="spacingAndGlyphs" >(1,66 Mb/j)</text>
<text x="572.0" y="194.4" font-size="12.8" font-weight="bold" textLength="123.0" lengthAdjust="spacingAndGlyphs" >-doutes sur dette US</text>
<path d="M581.4 212.5L523.2 378.0M520.8 369.9L523.0 378.6L530.2 373.1" stroke="#000" stroke-width="1.2" fill="none" stroke-linecap="round" stroke-linejoin="round"/>
<text x="75.4" y="199.7" font-size="12.8" textLength="103.0" lengthAdjust="spacingAndGlyphs" xml:space="preserve" style="white-space:pre" >- grève  "gazière"</text>
<text x="75.4" y="217.5" font-size="12.8" textLength="71.2" lengthAdjust="spacingAndGlyphs" >en Norvège</text>
<path d="M94.4 230.9L127.1 264.2M118.7 262.7L127.5 264.6L125.7 255.8" stroke="#000" stroke-width="1.2" fill="none" stroke-linecap="round" stroke-linejoin="round"/>
<text x="295.8" y="257.6" font-size="12.8" textLength="102.3" lengthAdjust="spacingAndGlyphs" >-statuquo OPEP+</text>
<text x="295.8" y="275.5" font-size="12.8" textLength="81.0" lengthAdjust="spacingAndGlyphs" >-stocks pleins</text>
<path d="M325.6 282.0L360.6 437.2M354.2 431.5L360.7 437.8L363.9 429.4" stroke="#000" stroke-width="1.2" fill="none" stroke-linecap="round" stroke-linejoin="round"/>
<text x="553.0" y="350.6" font-size="16.8" font-weight="bold" textLength="116.4" lengthAdjust="spacingAndGlyphs" >-le 07/10/2023</text>
<text x="553.0" y="372.0" font-size="16.8" font-weight="bold" textLength="138.9" lengthAdjust="spacingAndGlyphs" >attaque du Hamas</text>
<path d="M584.6 382.2L560.5 405.8M562.1 393.1L559.4 406.8L573.2 404.4" stroke="#000" stroke-width="3.0" fill="none" stroke-linecap="round" stroke-linejoin="round"/>
<text x="703.0" y="316.3" font-size="16.8" font-weight="bold" textLength="111.1" lengthAdjust="spacingAndGlyphs" >le 14/04/2024</text>
<text x="703.0" y="338.8" font-size="16.8" font-weight="bold" textLength="138.9" lengthAdjust="spacingAndGlyphs" >attaque iranienne</text>
<path d="M768.3 352.7L773.8 405.3M764.9 396.1L774.0 406.8L780.7 394.5" stroke="#000" stroke-width="3.0" fill="none" stroke-linecap="round" stroke-linejoin="round"/>
<text x="741.0" y="524.2" font-size="16.8" font-weight="bold" textLength="78.3" lengthAdjust="spacingAndGlyphs" >plus bas le</text>
<text x="741.0" y="547.2" font-size="16.8" font-weight="bold" textLength="93.0" lengthAdjust="spacingAndGlyphs" >23/02/2024</text>
<text x="741.0" y="569.3" font-size="16.8" font-weight="bold" textLength="80.5" lengthAdjust="spacingAndGlyphs" >22 €/Mwh</text>
<path d="M729.5 568.4L710.7 593.6M710.9 585.1L710.3 594.1L718.8 591.0" stroke="#000" stroke-width="1.2" fill="none" stroke-linecap="round" stroke-linejoin="round"/>
<text x="590.0" y="502.5" font-size="12.8" textLength="156.6" lengthAdjust="spacingAndGlyphs" >--pb d'approvisionnement</text>
<text x="590.0" y="520.1" font-size="12.8" textLength="127.7" lengthAdjust="spacingAndGlyphs" >en gaz par la Norvège</text>
<path d="M633.4 523.8L607.7 542.6M610.4 534.6L607.2 543.0L616.2 542.5" stroke="#000" stroke-width="1.2" fill="none" stroke-linecap="round" stroke-linejoin="round"/>
<text x="56.4" y="649.2" font-size="12.8" textLength="112.5" lengthAdjust="spacingAndGlyphs" >- météo +clémente</text>
<text x="56.4" y="667.0" font-size="12.8" textLength="161.5" lengthAdjust="spacingAndGlyphs" >- arrivage de + tankers GNL</text>
<path d="M99.0 622.4L134.1 602.8M130.4 610.5L134.6 602.5L125.6 601.9" stroke="#000" stroke-width="1.2" fill="none" stroke-linecap="round" stroke-linejoin="round"/>
<text x="834.7" y="388.8" font-size="16.8" font-weight="bold" textLength="111.3" lengthAdjust="spacingAndGlyphs" >le 01/10/2024</text>
<text x="834.7" y="409.8" font-size="16.8" font-weight="bold" textLength="138.6" lengthAdjust="spacingAndGlyphs" >attaque iranienne</text>
<path d="M964.9 409.8L989.2 444.3M977.0 440.6L990.1 445.5L989.9 431.5" stroke="#000" stroke-width="3.0" fill="none" stroke-linecap="round" stroke-linejoin="round"/>
<text x="877.5" y="311.1" font-size="16.8" font-weight="bold" textLength="93.7" lengthAdjust="spacingAndGlyphs" >06/11/2024</text>
<text x="877.5" y="334.2" font-size="16.8" font-weight="bold" textLength="86.6" lengthAdjust="spacingAndGlyphs" >élection de</text>
<text x="877.5" y="357.3" font-size="16.8" font-weight="bold" textLength="69.8" lengthAdjust="spacingAndGlyphs" >D. Trump</text>
<path d="M970.4 326.6L1056.4 431.7M1043.9 429.0L1057.3 432.9L1056.1 419.0" stroke="#000" stroke-width="3.0" fill="none" stroke-linecap="round" stroke-linejoin="round"/>
<text x="892.2" y="230.0" font-size="16.8" font-weight="bold" textLength="93.7" lengthAdjust="spacingAndGlyphs" >08/12/2024</text>
<text x="892.2" y="274.6" font-size="16.8" font-weight="bold" textLength="130.7" lengthAdjust="spacingAndGlyphs" >Bachar el Hassad</text>
<text x="895.6" y="252.3" font-size="16.8" font-weight="bold" textLength="67.2" lengthAdjust="spacingAndGlyphs" >chute de</text>
<path d="M1015.3 278.8L1090.9 425.4M1079.3 420.1L1091.6 426.7L1093.3 412.8" stroke="#000" stroke-width="3.0" fill="none" stroke-linecap="round" stroke-linejoin="round"/>
<text x="946.0" y="146.0" font-size="16.8" font-weight="bold" textLength="93.7" lengthAdjust="spacingAndGlyphs" >20/01/2025</text>
<text x="946.0" y="169.1" font-size="16.8" font-weight="bold" textLength="86.1" lengthAdjust="spacingAndGlyphs" >Investiture</text>
<text x="946.0" y="191.4" font-size="16.8" font-weight="bold" textLength="67.2" lengthAdjust="spacingAndGlyphs" >D.Trump</text>
<path d="M1034.2 183.0L1148.8 415.4M1137.3 409.8L1149.5 416.7L1151.5 402.8" stroke="#000" stroke-width="3.0" fill="none" stroke-linecap="round" stroke-linejoin="round"/>
<text x="1071.2" y="87.1" font-size="16.8" font-weight="bold" textLength="135.4" lengthAdjust="spacingAndGlyphs" >-perspective d'un</text>
<text x="1071.2" y="109.9" font-size="16.8" font-weight="bold" textLength="119.1" lengthAdjust="spacingAndGlyphs" >"cessez-le-feu"</text>
<text x="1071.2" y="132.3" font-size="16.8" font-weight="bold" textLength="119.1" lengthAdjust="spacingAndGlyphs" >Ukraine-Russie</text>
<text x="1071.2" y="155.3" font-size="16.8" font-weight="bold" textLength="143.5" lengthAdjust="spacingAndGlyphs" >- taxes douanières</text>
<text x="1071.2" y="178.1" font-size="16.8" font-weight="bold" textLength="56.0" lengthAdjust="spacingAndGlyphs" >- clasch</text>
<text x="1071.2" y="200.5" font-size="16.8" font-weight="bold" textLength="127.2" lengthAdjust="spacingAndGlyphs" >Trump-Zelensky</text>
<path d="M1101.0 213.0L1186.9 410.4M1175.6 404.4L1187.5 411.8L1190.1 398.1" stroke="#000" stroke-width="3.0" fill="none" stroke-linecap="round" stroke-linejoin="round"/>
<text x="1141.2" y="239.1" font-size="16.8" font-weight="bold" textLength="93.6" lengthAdjust="spacingAndGlyphs" >02/04/2025</text>
<text x="1141.2" y="262.9" font-size="16.8" font-weight="bold" textLength="132.3" lengthAdjust="spacingAndGlyphs" >Tornade "Trump"</text>
<text x="1141.2" y="284.4" font-size="16.8" font-weight="bold" textLength="137.3" lengthAdjust="spacingAndGlyphs" >Taxes Douanières</text>
<path d="M1184.2 304.3L1235.0 446.8M1224.2 440.0L1235.5 448.2L1239.1 434.7" stroke="#000" stroke-width="3.0" fill="none" stroke-linecap="round" stroke-linejoin="round"/>
<text x="1271.4" y="83.4" font-size="16.8" font-weight="bold" textLength="93.5" lengthAdjust="spacingAndGlyphs" >13/06/2025</text>
<text x="1271.4" y="105.8" font-size="16.8" font-weight="bold" textLength="58.4" lengthAdjust="spacingAndGlyphs" >frappes</text>
<text x="1271.4" y="128.2" font-size="16.8" font-weight="bold" textLength="94.4" lengthAdjust="spacingAndGlyphs" >israéiiennes</text>
<text x="1271.4" y="151.1" font-size="16.8" font-weight="bold" textLength="124.8" lengthAdjust="spacingAndGlyphs" >sur installations</text>
<text x="1271.4" y="174.0" font-size="16.8" font-weight="bold" textLength="166.7" lengthAdjust="spacingAndGlyphs" >nucléaires iraniennes</text>
<text x="1271.4" y="196.9" font-size="16.8" font-weight="bold" textLength="161.4" lengthAdjust="spacingAndGlyphs" >- le 22/06 frappes US</text>
<text x="1271.4" y="219.1" font-size="16.8" font-weight="bold" textLength="203.8" lengthAdjust="spacingAndGlyphs" >- le 24/06 trêve Iran-Israël</text>
<path d="M1313.4 228.0L1338.7 425.2M1332.9 418.0L1338.8 426.1L1342.4 416.8" stroke="#000" stroke-width="1.8" fill="none" stroke-linecap="round" stroke-linejoin="round"/>
<text x="1221.6" y="317.5" font-size="12.8" textLength="38.7" lengthAdjust="spacingAndGlyphs" >OPEP+</text>
<text x="1221.6" y="335.7" font-size="12.8" textLength="93.9" lengthAdjust="spacingAndGlyphs" >mai+juin+juillet</text>
<text x="1221.6" y="352.2" font-size="12.8" textLength="70.1" lengthAdjust="spacingAndGlyphs" xml:space="preserve" style="white-space:pre" >411  000  b/j</text>
<path d="M1251.4 367.1L1279.7 460.0M1269.2 452.6L1280.1 461.4L1284.3 448.0" stroke="#000" stroke-width="3.0" fill="none" stroke-linecap="round" stroke-linejoin="round"/>
<text x="1340.7" y="244.8" font-size="16.8" font-weight="bold" textLength="92.9" lengthAdjust="spacingAndGlyphs" >15/08/2025</text>
<text x="1340.7" y="267.7" font-size="16.8" font-weight="bold" textLength="77.0" lengthAdjust="spacingAndGlyphs" >rencontre</text>
<text x="1340.7" y="290.0" font-size="16.8" font-weight="bold" textLength="117.4" lengthAdjust="spacingAndGlyphs" >Poutine-Trump</text>
<text x="1340.7" y="312.2" font-size="16.8" font-weight="bold" textLength="95.4" lengthAdjust="spacingAndGlyphs" >à Anchorage</text>
<path d="M1340.7 318.6L1385.4 439.6M1374.5 432.9L1385.9 441.0L1389.3 427.4" stroke="#000" stroke-width="3.0" fill="none" stroke-linecap="round" stroke-linejoin="round"/>
<text x="1374.7" y="336.1" font-size="12.8" textLength="66.8" lengthAdjust="spacingAndGlyphs" >01/09/2025</text>
<text x="1374.7" y="353.6" font-size="12.8" textLength="64.6" lengthAdjust="spacingAndGlyphs" >OCS [Chine</text>
<text x="1374.7" y="371.1" font-size="12.8" textLength="70.0" lengthAdjust="spacingAndGlyphs" >Russie-Inde</text>
<path d="M1385.9 377.4L1419.4 456.7M1408.4 450.9L1420.2 458.5L1423.0 444.8" stroke="#000" stroke-width="4.0" fill="none" stroke-linecap="round" stroke-linejoin="round"/>
<text x="1329.7" y="524.5" font-size="13.2" font-weight="bold" textLength="67.1" lengthAdjust="spacingAndGlyphs" >09/10/2025</text>
<text x="1329.7" y="542.3" font-size="13.2" font-weight="bold" textLength="75.8" lengthAdjust="spacingAndGlyphs" >cessez le feu</text>
<text x="1329.7" y="560.1" font-size="13.2" font-weight="bold" textLength="79.8" lengthAdjust="spacingAndGlyphs" >Israël-Hamas</text>
<path d="M1410.6 532.7L1441.4 515.3M1436.9 526.9L1443.1 514.3L1429.2 513.1" stroke="#000" stroke-width="4.0" fill="none" stroke-linecap="round" stroke-linejoin="round"/>
<text x="874.8" y="624.4" font-size="16.8" font-weight="bold" textLength="65.5" lengthAdjust="spacingAndGlyphs" >annonce</text>
<text x="874.8" y="648.2" font-size="16.8" font-weight="bold" textLength="138.8" lengthAdjust="spacingAndGlyphs" >arrêt du gisement</text>
<text x="874.8" y="669.7" font-size="16.8" font-weight="bold" textLength="171.2" lengthAdjust="spacingAndGlyphs" >de Groningue fin 2024</text>
<path d="M1028.5 642.8L1086.6 594.7M1083.9 607.2L1087.8 593.7L1073.9 595.0" stroke="#000" stroke-width="3.0" fill="none" stroke-linecap="round" stroke-linejoin="round"/>
<text x="1097.7" y="625.3" font-size="16.8" font-weight="bold" textLength="153.7" lengthAdjust="spacingAndGlyphs" >arrêt le 31/12/2024</text>
<text x="1097.7" y="648.7" font-size="16.8" font-weight="bold" textLength="130.2" lengthAdjust="spacingAndGlyphs" >transit ukrainien</text>
<text x="1097.7" y="670.3" font-size="16.8" font-weight="bold" textLength="94.4" lengthAdjust="spacingAndGlyphs" >du gaz russe</text>
<path d="M1187.5 597.0L1113.5 581.6M1124.9 575.9L1112.0 581.3L1121.7 591.4" stroke="#000" stroke-width="3.0" fill="none" stroke-linecap="round" stroke-linejoin="round"/>
<text x="1086.6" y="502.4" font-size="12.8" textLength="85.0" lengthAdjust="spacingAndGlyphs" xml:space="preserve" style="white-space:pre" >-baisse  stocks</text>
<text x="1086.6" y="520.2" font-size="12.8" textLength="91.7" lengthAdjust="spacingAndGlyphs" >- vague de froid</text>
<path d="M1073.2 517.5L1101.8 541.1M1093.4 540.5L1102.3 541.5L1099.6 532.9" stroke="#000" stroke-width="1.2" fill="none" stroke-linecap="round" stroke-linejoin="round"/>
<path d="M1191.7 506.8L1213.5 521.0M1205.0 521.3L1214.0 521.3L1210.4 513.1" stroke="#000" stroke-width="1.2" fill="none" stroke-linecap="round" stroke-linejoin="round"/>
<text x="925.7" y="501.2" font-size="12.8" textLength="89.4" lengthAdjust="spacingAndGlyphs" >-vague de froid</text>
<text x="925.7" y="519.1" font-size="12.8" textLength="101.7" lengthAdjust="spacingAndGlyphs" >pb gaz norvégien</text>
<text x="925.7" y="537.7" font-size="12.8" textLength="65.9" lengthAdjust="spacingAndGlyphs" >pb GNL usa</text>
<path d="M166.3 742.1L63.6 738.2M72.2 731.7L62.0 738.1L71.6 745.3M156.1 748.5L166.3 742.1L156.7 734.9" stroke="#FF0000" stroke-width="3.2" fill="none" stroke-linecap="round" stroke-linejoin="round"/>
<path d="M171.2 742.3L633.6 747.9M625.2 754.6L635.2 747.9L625.4 741.0M181.2 735.6L171.2 742.3L181.0 749.2" stroke="#FF0000" stroke-width="3.2" fill="none" stroke-linecap="round" stroke-linejoin="round"/>
<path d="M639.5 747.9L1102.9 742.6M1095.0 748.9L1104.0 742.6L1094.9 736.5M648.5 741.6L639.5 747.9L648.6 754.0" stroke="#FF0000" stroke-width="2.2" fill="none" stroke-linecap="round" stroke-linejoin="round"/>
<text x="89.4" y="733.9" font-size="14.5" font-weight="bold" fill="#FF0000" textLength="31.1" lengthAdjust="spacingAndGlyphs" >2022</text>
<text x="385.3" y="740.0" font-size="14.5" font-weight="bold" fill="#FF0000" textLength="30.8" lengthAdjust="spacingAndGlyphs" >2023</text>
<text x="840.6" y="735.3" font-size="14.5" font-weight="bold" fill="#FF0000" textLength="31.6" lengthAdjust="spacingAndGlyphs" >2024</text>
<path d="M633.2 771.5H659.3" stroke="#00B0F0" stroke-width="1.6"/>
<rect x="643.3" y="768.5" width="6" height="6" fill="#00B0F0"/>
<path d="M777.2 771.5H802.4" stroke="#FF0000" stroke-width="1.6"/>
<path d="M790 768.5l3 3l-3 3l-3 -3z" fill="#FF0000"/>
<text x="662.7" y="775.2" font-size="12.8" textLength="87.7" lengthAdjust="spacingAndGlyphs" >prix gaz PEGN</text>
<text x="805.8" y="775.2" font-size="12.8" textLength="82.9" lengthAdjust="spacingAndGlyphs" >prix du Brent</text>
<text x="21.8" y="772.7" font-size="10.5" textLength="96.0" lengthAdjust="spacingAndGlyphs" >USGT-ET- 18/10/2025</text>
<text x="1420.2" y="771.6" font-size="12.8" textLength="69.1" lengthAdjust="spacingAndGlyphs" >source: eex</text>
</svg></body></html>
